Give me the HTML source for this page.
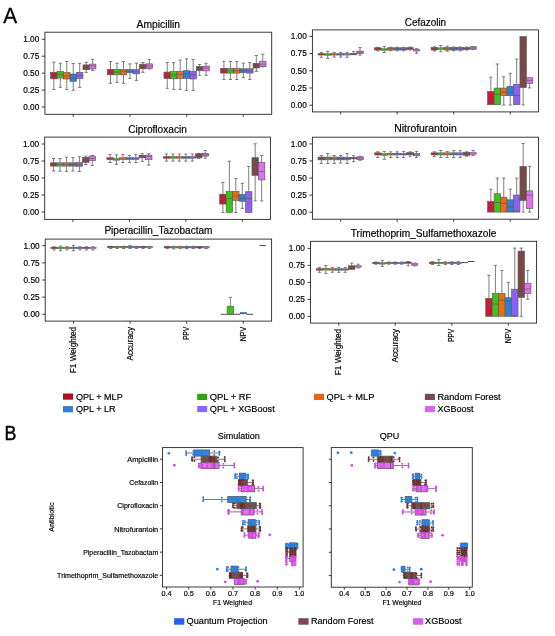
<!DOCTYPE html>
<html><head><meta charset="utf-8"><style>
html,body{margin:0;padding:0;background:#fff;}
svg{display:block;will-change:transform;}
text{font-family:"Liberation Sans", sans-serif;stroke:#000;stroke-width:0.18px;}
</style></head><body>
<svg width="555" height="636" viewBox="0 0 555 636">
<rect x="0" y="0" width="555" height="636" fill="#fff"/>
<line x1="53.81" y1="62.10" x2="53.81" y2="72.30" stroke="#6e6e6e" stroke-width="0.9"/>
<line x1="52.19" y1="62.10" x2="55.43" y2="62.10" stroke="#6e6e6e" stroke-width="0.9"/>
<line x1="53.81" y1="78.80" x2="53.81" y2="89.50" stroke="#6e6e6e" stroke-width="0.9"/>
<line x1="52.19" y1="89.50" x2="55.43" y2="89.50" stroke="#6e6e6e" stroke-width="0.9"/>
<rect x="50.57" y="72.30" width="6.48" height="6.50" fill="#d0153a" stroke="#5a5a5a" stroke-width="0.65"/>
<line x1="50.57" y1="76.00" x2="57.05" y2="76.00" stroke="#5a5a5a" stroke-width="0.7"/>
<line x1="60.29" y1="63.30" x2="60.29" y2="71.40" stroke="#6e6e6e" stroke-width="0.9"/>
<line x1="58.67" y1="63.30" x2="61.91" y2="63.30" stroke="#6e6e6e" stroke-width="0.9"/>
<line x1="60.29" y1="78.10" x2="60.29" y2="87.30" stroke="#6e6e6e" stroke-width="0.9"/>
<line x1="58.67" y1="87.30" x2="61.91" y2="87.30" stroke="#6e6e6e" stroke-width="0.9"/>
<rect x="57.05" y="71.40" width="6.48" height="6.70" fill="#3cc21a" stroke="#5a5a5a" stroke-width="0.65"/>
<line x1="57.05" y1="74.60" x2="63.53" y2="74.60" stroke="#5a5a5a" stroke-width="0.7"/>
<line x1="66.77" y1="61.50" x2="66.77" y2="72.50" stroke="#6e6e6e" stroke-width="0.9"/>
<line x1="65.15" y1="61.50" x2="68.39" y2="61.50" stroke="#6e6e6e" stroke-width="0.9"/>
<line x1="66.77" y1="79.00" x2="66.77" y2="89.50" stroke="#6e6e6e" stroke-width="0.9"/>
<line x1="65.15" y1="89.50" x2="68.39" y2="89.50" stroke="#6e6e6e" stroke-width="0.9"/>
<rect x="63.53" y="72.50" width="6.48" height="6.50" fill="#ee6c0f" stroke="#5a5a5a" stroke-width="0.65"/>
<line x1="63.53" y1="76.00" x2="70.01" y2="76.00" stroke="#5a5a5a" stroke-width="0.7"/>
<line x1="73.25" y1="63.50" x2="73.25" y2="74.00" stroke="#6e6e6e" stroke-width="0.9"/>
<line x1="71.63" y1="63.50" x2="74.87" y2="63.50" stroke="#6e6e6e" stroke-width="0.9"/>
<line x1="73.25" y1="81.30" x2="73.25" y2="90.30" stroke="#6e6e6e" stroke-width="0.9"/>
<line x1="71.63" y1="90.30" x2="74.87" y2="90.30" stroke="#6e6e6e" stroke-width="0.9"/>
<rect x="70.01" y="74.00" width="6.48" height="7.30" fill="#2e80d6" stroke="#5a5a5a" stroke-width="0.65"/>
<line x1="70.01" y1="77.80" x2="76.49" y2="77.80" stroke="#5a5a5a" stroke-width="0.7"/>
<line x1="79.73" y1="63.30" x2="79.73" y2="72.30" stroke="#6e6e6e" stroke-width="0.9"/>
<line x1="78.11" y1="63.30" x2="81.35" y2="63.30" stroke="#6e6e6e" stroke-width="0.9"/>
<line x1="79.73" y1="78.60" x2="79.73" y2="87.40" stroke="#6e6e6e" stroke-width="0.9"/>
<line x1="78.11" y1="87.40" x2="81.35" y2="87.40" stroke="#6e6e6e" stroke-width="0.9"/>
<rect x="76.49" y="72.30" width="6.48" height="6.30" fill="#8f60f5" stroke="#5a5a5a" stroke-width="0.65"/>
<line x1="76.49" y1="75.60" x2="82.97" y2="75.60" stroke="#5a5a5a" stroke-width="0.7"/>
<line x1="86.21" y1="62.30" x2="86.21" y2="64.90" stroke="#6e6e6e" stroke-width="0.9"/>
<line x1="84.59" y1="62.30" x2="87.83" y2="62.30" stroke="#6e6e6e" stroke-width="0.9"/>
<line x1="86.21" y1="69.70" x2="86.21" y2="72.40" stroke="#6e6e6e" stroke-width="0.9"/>
<line x1="84.59" y1="72.40" x2="87.83" y2="72.40" stroke="#6e6e6e" stroke-width="0.9"/>
<rect x="82.97" y="64.90" width="6.48" height="4.80" fill="#7a4848" stroke="#5a5a5a" stroke-width="0.65"/>
<line x1="82.97" y1="67.40" x2="89.45" y2="67.40" stroke="#5a5a5a" stroke-width="0.7"/>
<line x1="92.69" y1="59.40" x2="92.69" y2="64.10" stroke="#6e6e6e" stroke-width="0.9"/>
<line x1="91.07" y1="59.40" x2="94.31" y2="59.40" stroke="#6e6e6e" stroke-width="0.9"/>
<line x1="92.69" y1="68.90" x2="92.69" y2="70.40" stroke="#6e6e6e" stroke-width="0.9"/>
<line x1="91.07" y1="70.40" x2="94.31" y2="70.40" stroke="#6e6e6e" stroke-width="0.9"/>
<rect x="89.45" y="64.10" width="6.48" height="4.80" fill="#e070f0" stroke="#5a5a5a" stroke-width="0.65"/>
<line x1="89.45" y1="65.90" x2="95.93" y2="65.90" stroke="#5a5a5a" stroke-width="0.7"/>
<line x1="110.51" y1="61.50" x2="110.51" y2="69.30" stroke="#6e6e6e" stroke-width="0.9"/>
<line x1="108.89" y1="61.50" x2="112.13" y2="61.50" stroke="#6e6e6e" stroke-width="0.9"/>
<line x1="110.51" y1="74.80" x2="110.51" y2="83.30" stroke="#6e6e6e" stroke-width="0.9"/>
<line x1="108.89" y1="83.30" x2="112.13" y2="83.30" stroke="#6e6e6e" stroke-width="0.9"/>
<rect x="107.27" y="69.30" width="6.48" height="5.50" fill="#d0153a" stroke="#5a5a5a" stroke-width="0.65"/>
<line x1="107.27" y1="72.10" x2="113.75" y2="72.10" stroke="#5a5a5a" stroke-width="0.7"/>
<line x1="116.99" y1="63.20" x2="116.99" y2="69.30" stroke="#6e6e6e" stroke-width="0.9"/>
<line x1="115.37" y1="63.20" x2="118.61" y2="63.20" stroke="#6e6e6e" stroke-width="0.9"/>
<line x1="116.99" y1="74.80" x2="116.99" y2="82.40" stroke="#6e6e6e" stroke-width="0.9"/>
<line x1="115.37" y1="82.40" x2="118.61" y2="82.40" stroke="#6e6e6e" stroke-width="0.9"/>
<rect x="113.75" y="69.30" width="6.48" height="5.50" fill="#3cc21a" stroke="#5a5a5a" stroke-width="0.65"/>
<line x1="113.75" y1="72.10" x2="120.23" y2="72.10" stroke="#5a5a5a" stroke-width="0.7"/>
<line x1="123.47" y1="61.50" x2="123.47" y2="69.60" stroke="#6e6e6e" stroke-width="0.9"/>
<line x1="121.85" y1="61.50" x2="125.09" y2="61.50" stroke="#6e6e6e" stroke-width="0.9"/>
<line x1="123.47" y1="74.80" x2="123.47" y2="83.30" stroke="#6e6e6e" stroke-width="0.9"/>
<line x1="121.85" y1="83.30" x2="125.09" y2="83.30" stroke="#6e6e6e" stroke-width="0.9"/>
<rect x="120.23" y="69.60" width="6.48" height="5.20" fill="#ee6c0f" stroke="#5a5a5a" stroke-width="0.65"/>
<line x1="120.23" y1="71.20" x2="126.71" y2="71.20" stroke="#5a5a5a" stroke-width="0.7"/>
<line x1="129.95" y1="63.90" x2="129.95" y2="69.60" stroke="#6e6e6e" stroke-width="0.9"/>
<line x1="128.33" y1="63.90" x2="131.57" y2="63.90" stroke="#6e6e6e" stroke-width="0.9"/>
<line x1="129.95" y1="72.80" x2="129.95" y2="78.40" stroke="#6e6e6e" stroke-width="0.9"/>
<line x1="128.33" y1="78.40" x2="131.57" y2="78.40" stroke="#6e6e6e" stroke-width="0.9"/>
<rect x="126.71" y="69.60" width="6.48" height="3.20" fill="#2e80d6" stroke="#5a5a5a" stroke-width="0.65"/>
<line x1="126.71" y1="71.20" x2="133.19" y2="71.20" stroke="#5a5a5a" stroke-width="0.7"/>
<line x1="136.43" y1="63.20" x2="136.43" y2="69.60" stroke="#6e6e6e" stroke-width="0.9"/>
<line x1="134.81" y1="63.20" x2="138.05" y2="63.20" stroke="#6e6e6e" stroke-width="0.9"/>
<line x1="136.43" y1="73.90" x2="136.43" y2="80.40" stroke="#6e6e6e" stroke-width="0.9"/>
<line x1="134.81" y1="80.40" x2="138.05" y2="80.40" stroke="#6e6e6e" stroke-width="0.9"/>
<rect x="133.19" y="69.60" width="6.48" height="4.30" fill="#8f60f5" stroke="#5a5a5a" stroke-width="0.65"/>
<line x1="133.19" y1="71.80" x2="139.67" y2="71.80" stroke="#5a5a5a" stroke-width="0.7"/>
<line x1="142.91" y1="62.60" x2="142.91" y2="64.20" stroke="#6e6e6e" stroke-width="0.9"/>
<line x1="141.29" y1="62.60" x2="144.53" y2="62.60" stroke="#6e6e6e" stroke-width="0.9"/>
<line x1="142.91" y1="68.80" x2="142.91" y2="72.30" stroke="#6e6e6e" stroke-width="0.9"/>
<line x1="141.29" y1="72.30" x2="144.53" y2="72.30" stroke="#6e6e6e" stroke-width="0.9"/>
<rect x="139.67" y="64.20" width="6.48" height="4.60" fill="#7a4848" stroke="#5a5a5a" stroke-width="0.65"/>
<line x1="139.67" y1="66.70" x2="146.15" y2="66.70" stroke="#5a5a5a" stroke-width="0.7"/>
<line x1="149.39" y1="59.50" x2="149.39" y2="63.90" stroke="#6e6e6e" stroke-width="0.9"/>
<line x1="147.77" y1="59.50" x2="151.01" y2="59.50" stroke="#6e6e6e" stroke-width="0.9"/>
<line x1="149.39" y1="68.50" x2="149.39" y2="69.00" stroke="#6e6e6e" stroke-width="0.9"/>
<line x1="147.77" y1="69.00" x2="151.01" y2="69.00" stroke="#6e6e6e" stroke-width="0.9"/>
<rect x="146.15" y="63.90" width="6.48" height="4.60" fill="#e070f0" stroke="#5a5a5a" stroke-width="0.65"/>
<line x1="146.15" y1="66.10" x2="152.63" y2="66.10" stroke="#5a5a5a" stroke-width="0.7"/>
<line x1="167.21" y1="62.60" x2="167.21" y2="72.10" stroke="#6e6e6e" stroke-width="0.9"/>
<line x1="165.59" y1="62.60" x2="168.83" y2="62.60" stroke="#6e6e6e" stroke-width="0.9"/>
<line x1="167.21" y1="78.50" x2="167.21" y2="88.30" stroke="#6e6e6e" stroke-width="0.9"/>
<line x1="165.59" y1="88.30" x2="168.83" y2="88.30" stroke="#6e6e6e" stroke-width="0.9"/>
<rect x="163.97" y="72.10" width="6.48" height="6.40" fill="#d0153a" stroke="#5a5a5a" stroke-width="0.65"/>
<line x1="163.97" y1="75.00" x2="170.45" y2="75.00" stroke="#5a5a5a" stroke-width="0.7"/>
<line x1="173.69" y1="62.60" x2="173.69" y2="71.40" stroke="#6e6e6e" stroke-width="0.9"/>
<line x1="172.07" y1="62.60" x2="175.31" y2="62.60" stroke="#6e6e6e" stroke-width="0.9"/>
<line x1="173.69" y1="78.80" x2="173.69" y2="89.40" stroke="#6e6e6e" stroke-width="0.9"/>
<line x1="172.07" y1="89.40" x2="175.31" y2="89.40" stroke="#6e6e6e" stroke-width="0.9"/>
<rect x="170.45" y="71.40" width="6.48" height="7.40" fill="#3cc21a" stroke="#5a5a5a" stroke-width="0.65"/>
<line x1="170.45" y1="75.00" x2="176.93" y2="75.00" stroke="#5a5a5a" stroke-width="0.7"/>
<line x1="180.17" y1="60.20" x2="180.17" y2="71.40" stroke="#6e6e6e" stroke-width="0.9"/>
<line x1="178.55" y1="60.20" x2="181.79" y2="60.20" stroke="#6e6e6e" stroke-width="0.9"/>
<line x1="180.17" y1="78.50" x2="180.17" y2="89.40" stroke="#6e6e6e" stroke-width="0.9"/>
<line x1="178.55" y1="89.40" x2="181.79" y2="89.40" stroke="#6e6e6e" stroke-width="0.9"/>
<rect x="176.93" y="71.40" width="6.48" height="7.10" fill="#ee6c0f" stroke="#5a5a5a" stroke-width="0.65"/>
<line x1="176.93" y1="74.50" x2="183.41" y2="74.50" stroke="#5a5a5a" stroke-width="0.7"/>
<line x1="186.65" y1="58.80" x2="186.65" y2="70.70" stroke="#6e6e6e" stroke-width="0.9"/>
<line x1="185.03" y1="58.80" x2="188.27" y2="58.80" stroke="#6e6e6e" stroke-width="0.9"/>
<line x1="186.65" y1="78.50" x2="186.65" y2="90.40" stroke="#6e6e6e" stroke-width="0.9"/>
<line x1="185.03" y1="90.40" x2="188.27" y2="90.40" stroke="#6e6e6e" stroke-width="0.9"/>
<rect x="183.41" y="70.70" width="6.48" height="7.80" fill="#2e80d6" stroke="#5a5a5a" stroke-width="0.65"/>
<line x1="183.41" y1="73.60" x2="189.89" y2="73.60" stroke="#5a5a5a" stroke-width="0.7"/>
<line x1="193.13" y1="59.50" x2="193.13" y2="71.40" stroke="#6e6e6e" stroke-width="0.9"/>
<line x1="191.51" y1="59.50" x2="194.75" y2="59.50" stroke="#6e6e6e" stroke-width="0.9"/>
<line x1="193.13" y1="79.00" x2="193.13" y2="90.40" stroke="#6e6e6e" stroke-width="0.9"/>
<line x1="191.51" y1="90.40" x2="194.75" y2="90.40" stroke="#6e6e6e" stroke-width="0.9"/>
<rect x="189.89" y="71.40" width="6.48" height="7.60" fill="#8f60f5" stroke="#5a5a5a" stroke-width="0.65"/>
<line x1="189.89" y1="74.80" x2="196.37" y2="74.80" stroke="#5a5a5a" stroke-width="0.7"/>
<line x1="199.61" y1="64.50" x2="199.61" y2="66.40" stroke="#6e6e6e" stroke-width="0.9"/>
<line x1="197.99" y1="64.50" x2="201.23" y2="64.50" stroke="#6e6e6e" stroke-width="0.9"/>
<line x1="199.61" y1="70.70" x2="199.61" y2="75.30" stroke="#6e6e6e" stroke-width="0.9"/>
<line x1="197.99" y1="75.30" x2="201.23" y2="75.30" stroke="#6e6e6e" stroke-width="0.9"/>
<rect x="196.37" y="66.40" width="6.48" height="4.30" fill="#7a4848" stroke="#5a5a5a" stroke-width="0.65"/>
<line x1="196.37" y1="68.50" x2="202.85" y2="68.50" stroke="#5a5a5a" stroke-width="0.7"/>
<line x1="206.09" y1="63.30" x2="206.09" y2="66.10" stroke="#6e6e6e" stroke-width="0.9"/>
<line x1="204.47" y1="63.30" x2="207.71" y2="63.30" stroke="#6e6e6e" stroke-width="0.9"/>
<line x1="206.09" y1="70.90" x2="206.09" y2="75.30" stroke="#6e6e6e" stroke-width="0.9"/>
<line x1="204.47" y1="75.30" x2="207.71" y2="75.30" stroke="#6e6e6e" stroke-width="0.9"/>
<rect x="202.85" y="66.10" width="6.48" height="4.80" fill="#e070f0" stroke="#5a5a5a" stroke-width="0.65"/>
<line x1="202.85" y1="68.00" x2="209.33" y2="68.00" stroke="#5a5a5a" stroke-width="0.7"/>
<line x1="223.91" y1="61.30" x2="223.91" y2="68.30" stroke="#6e6e6e" stroke-width="0.9"/>
<line x1="222.29" y1="61.30" x2="225.53" y2="61.30" stroke="#6e6e6e" stroke-width="0.9"/>
<line x1="223.91" y1="73.10" x2="223.91" y2="79.50" stroke="#6e6e6e" stroke-width="0.9"/>
<line x1="222.29" y1="79.50" x2="225.53" y2="79.50" stroke="#6e6e6e" stroke-width="0.9"/>
<rect x="220.67" y="68.30" width="6.48" height="4.80" fill="#d0153a" stroke="#5a5a5a" stroke-width="0.65"/>
<line x1="220.67" y1="70.70" x2="227.15" y2="70.70" stroke="#5a5a5a" stroke-width="0.7"/>
<line x1="230.39" y1="61.50" x2="230.39" y2="68.30" stroke="#6e6e6e" stroke-width="0.9"/>
<line x1="228.77" y1="61.50" x2="232.01" y2="61.50" stroke="#6e6e6e" stroke-width="0.9"/>
<line x1="230.39" y1="73.10" x2="230.39" y2="79.50" stroke="#6e6e6e" stroke-width="0.9"/>
<line x1="228.77" y1="79.50" x2="232.01" y2="79.50" stroke="#6e6e6e" stroke-width="0.9"/>
<rect x="227.15" y="68.30" width="6.48" height="4.80" fill="#3cc21a" stroke="#5a5a5a" stroke-width="0.65"/>
<line x1="227.15" y1="70.70" x2="233.63" y2="70.70" stroke="#5a5a5a" stroke-width="0.7"/>
<line x1="236.87" y1="61.50" x2="236.87" y2="68.30" stroke="#6e6e6e" stroke-width="0.9"/>
<line x1="235.25" y1="61.50" x2="238.49" y2="61.50" stroke="#6e6e6e" stroke-width="0.9"/>
<line x1="236.87" y1="73.10" x2="236.87" y2="79.50" stroke="#6e6e6e" stroke-width="0.9"/>
<line x1="235.25" y1="79.50" x2="238.49" y2="79.50" stroke="#6e6e6e" stroke-width="0.9"/>
<rect x="233.63" y="68.30" width="6.48" height="4.80" fill="#ee6c0f" stroke="#5a5a5a" stroke-width="0.65"/>
<line x1="233.63" y1="70.70" x2="240.11" y2="70.70" stroke="#5a5a5a" stroke-width="0.7"/>
<line x1="243.35" y1="63.10" x2="243.35" y2="68.80" stroke="#6e6e6e" stroke-width="0.9"/>
<line x1="241.73" y1="63.10" x2="244.97" y2="63.10" stroke="#6e6e6e" stroke-width="0.9"/>
<line x1="243.35" y1="72.60" x2="243.35" y2="77.70" stroke="#6e6e6e" stroke-width="0.9"/>
<line x1="241.73" y1="77.70" x2="244.97" y2="77.70" stroke="#6e6e6e" stroke-width="0.9"/>
<rect x="240.11" y="68.80" width="6.48" height="3.80" fill="#2e80d6" stroke="#5a5a5a" stroke-width="0.65"/>
<line x1="240.11" y1="70.70" x2="246.59" y2="70.70" stroke="#5a5a5a" stroke-width="0.7"/>
<line x1="249.83" y1="62.60" x2="249.83" y2="68.70" stroke="#6e6e6e" stroke-width="0.9"/>
<line x1="248.21" y1="62.60" x2="251.45" y2="62.60" stroke="#6e6e6e" stroke-width="0.9"/>
<line x1="249.83" y1="73.10" x2="249.83" y2="79.50" stroke="#6e6e6e" stroke-width="0.9"/>
<line x1="248.21" y1="79.50" x2="251.45" y2="79.50" stroke="#6e6e6e" stroke-width="0.9"/>
<rect x="246.59" y="68.70" width="6.48" height="4.40" fill="#8f60f5" stroke="#5a5a5a" stroke-width="0.65"/>
<line x1="246.59" y1="71.00" x2="253.07" y2="71.00" stroke="#5a5a5a" stroke-width="0.7"/>
<line x1="256.31" y1="55.50" x2="256.31" y2="63.30" stroke="#6e6e6e" stroke-width="0.9"/>
<line x1="254.69" y1="55.50" x2="257.93" y2="55.50" stroke="#6e6e6e" stroke-width="0.9"/>
<line x1="256.31" y1="68.00" x2="256.31" y2="71.40" stroke="#6e6e6e" stroke-width="0.9"/>
<line x1="254.69" y1="71.40" x2="257.93" y2="71.40" stroke="#6e6e6e" stroke-width="0.9"/>
<rect x="253.07" y="63.30" width="6.48" height="4.70" fill="#7a4848" stroke="#5a5a5a" stroke-width="0.65"/>
<line x1="253.07" y1="65.50" x2="259.55" y2="65.50" stroke="#5a5a5a" stroke-width="0.7"/>
<line x1="262.79" y1="54.20" x2="262.79" y2="61.20" stroke="#6e6e6e" stroke-width="0.9"/>
<line x1="261.17" y1="54.20" x2="264.41" y2="54.20" stroke="#6e6e6e" stroke-width="0.9"/>
<line x1="262.79" y1="66.70" x2="262.79" y2="66.90" stroke="#6e6e6e" stroke-width="0.9"/>
<line x1="261.17" y1="66.90" x2="264.41" y2="66.90" stroke="#6e6e6e" stroke-width="0.9"/>
<rect x="259.55" y="61.20" width="6.48" height="5.50" fill="#e070f0" stroke="#5a5a5a" stroke-width="0.65"/>
<line x1="259.55" y1="64.20" x2="266.03" y2="64.20" stroke="#5a5a5a" stroke-width="0.7"/>
<rect x="44.90" y="32.20" width="226.80" height="82.10" fill="none" stroke="#262626" stroke-width="0.9"/>
<line x1="41.90" y1="39.30" x2="44.90" y2="39.30" stroke="#262626" stroke-width="0.9"/>
<text x="39.30" y="42.25" font-size="8.3" text-anchor="end" fill="#000" textLength="16.10" lengthAdjust="spacingAndGlyphs">1.00</text>
<line x1="41.90" y1="56.22" x2="44.90" y2="56.22" stroke="#262626" stroke-width="0.9"/>
<text x="39.30" y="59.17" font-size="8.3" text-anchor="end" fill="#000" textLength="16.10" lengthAdjust="spacingAndGlyphs">0.75</text>
<line x1="41.90" y1="73.15" x2="44.90" y2="73.15" stroke="#262626" stroke-width="0.9"/>
<text x="39.30" y="76.10" font-size="8.3" text-anchor="end" fill="#000" textLength="16.10" lengthAdjust="spacingAndGlyphs">0.50</text>
<line x1="41.90" y1="90.08" x2="44.90" y2="90.08" stroke="#262626" stroke-width="0.9"/>
<text x="39.30" y="93.03" font-size="8.3" text-anchor="end" fill="#000" textLength="16.10" lengthAdjust="spacingAndGlyphs">0.25</text>
<line x1="41.90" y1="107.00" x2="44.90" y2="107.00" stroke="#262626" stroke-width="0.9"/>
<text x="39.30" y="109.95" font-size="8.3" text-anchor="end" fill="#000" textLength="16.10" lengthAdjust="spacingAndGlyphs">0.00</text>
<line x1="73.25" y1="114.30" x2="73.25" y2="116.80" stroke="#262626" stroke-width="0.9"/>
<line x1="129.95" y1="114.30" x2="129.95" y2="116.80" stroke="#262626" stroke-width="0.9"/>
<line x1="186.65" y1="114.30" x2="186.65" y2="116.80" stroke="#262626" stroke-width="0.9"/>
<line x1="243.35" y1="114.30" x2="243.35" y2="116.80" stroke="#262626" stroke-width="0.9"/>
<text x="158.30" y="28.00" font-size="10" text-anchor="middle" fill="#000" textLength="43.50" lengthAdjust="spacingAndGlyphs">Ampicillin</text>
<line x1="321.28" y1="52.40" x2="321.28" y2="53.70" stroke="#6e6e6e" stroke-width="0.9"/>
<line x1="319.67" y1="52.40" x2="322.90" y2="52.40" stroke="#6e6e6e" stroke-width="0.9"/>
<line x1="321.28" y1="54.90" x2="321.28" y2="57.30" stroke="#6e6e6e" stroke-width="0.9"/>
<line x1="319.67" y1="57.30" x2="322.90" y2="57.30" stroke="#6e6e6e" stroke-width="0.9"/>
<rect x="318.05" y="53.55" width="6.46" height="1.50" fill="#d0153a" stroke="#5a5a5a" stroke-width="0.45"/>
<line x1="318.05" y1="54.40" x2="324.51" y2="54.40" stroke="#5a5a5a" stroke-width="0.35"/>
<line x1="327.74" y1="51.40" x2="327.74" y2="53.50" stroke="#6e6e6e" stroke-width="0.9"/>
<line x1="326.13" y1="51.40" x2="329.36" y2="51.40" stroke="#6e6e6e" stroke-width="0.9"/>
<line x1="327.74" y1="55.40" x2="327.74" y2="58.40" stroke="#6e6e6e" stroke-width="0.9"/>
<line x1="326.13" y1="58.40" x2="329.36" y2="58.40" stroke="#6e6e6e" stroke-width="0.9"/>
<rect x="324.51" y="53.50" width="6.46" height="1.90" fill="#3cc21a" stroke="#5a5a5a" stroke-width="0.45"/>
<line x1="324.51" y1="54.40" x2="330.97" y2="54.40" stroke="#5a5a5a" stroke-width="0.35"/>
<line x1="334.20" y1="52.40" x2="334.20" y2="53.80" stroke="#6e6e6e" stroke-width="0.9"/>
<line x1="332.59" y1="52.40" x2="335.82" y2="52.40" stroke="#6e6e6e" stroke-width="0.9"/>
<line x1="334.20" y1="54.90" x2="334.20" y2="57.10" stroke="#6e6e6e" stroke-width="0.9"/>
<line x1="332.59" y1="57.10" x2="335.82" y2="57.10" stroke="#6e6e6e" stroke-width="0.9"/>
<rect x="330.97" y="53.60" width="6.46" height="1.50" fill="#ee6c0f" stroke="#5a5a5a" stroke-width="0.45"/>
<line x1="330.97" y1="54.40" x2="337.43" y2="54.40" stroke="#5a5a5a" stroke-width="0.35"/>
<line x1="340.66" y1="52.40" x2="340.66" y2="53.80" stroke="#6e6e6e" stroke-width="0.9"/>
<line x1="339.05" y1="52.40" x2="342.28" y2="52.40" stroke="#6e6e6e" stroke-width="0.9"/>
<line x1="340.66" y1="54.90" x2="340.66" y2="57.10" stroke="#6e6e6e" stroke-width="0.9"/>
<line x1="339.05" y1="57.10" x2="342.28" y2="57.10" stroke="#6e6e6e" stroke-width="0.9"/>
<rect x="337.43" y="53.60" width="6.46" height="1.50" fill="#2e80d6" stroke="#5a5a5a" stroke-width="0.45"/>
<line x1="337.43" y1="54.40" x2="343.89" y2="54.40" stroke="#5a5a5a" stroke-width="0.35"/>
<line x1="347.12" y1="52.40" x2="347.12" y2="53.70" stroke="#6e6e6e" stroke-width="0.9"/>
<line x1="345.51" y1="52.40" x2="348.74" y2="52.40" stroke="#6e6e6e" stroke-width="0.9"/>
<line x1="347.12" y1="54.90" x2="347.12" y2="57.30" stroke="#6e6e6e" stroke-width="0.9"/>
<line x1="345.51" y1="57.30" x2="348.74" y2="57.30" stroke="#6e6e6e" stroke-width="0.9"/>
<rect x="343.89" y="53.55" width="6.46" height="1.50" fill="#8f60f5" stroke="#5a5a5a" stroke-width="0.45"/>
<line x1="343.89" y1="54.40" x2="350.35" y2="54.40" stroke="#5a5a5a" stroke-width="0.35"/>
<line x1="353.58" y1="51.40" x2="353.58" y2="53.20" stroke="#6e6e6e" stroke-width="0.9"/>
<line x1="351.97" y1="51.40" x2="355.20" y2="51.40" stroke="#6e6e6e" stroke-width="0.9"/>
<rect x="350.35" y="53.20" width="6.46" height="1.70" fill="#7a4848" stroke="#5a5a5a" stroke-width="0.45"/>
<line x1="350.35" y1="54.20" x2="356.81" y2="54.20" stroke="#5a5a5a" stroke-width="0.35"/>
<line x1="360.04" y1="47.60" x2="360.04" y2="51.10" stroke="#6e6e6e" stroke-width="0.9"/>
<line x1="358.43" y1="47.60" x2="361.66" y2="47.60" stroke="#6e6e6e" stroke-width="0.9"/>
<line x1="360.04" y1="53.50" x2="360.04" y2="55.10" stroke="#6e6e6e" stroke-width="0.9"/>
<line x1="358.43" y1="55.10" x2="361.66" y2="55.10" stroke="#6e6e6e" stroke-width="0.9"/>
<rect x="356.81" y="51.10" width="6.46" height="2.40" fill="#e070f0" stroke="#5a5a5a" stroke-width="0.65"/>
<line x1="356.81" y1="52.20" x2="363.27" y2="52.20" stroke="#5a5a5a" stroke-width="0.7"/>
<line x1="377.81" y1="47.30" x2="377.81" y2="47.80" stroke="#6e6e6e" stroke-width="0.9"/>
<line x1="376.19" y1="47.30" x2="379.42" y2="47.30" stroke="#6e6e6e" stroke-width="0.9"/>
<line x1="377.81" y1="50.00" x2="377.81" y2="50.80" stroke="#6e6e6e" stroke-width="0.9"/>
<line x1="376.19" y1="50.80" x2="379.42" y2="50.80" stroke="#6e6e6e" stroke-width="0.9"/>
<rect x="374.58" y="47.80" width="6.46" height="2.20" fill="#d0153a" stroke="#5a5a5a" stroke-width="0.65"/>
<line x1="374.58" y1="49.00" x2="381.04" y2="49.00" stroke="#5a5a5a" stroke-width="0.7"/>
<line x1="384.27" y1="46.40" x2="384.27" y2="48.60" stroke="#6e6e6e" stroke-width="0.9"/>
<line x1="382.65" y1="46.40" x2="385.88" y2="46.40" stroke="#6e6e6e" stroke-width="0.9"/>
<line x1="384.27" y1="50.50" x2="384.27" y2="52.50" stroke="#6e6e6e" stroke-width="0.9"/>
<line x1="382.65" y1="52.50" x2="385.88" y2="52.50" stroke="#6e6e6e" stroke-width="0.9"/>
<rect x="381.04" y="48.60" width="6.46" height="1.90" fill="#3cc21a" stroke="#5a5a5a" stroke-width="0.45"/>
<line x1="381.04" y1="49.50" x2="387.50" y2="49.50" stroke="#5a5a5a" stroke-width="0.35"/>
<line x1="390.73" y1="47.30" x2="390.73" y2="47.80" stroke="#6e6e6e" stroke-width="0.9"/>
<line x1="389.11" y1="47.30" x2="392.34" y2="47.30" stroke="#6e6e6e" stroke-width="0.9"/>
<line x1="390.73" y1="50.00" x2="390.73" y2="50.80" stroke="#6e6e6e" stroke-width="0.9"/>
<line x1="389.11" y1="50.80" x2="392.34" y2="50.80" stroke="#6e6e6e" stroke-width="0.9"/>
<rect x="387.50" y="47.80" width="6.46" height="2.20" fill="#ee6c0f" stroke="#5a5a5a" stroke-width="0.65"/>
<line x1="387.50" y1="49.00" x2="393.96" y2="49.00" stroke="#5a5a5a" stroke-width="0.7"/>
<line x1="397.19" y1="47.30" x2="397.19" y2="47.80" stroke="#6e6e6e" stroke-width="0.9"/>
<line x1="395.57" y1="47.30" x2="398.80" y2="47.30" stroke="#6e6e6e" stroke-width="0.9"/>
<line x1="397.19" y1="50.00" x2="397.19" y2="50.80" stroke="#6e6e6e" stroke-width="0.9"/>
<line x1="395.57" y1="50.80" x2="398.80" y2="50.80" stroke="#6e6e6e" stroke-width="0.9"/>
<rect x="393.96" y="47.80" width="6.46" height="2.20" fill="#2e80d6" stroke="#5a5a5a" stroke-width="0.65"/>
<line x1="393.96" y1="49.00" x2="400.42" y2="49.00" stroke="#5a5a5a" stroke-width="0.7"/>
<line x1="403.65" y1="47.30" x2="403.65" y2="47.80" stroke="#6e6e6e" stroke-width="0.9"/>
<line x1="402.03" y1="47.30" x2="405.26" y2="47.30" stroke="#6e6e6e" stroke-width="0.9"/>
<line x1="403.65" y1="50.00" x2="403.65" y2="50.80" stroke="#6e6e6e" stroke-width="0.9"/>
<line x1="402.03" y1="50.80" x2="405.26" y2="50.80" stroke="#6e6e6e" stroke-width="0.9"/>
<rect x="400.42" y="47.80" width="6.46" height="2.20" fill="#8f60f5" stroke="#5a5a5a" stroke-width="0.65"/>
<line x1="400.42" y1="49.00" x2="406.88" y2="49.00" stroke="#5a5a5a" stroke-width="0.7"/>
<line x1="410.11" y1="47.00" x2="410.11" y2="47.50" stroke="#6e6e6e" stroke-width="0.9"/>
<line x1="408.49" y1="47.00" x2="411.72" y2="47.00" stroke="#6e6e6e" stroke-width="0.9"/>
<line x1="410.11" y1="49.50" x2="410.11" y2="50.00" stroke="#6e6e6e" stroke-width="0.9"/>
<line x1="408.49" y1="50.00" x2="411.72" y2="50.00" stroke="#6e6e6e" stroke-width="0.9"/>
<rect x="406.88" y="47.50" width="6.46" height="2.00" fill="#7a4848" stroke="#5a5a5a" stroke-width="0.45"/>
<line x1="406.88" y1="48.50" x2="413.34" y2="48.50" stroke="#5a5a5a" stroke-width="0.35"/>
<line x1="416.57" y1="48.40" x2="416.57" y2="49.20" stroke="#6e6e6e" stroke-width="0.9"/>
<line x1="414.95" y1="48.40" x2="418.18" y2="48.40" stroke="#6e6e6e" stroke-width="0.9"/>
<line x1="416.57" y1="51.10" x2="416.57" y2="53.20" stroke="#6e6e6e" stroke-width="0.9"/>
<line x1="414.95" y1="53.20" x2="418.18" y2="53.20" stroke="#6e6e6e" stroke-width="0.9"/>
<rect x="413.34" y="49.20" width="6.46" height="1.90" fill="#e070f0" stroke="#5a5a5a" stroke-width="0.45"/>
<line x1="413.34" y1="50.10" x2="419.80" y2="50.10" stroke="#5a5a5a" stroke-width="0.35"/>
<line x1="434.33" y1="46.80" x2="434.33" y2="47.50" stroke="#6e6e6e" stroke-width="0.9"/>
<line x1="432.72" y1="46.80" x2="435.95" y2="46.80" stroke="#6e6e6e" stroke-width="0.9"/>
<line x1="434.33" y1="50.00" x2="434.33" y2="51.00" stroke="#6e6e6e" stroke-width="0.9"/>
<line x1="432.72" y1="51.00" x2="435.95" y2="51.00" stroke="#6e6e6e" stroke-width="0.9"/>
<rect x="431.10" y="47.50" width="6.46" height="2.50" fill="#d0153a" stroke="#5a5a5a" stroke-width="0.65"/>
<line x1="431.10" y1="48.70" x2="437.56" y2="48.70" stroke="#5a5a5a" stroke-width="0.7"/>
<line x1="440.79" y1="45.50" x2="440.79" y2="47.80" stroke="#6e6e6e" stroke-width="0.9"/>
<line x1="439.18" y1="45.50" x2="442.41" y2="45.50" stroke="#6e6e6e" stroke-width="0.9"/>
<line x1="440.79" y1="49.50" x2="440.79" y2="51.70" stroke="#6e6e6e" stroke-width="0.9"/>
<line x1="439.18" y1="51.70" x2="442.41" y2="51.70" stroke="#6e6e6e" stroke-width="0.9"/>
<rect x="437.56" y="47.80" width="6.46" height="1.70" fill="#3cc21a" stroke="#5a5a5a" stroke-width="0.45"/>
<line x1="437.56" y1="48.70" x2="444.02" y2="48.70" stroke="#5a5a5a" stroke-width="0.35"/>
<line x1="447.25" y1="46.20" x2="447.25" y2="47.50" stroke="#6e6e6e" stroke-width="0.9"/>
<line x1="445.64" y1="46.20" x2="448.87" y2="46.20" stroke="#6e6e6e" stroke-width="0.9"/>
<line x1="447.25" y1="50.00" x2="447.25" y2="51.20" stroke="#6e6e6e" stroke-width="0.9"/>
<line x1="445.64" y1="51.20" x2="448.87" y2="51.20" stroke="#6e6e6e" stroke-width="0.9"/>
<rect x="444.02" y="47.50" width="6.46" height="2.50" fill="#ee6c0f" stroke="#5a5a5a" stroke-width="0.65"/>
<line x1="444.02" y1="48.70" x2="450.48" y2="48.70" stroke="#5a5a5a" stroke-width="0.7"/>
<line x1="453.71" y1="47.00" x2="453.71" y2="47.50" stroke="#6e6e6e" stroke-width="0.9"/>
<line x1="452.10" y1="47.00" x2="455.33" y2="47.00" stroke="#6e6e6e" stroke-width="0.9"/>
<line x1="453.71" y1="50.00" x2="453.71" y2="50.80" stroke="#6e6e6e" stroke-width="0.9"/>
<line x1="452.10" y1="50.80" x2="455.33" y2="50.80" stroke="#6e6e6e" stroke-width="0.9"/>
<rect x="450.48" y="47.50" width="6.46" height="2.50" fill="#2e80d6" stroke="#5a5a5a" stroke-width="0.65"/>
<line x1="450.48" y1="48.70" x2="456.94" y2="48.70" stroke="#5a5a5a" stroke-width="0.7"/>
<line x1="460.17" y1="47.00" x2="460.17" y2="47.50" stroke="#6e6e6e" stroke-width="0.9"/>
<line x1="458.56" y1="47.00" x2="461.79" y2="47.00" stroke="#6e6e6e" stroke-width="0.9"/>
<line x1="460.17" y1="50.00" x2="460.17" y2="50.80" stroke="#6e6e6e" stroke-width="0.9"/>
<line x1="458.56" y1="50.80" x2="461.79" y2="50.80" stroke="#6e6e6e" stroke-width="0.9"/>
<rect x="456.94" y="47.50" width="6.46" height="2.50" fill="#8f60f5" stroke="#5a5a5a" stroke-width="0.65"/>
<line x1="456.94" y1="48.70" x2="463.40" y2="48.70" stroke="#5a5a5a" stroke-width="0.7"/>
<line x1="466.63" y1="47.00" x2="466.63" y2="47.50" stroke="#6e6e6e" stroke-width="0.9"/>
<line x1="465.02" y1="47.00" x2="468.25" y2="47.00" stroke="#6e6e6e" stroke-width="0.9"/>
<line x1="466.63" y1="49.50" x2="466.63" y2="50.00" stroke="#6e6e6e" stroke-width="0.9"/>
<line x1="465.02" y1="50.00" x2="468.25" y2="50.00" stroke="#6e6e6e" stroke-width="0.9"/>
<rect x="463.40" y="47.50" width="6.46" height="2.00" fill="#7a4848" stroke="#5a5a5a" stroke-width="0.45"/>
<line x1="463.40" y1="48.50" x2="469.86" y2="48.50" stroke="#5a5a5a" stroke-width="0.35"/>
<line x1="473.09" y1="46.50" x2="473.09" y2="46.80" stroke="#6e6e6e" stroke-width="0.9"/>
<line x1="471.48" y1="46.50" x2="474.71" y2="46.50" stroke="#6e6e6e" stroke-width="0.9"/>
<line x1="473.09" y1="49.20" x2="473.09" y2="49.50" stroke="#6e6e6e" stroke-width="0.9"/>
<line x1="471.48" y1="49.50" x2="474.71" y2="49.50" stroke="#6e6e6e" stroke-width="0.9"/>
<rect x="469.86" y="46.80" width="6.46" height="2.40" fill="#e070f0" stroke="#5a5a5a" stroke-width="0.65"/>
<line x1="469.86" y1="48.00" x2="476.32" y2="48.00" stroke="#5a5a5a" stroke-width="0.7"/>
<line x1="490.86" y1="77.30" x2="490.86" y2="91.50" stroke="#6e6e6e" stroke-width="0.9"/>
<line x1="489.24" y1="77.30" x2="492.47" y2="77.30" stroke="#6e6e6e" stroke-width="0.9"/>
<rect x="487.63" y="91.50" width="6.46" height="13.20" fill="#d0153a" stroke="#5a5a5a" stroke-width="0.65"/>
<line x1="487.63" y1="93.50" x2="494.09" y2="93.50" stroke="#5a5a5a" stroke-width="0.7"/>
<line x1="497.32" y1="64.00" x2="497.32" y2="88.10" stroke="#6e6e6e" stroke-width="0.9"/>
<line x1="495.70" y1="64.00" x2="498.93" y2="64.00" stroke="#6e6e6e" stroke-width="0.9"/>
<rect x="494.09" y="88.10" width="6.46" height="16.60" fill="#3cc21a" stroke="#5a5a5a" stroke-width="0.65"/>
<line x1="494.09" y1="94.20" x2="500.55" y2="94.20" stroke="#5a5a5a" stroke-width="0.7"/>
<line x1="503.78" y1="76.80" x2="503.78" y2="88.10" stroke="#6e6e6e" stroke-width="0.9"/>
<line x1="502.16" y1="76.80" x2="505.39" y2="76.80" stroke="#6e6e6e" stroke-width="0.9"/>
<line x1="503.78" y1="95.70" x2="503.78" y2="105.00" stroke="#6e6e6e" stroke-width="0.9"/>
<line x1="502.16" y1="105.00" x2="505.39" y2="105.00" stroke="#6e6e6e" stroke-width="0.9"/>
<rect x="500.55" y="88.10" width="6.46" height="7.60" fill="#ee6c0f" stroke="#5a5a5a" stroke-width="0.65"/>
<line x1="500.55" y1="92.10" x2="507.01" y2="92.10" stroke="#5a5a5a" stroke-width="0.7"/>
<line x1="510.24" y1="73.30" x2="510.24" y2="86.30" stroke="#6e6e6e" stroke-width="0.9"/>
<line x1="508.62" y1="73.30" x2="511.85" y2="73.30" stroke="#6e6e6e" stroke-width="0.9"/>
<line x1="510.24" y1="95.70" x2="510.24" y2="105.00" stroke="#6e6e6e" stroke-width="0.9"/>
<line x1="508.62" y1="105.00" x2="511.85" y2="105.00" stroke="#6e6e6e" stroke-width="0.9"/>
<rect x="507.01" y="86.30" width="6.46" height="9.40" fill="#2e80d6" stroke="#5a5a5a" stroke-width="0.65"/>
<line x1="507.01" y1="92.10" x2="513.47" y2="92.10" stroke="#5a5a5a" stroke-width="0.7"/>
<line x1="516.70" y1="59.10" x2="516.70" y2="84.30" stroke="#6e6e6e" stroke-width="0.9"/>
<line x1="515.08" y1="59.10" x2="518.31" y2="59.10" stroke="#6e6e6e" stroke-width="0.9"/>
<rect x="513.47" y="84.30" width="6.46" height="20.40" fill="#8f60f5" stroke="#5a5a5a" stroke-width="0.65"/>
<line x1="513.47" y1="95.30" x2="519.93" y2="95.30" stroke="#5a5a5a" stroke-width="0.7"/>
<line x1="523.16" y1="87.60" x2="523.16" y2="105.00" stroke="#6e6e6e" stroke-width="0.9"/>
<line x1="521.54" y1="105.00" x2="524.77" y2="105.00" stroke="#6e6e6e" stroke-width="0.9"/>
<rect x="519.93" y="36.60" width="6.46" height="51.00" fill="#7a4848" stroke="#5a5a5a" stroke-width="0.65"/>
<line x1="519.93" y1="70.80" x2="526.39" y2="70.80" stroke="#5a5a5a" stroke-width="0.7"/>
<line x1="529.62" y1="83.40" x2="529.62" y2="87.90" stroke="#6e6e6e" stroke-width="0.9"/>
<line x1="528.00" y1="87.90" x2="531.23" y2="87.90" stroke="#6e6e6e" stroke-width="0.9"/>
<rect x="526.39" y="77.70" width="6.46" height="5.70" fill="#e070f0" stroke="#5a5a5a" stroke-width="0.65"/>
<line x1="526.39" y1="80.40" x2="532.85" y2="80.40" stroke="#5a5a5a" stroke-width="0.7"/>
<rect x="312.40" y="29.90" width="226.10" height="82.00" fill="none" stroke="#262626" stroke-width="0.9"/>
<line x1="309.40" y1="36.30" x2="312.40" y2="36.30" stroke="#262626" stroke-width="0.9"/>
<text x="306.80" y="39.25" font-size="8.3" text-anchor="end" fill="#000" textLength="16.10" lengthAdjust="spacingAndGlyphs">1.00</text>
<line x1="309.40" y1="53.52" x2="312.40" y2="53.52" stroke="#262626" stroke-width="0.9"/>
<text x="306.80" y="56.48" font-size="8.3" text-anchor="end" fill="#000" textLength="16.10" lengthAdjust="spacingAndGlyphs">0.75</text>
<line x1="309.40" y1="70.75" x2="312.40" y2="70.75" stroke="#262626" stroke-width="0.9"/>
<text x="306.80" y="73.70" font-size="8.3" text-anchor="end" fill="#000" textLength="16.10" lengthAdjust="spacingAndGlyphs">0.50</text>
<line x1="309.40" y1="87.97" x2="312.40" y2="87.97" stroke="#262626" stroke-width="0.9"/>
<text x="306.80" y="90.92" font-size="8.3" text-anchor="end" fill="#000" textLength="16.10" lengthAdjust="spacingAndGlyphs">0.25</text>
<line x1="309.40" y1="105.20" x2="312.40" y2="105.20" stroke="#262626" stroke-width="0.9"/>
<text x="306.80" y="108.15" font-size="8.3" text-anchor="end" fill="#000" textLength="16.10" lengthAdjust="spacingAndGlyphs">0.00</text>
<line x1="340.66" y1="111.90" x2="340.66" y2="114.40" stroke="#262626" stroke-width="0.9"/>
<line x1="397.19" y1="111.90" x2="397.19" y2="114.40" stroke="#262626" stroke-width="0.9"/>
<line x1="453.71" y1="111.90" x2="453.71" y2="114.40" stroke="#262626" stroke-width="0.9"/>
<line x1="510.24" y1="111.90" x2="510.24" y2="114.40" stroke="#262626" stroke-width="0.9"/>
<text x="425.45" y="25.60" font-size="10" text-anchor="middle" fill="#000" textLength="41.40" lengthAdjust="spacingAndGlyphs">Cefazolin</text>
<line x1="53.57" y1="158.50" x2="53.57" y2="162.80" stroke="#6e6e6e" stroke-width="0.9"/>
<line x1="51.96" y1="158.50" x2="55.18" y2="158.50" stroke="#6e6e6e" stroke-width="0.9"/>
<line x1="53.57" y1="166.10" x2="53.57" y2="171.00" stroke="#6e6e6e" stroke-width="0.9"/>
<line x1="51.96" y1="171.00" x2="55.18" y2="171.00" stroke="#6e6e6e" stroke-width="0.9"/>
<rect x="50.35" y="162.80" width="6.45" height="3.30" fill="#d0153a" stroke="#5a5a5a" stroke-width="0.65"/>
<line x1="50.35" y1="164.50" x2="56.80" y2="164.50" stroke="#5a5a5a" stroke-width="0.7"/>
<line x1="60.02" y1="158.50" x2="60.02" y2="162.80" stroke="#6e6e6e" stroke-width="0.9"/>
<line x1="58.41" y1="158.50" x2="61.64" y2="158.50" stroke="#6e6e6e" stroke-width="0.9"/>
<line x1="60.02" y1="166.10" x2="60.02" y2="171.20" stroke="#6e6e6e" stroke-width="0.9"/>
<line x1="58.41" y1="171.20" x2="61.64" y2="171.20" stroke="#6e6e6e" stroke-width="0.9"/>
<rect x="56.80" y="162.80" width="6.45" height="3.30" fill="#3cc21a" stroke="#5a5a5a" stroke-width="0.65"/>
<line x1="56.80" y1="164.50" x2="63.25" y2="164.50" stroke="#5a5a5a" stroke-width="0.7"/>
<line x1="66.47" y1="157.20" x2="66.47" y2="162.80" stroke="#6e6e6e" stroke-width="0.9"/>
<line x1="64.86" y1="157.20" x2="68.09" y2="157.20" stroke="#6e6e6e" stroke-width="0.9"/>
<line x1="66.47" y1="166.10" x2="66.47" y2="171.30" stroke="#6e6e6e" stroke-width="0.9"/>
<line x1="64.86" y1="171.30" x2="68.09" y2="171.30" stroke="#6e6e6e" stroke-width="0.9"/>
<rect x="63.25" y="162.80" width="6.45" height="3.30" fill="#ee6c0f" stroke="#5a5a5a" stroke-width="0.65"/>
<line x1="63.25" y1="164.50" x2="69.70" y2="164.50" stroke="#5a5a5a" stroke-width="0.7"/>
<line x1="72.93" y1="157.60" x2="72.93" y2="162.80" stroke="#6e6e6e" stroke-width="0.9"/>
<line x1="71.31" y1="157.60" x2="74.54" y2="157.60" stroke="#6e6e6e" stroke-width="0.9"/>
<line x1="72.93" y1="166.10" x2="72.93" y2="171.00" stroke="#6e6e6e" stroke-width="0.9"/>
<line x1="71.31" y1="171.00" x2="74.54" y2="171.00" stroke="#6e6e6e" stroke-width="0.9"/>
<rect x="69.70" y="162.80" width="6.45" height="3.30" fill="#2e80d6" stroke="#5a5a5a" stroke-width="0.65"/>
<line x1="69.70" y1="164.50" x2="76.15" y2="164.50" stroke="#5a5a5a" stroke-width="0.7"/>
<line x1="79.38" y1="156.60" x2="79.38" y2="162.60" stroke="#6e6e6e" stroke-width="0.9"/>
<line x1="77.76" y1="156.60" x2="80.99" y2="156.60" stroke="#6e6e6e" stroke-width="0.9"/>
<line x1="79.38" y1="166.30" x2="79.38" y2="171.50" stroke="#6e6e6e" stroke-width="0.9"/>
<line x1="77.76" y1="171.50" x2="80.99" y2="171.50" stroke="#6e6e6e" stroke-width="0.9"/>
<rect x="76.15" y="162.60" width="6.45" height="3.70" fill="#8f60f5" stroke="#5a5a5a" stroke-width="0.65"/>
<line x1="76.15" y1="164.50" x2="82.60" y2="164.50" stroke="#5a5a5a" stroke-width="0.7"/>
<line x1="85.83" y1="156.10" x2="85.83" y2="157.40" stroke="#6e6e6e" stroke-width="0.9"/>
<line x1="84.22" y1="156.10" x2="87.44" y2="156.10" stroke="#6e6e6e" stroke-width="0.9"/>
<line x1="85.83" y1="162.30" x2="85.83" y2="164.50" stroke="#6e6e6e" stroke-width="0.9"/>
<line x1="84.22" y1="164.50" x2="87.44" y2="164.50" stroke="#6e6e6e" stroke-width="0.9"/>
<rect x="82.60" y="157.40" width="6.45" height="4.90" fill="#7a4848" stroke="#5a5a5a" stroke-width="0.65"/>
<line x1="82.60" y1="159.60" x2="89.05" y2="159.60" stroke="#5a5a5a" stroke-width="0.7"/>
<line x1="92.28" y1="155.50" x2="92.28" y2="156.10" stroke="#6e6e6e" stroke-width="0.9"/>
<line x1="90.67" y1="155.50" x2="93.89" y2="155.50" stroke="#6e6e6e" stroke-width="0.9"/>
<line x1="92.28" y1="160.70" x2="92.28" y2="165.50" stroke="#6e6e6e" stroke-width="0.9"/>
<line x1="90.67" y1="165.50" x2="93.89" y2="165.50" stroke="#6e6e6e" stroke-width="0.9"/>
<rect x="89.05" y="156.10" width="6.45" height="4.60" fill="#e070f0" stroke="#5a5a5a" stroke-width="0.65"/>
<line x1="89.05" y1="158.50" x2="95.51" y2="158.50" stroke="#5a5a5a" stroke-width="0.7"/>
<line x1="110.02" y1="154.60" x2="110.02" y2="157.60" stroke="#6e6e6e" stroke-width="0.9"/>
<line x1="108.41" y1="154.60" x2="111.63" y2="154.60" stroke="#6e6e6e" stroke-width="0.9"/>
<line x1="110.02" y1="159.70" x2="110.02" y2="162.50" stroke="#6e6e6e" stroke-width="0.9"/>
<line x1="108.41" y1="162.50" x2="111.63" y2="162.50" stroke="#6e6e6e" stroke-width="0.9"/>
<rect x="106.80" y="157.60" width="6.45" height="2.10" fill="#d0153a" stroke="#5a5a5a" stroke-width="0.45"/>
<line x1="106.80" y1="158.60" x2="113.25" y2="158.60" stroke="#5a5a5a" stroke-width="0.35"/>
<line x1="116.47" y1="154.80" x2="116.47" y2="158.40" stroke="#6e6e6e" stroke-width="0.9"/>
<line x1="114.86" y1="154.80" x2="118.08" y2="154.80" stroke="#6e6e6e" stroke-width="0.9"/>
<line x1="116.47" y1="160.30" x2="116.47" y2="164.30" stroke="#6e6e6e" stroke-width="0.9"/>
<line x1="114.86" y1="164.30" x2="118.08" y2="164.30" stroke="#6e6e6e" stroke-width="0.9"/>
<rect x="113.25" y="158.40" width="6.45" height="1.90" fill="#3cc21a" stroke="#5a5a5a" stroke-width="0.45"/>
<line x1="113.25" y1="159.30" x2="119.70" y2="159.30" stroke="#5a5a5a" stroke-width="0.35"/>
<line x1="122.92" y1="154.60" x2="122.92" y2="157.60" stroke="#6e6e6e" stroke-width="0.9"/>
<line x1="121.31" y1="154.60" x2="124.54" y2="154.60" stroke="#6e6e6e" stroke-width="0.9"/>
<line x1="122.92" y1="159.70" x2="122.92" y2="162.50" stroke="#6e6e6e" stroke-width="0.9"/>
<line x1="121.31" y1="162.50" x2="124.54" y2="162.50" stroke="#6e6e6e" stroke-width="0.9"/>
<rect x="119.70" y="157.60" width="6.45" height="2.10" fill="#ee6c0f" stroke="#5a5a5a" stroke-width="0.45"/>
<line x1="119.70" y1="158.60" x2="126.15" y2="158.60" stroke="#5a5a5a" stroke-width="0.35"/>
<line x1="129.38" y1="155.50" x2="129.38" y2="157.60" stroke="#6e6e6e" stroke-width="0.9"/>
<line x1="127.76" y1="155.50" x2="130.99" y2="155.50" stroke="#6e6e6e" stroke-width="0.9"/>
<line x1="129.38" y1="159.70" x2="129.38" y2="162.50" stroke="#6e6e6e" stroke-width="0.9"/>
<line x1="127.76" y1="162.50" x2="130.99" y2="162.50" stroke="#6e6e6e" stroke-width="0.9"/>
<rect x="126.15" y="157.60" width="6.45" height="2.10" fill="#2e80d6" stroke="#5a5a5a" stroke-width="0.45"/>
<line x1="126.15" y1="158.60" x2="132.60" y2="158.60" stroke="#5a5a5a" stroke-width="0.35"/>
<line x1="135.83" y1="154.60" x2="135.83" y2="157.60" stroke="#6e6e6e" stroke-width="0.9"/>
<line x1="134.21" y1="154.60" x2="137.44" y2="154.60" stroke="#6e6e6e" stroke-width="0.9"/>
<line x1="135.83" y1="159.70" x2="135.83" y2="162.50" stroke="#6e6e6e" stroke-width="0.9"/>
<line x1="134.21" y1="162.50" x2="137.44" y2="162.50" stroke="#6e6e6e" stroke-width="0.9"/>
<rect x="132.60" y="157.60" width="6.45" height="2.10" fill="#8f60f5" stroke="#5a5a5a" stroke-width="0.45"/>
<line x1="132.60" y1="158.60" x2="139.05" y2="158.60" stroke="#5a5a5a" stroke-width="0.35"/>
<line x1="142.28" y1="153.70" x2="142.28" y2="155.40" stroke="#6e6e6e" stroke-width="0.9"/>
<line x1="140.66" y1="153.70" x2="143.89" y2="153.70" stroke="#6e6e6e" stroke-width="0.9"/>
<line x1="142.28" y1="157.80" x2="142.28" y2="161.40" stroke="#6e6e6e" stroke-width="0.9"/>
<line x1="140.66" y1="161.40" x2="143.89" y2="161.40" stroke="#6e6e6e" stroke-width="0.9"/>
<rect x="139.05" y="155.40" width="6.45" height="2.40" fill="#7a4848" stroke="#5a5a5a" stroke-width="0.65"/>
<line x1="139.05" y1="156.20" x2="145.50" y2="156.20" stroke="#5a5a5a" stroke-width="0.7"/>
<line x1="148.73" y1="153.70" x2="148.73" y2="155.10" stroke="#6e6e6e" stroke-width="0.9"/>
<line x1="147.12" y1="153.70" x2="150.34" y2="153.70" stroke="#6e6e6e" stroke-width="0.9"/>
<line x1="148.73" y1="159.70" x2="148.73" y2="165.10" stroke="#6e6e6e" stroke-width="0.9"/>
<line x1="147.12" y1="165.10" x2="150.34" y2="165.10" stroke="#6e6e6e" stroke-width="0.9"/>
<rect x="145.50" y="155.10" width="6.45" height="4.60" fill="#e070f0" stroke="#5a5a5a" stroke-width="0.65"/>
<line x1="145.50" y1="156.40" x2="151.96" y2="156.40" stroke="#5a5a5a" stroke-width="0.7"/>
<line x1="166.47" y1="154.10" x2="166.47" y2="156.40" stroke="#6e6e6e" stroke-width="0.9"/>
<line x1="164.86" y1="154.10" x2="168.08" y2="154.10" stroke="#6e6e6e" stroke-width="0.9"/>
<line x1="166.47" y1="158.40" x2="166.47" y2="161.10" stroke="#6e6e6e" stroke-width="0.9"/>
<line x1="164.86" y1="161.10" x2="168.08" y2="161.10" stroke="#6e6e6e" stroke-width="0.9"/>
<rect x="163.24" y="156.40" width="6.45" height="2.00" fill="#d0153a" stroke="#5a5a5a" stroke-width="0.45"/>
<line x1="163.24" y1="157.40" x2="169.70" y2="157.40" stroke="#5a5a5a" stroke-width="0.35"/>
<line x1="172.92" y1="154.10" x2="172.92" y2="156.40" stroke="#6e6e6e" stroke-width="0.9"/>
<line x1="171.31" y1="154.10" x2="174.53" y2="154.10" stroke="#6e6e6e" stroke-width="0.9"/>
<line x1="172.92" y1="158.40" x2="172.92" y2="161.10" stroke="#6e6e6e" stroke-width="0.9"/>
<line x1="171.31" y1="161.10" x2="174.53" y2="161.10" stroke="#6e6e6e" stroke-width="0.9"/>
<rect x="169.70" y="156.40" width="6.45" height="2.00" fill="#3cc21a" stroke="#5a5a5a" stroke-width="0.45"/>
<line x1="169.70" y1="157.40" x2="176.15" y2="157.40" stroke="#5a5a5a" stroke-width="0.35"/>
<line x1="179.37" y1="154.10" x2="179.37" y2="156.40" stroke="#6e6e6e" stroke-width="0.9"/>
<line x1="177.76" y1="154.10" x2="180.99" y2="154.10" stroke="#6e6e6e" stroke-width="0.9"/>
<line x1="179.37" y1="158.40" x2="179.37" y2="161.10" stroke="#6e6e6e" stroke-width="0.9"/>
<line x1="177.76" y1="161.10" x2="180.99" y2="161.10" stroke="#6e6e6e" stroke-width="0.9"/>
<rect x="176.15" y="156.40" width="6.45" height="2.00" fill="#ee6c0f" stroke="#5a5a5a" stroke-width="0.45"/>
<line x1="176.15" y1="157.40" x2="182.60" y2="157.40" stroke="#5a5a5a" stroke-width="0.35"/>
<line x1="185.82" y1="154.10" x2="185.82" y2="156.40" stroke="#6e6e6e" stroke-width="0.9"/>
<line x1="184.21" y1="154.10" x2="187.44" y2="154.10" stroke="#6e6e6e" stroke-width="0.9"/>
<line x1="185.82" y1="158.40" x2="185.82" y2="161.10" stroke="#6e6e6e" stroke-width="0.9"/>
<line x1="184.21" y1="161.10" x2="187.44" y2="161.10" stroke="#6e6e6e" stroke-width="0.9"/>
<rect x="182.60" y="156.40" width="6.45" height="2.00" fill="#2e80d6" stroke="#5a5a5a" stroke-width="0.45"/>
<line x1="182.60" y1="157.40" x2="189.05" y2="157.40" stroke="#5a5a5a" stroke-width="0.35"/>
<line x1="192.28" y1="154.10" x2="192.28" y2="156.40" stroke="#6e6e6e" stroke-width="0.9"/>
<line x1="190.66" y1="154.10" x2="193.89" y2="154.10" stroke="#6e6e6e" stroke-width="0.9"/>
<line x1="192.28" y1="158.40" x2="192.28" y2="161.10" stroke="#6e6e6e" stroke-width="0.9"/>
<line x1="190.66" y1="161.10" x2="193.89" y2="161.10" stroke="#6e6e6e" stroke-width="0.9"/>
<rect x="189.05" y="156.40" width="6.45" height="2.00" fill="#8f60f5" stroke="#5a5a5a" stroke-width="0.45"/>
<line x1="189.05" y1="157.40" x2="195.50" y2="157.40" stroke="#5a5a5a" stroke-width="0.35"/>
<line x1="198.73" y1="153.50" x2="198.73" y2="153.80" stroke="#6e6e6e" stroke-width="0.9"/>
<line x1="197.11" y1="153.50" x2="200.34" y2="153.50" stroke="#6e6e6e" stroke-width="0.9"/>
<line x1="198.73" y1="157.80" x2="198.73" y2="158.50" stroke="#6e6e6e" stroke-width="0.9"/>
<line x1="197.11" y1="158.50" x2="200.34" y2="158.50" stroke="#6e6e6e" stroke-width="0.9"/>
<rect x="195.50" y="153.80" width="6.45" height="4.00" fill="#7a4848" stroke="#5a5a5a" stroke-width="0.65"/>
<line x1="195.50" y1="155.50" x2="201.95" y2="155.50" stroke="#5a5a5a" stroke-width="0.7"/>
<line x1="205.18" y1="150.50" x2="205.18" y2="153.50" stroke="#6e6e6e" stroke-width="0.9"/>
<line x1="203.57" y1="150.50" x2="206.79" y2="150.50" stroke="#6e6e6e" stroke-width="0.9"/>
<line x1="205.18" y1="156.20" x2="205.18" y2="158.20" stroke="#6e6e6e" stroke-width="0.9"/>
<line x1="203.57" y1="158.20" x2="206.79" y2="158.20" stroke="#6e6e6e" stroke-width="0.9"/>
<rect x="201.95" y="153.50" width="6.45" height="2.70" fill="#e070f0" stroke="#5a5a5a" stroke-width="0.65"/>
<line x1="201.95" y1="154.80" x2="208.41" y2="154.80" stroke="#5a5a5a" stroke-width="0.7"/>
<line x1="222.92" y1="182.50" x2="222.92" y2="194.20" stroke="#6e6e6e" stroke-width="0.9"/>
<line x1="221.31" y1="182.50" x2="224.53" y2="182.50" stroke="#6e6e6e" stroke-width="0.9"/>
<line x1="222.92" y1="204.10" x2="222.92" y2="212.50" stroke="#6e6e6e" stroke-width="0.9"/>
<line x1="221.31" y1="212.50" x2="224.53" y2="212.50" stroke="#6e6e6e" stroke-width="0.9"/>
<rect x="219.70" y="194.20" width="6.45" height="9.90" fill="#d0153a" stroke="#5a5a5a" stroke-width="0.65"/>
<line x1="219.70" y1="198.50" x2="226.15" y2="198.50" stroke="#5a5a5a" stroke-width="0.7"/>
<line x1="229.37" y1="161.20" x2="229.37" y2="191.40" stroke="#6e6e6e" stroke-width="0.9"/>
<line x1="227.76" y1="161.20" x2="230.99" y2="161.20" stroke="#6e6e6e" stroke-width="0.9"/>
<rect x="226.15" y="191.40" width="6.45" height="21.10" fill="#3cc21a" stroke="#5a5a5a" stroke-width="0.65"/>
<line x1="226.15" y1="198.50" x2="232.60" y2="198.50" stroke="#5a5a5a" stroke-width="0.7"/>
<line x1="235.82" y1="178.50" x2="235.82" y2="191.40" stroke="#6e6e6e" stroke-width="0.9"/>
<line x1="234.21" y1="178.50" x2="237.44" y2="178.50" stroke="#6e6e6e" stroke-width="0.9"/>
<line x1="235.82" y1="200.40" x2="235.82" y2="212.50" stroke="#6e6e6e" stroke-width="0.9"/>
<line x1="234.21" y1="212.50" x2="237.44" y2="212.50" stroke="#6e6e6e" stroke-width="0.9"/>
<rect x="232.60" y="191.40" width="6.45" height="9.00" fill="#ee6c0f" stroke="#5a5a5a" stroke-width="0.65"/>
<line x1="232.60" y1="195.90" x2="239.05" y2="195.90" stroke="#5a5a5a" stroke-width="0.7"/>
<line x1="242.28" y1="183.40" x2="242.28" y2="194.50" stroke="#6e6e6e" stroke-width="0.9"/>
<line x1="240.66" y1="183.40" x2="243.89" y2="183.40" stroke="#6e6e6e" stroke-width="0.9"/>
<line x1="242.28" y1="201.30" x2="242.28" y2="208.40" stroke="#6e6e6e" stroke-width="0.9"/>
<line x1="240.66" y1="208.40" x2="243.89" y2="208.40" stroke="#6e6e6e" stroke-width="0.9"/>
<rect x="239.05" y="194.50" width="6.45" height="6.80" fill="#2e80d6" stroke="#5a5a5a" stroke-width="0.65"/>
<line x1="239.05" y1="198.50" x2="245.50" y2="198.50" stroke="#5a5a5a" stroke-width="0.7"/>
<line x1="248.73" y1="166.40" x2="248.73" y2="191.70" stroke="#6e6e6e" stroke-width="0.9"/>
<line x1="247.11" y1="166.40" x2="250.34" y2="166.40" stroke="#6e6e6e" stroke-width="0.9"/>
<rect x="245.50" y="191.70" width="6.45" height="20.80" fill="#8f60f5" stroke="#5a5a5a" stroke-width="0.65"/>
<line x1="245.50" y1="198.70" x2="251.95" y2="198.70" stroke="#5a5a5a" stroke-width="0.7"/>
<line x1="255.18" y1="143.80" x2="255.18" y2="157.70" stroke="#6e6e6e" stroke-width="0.9"/>
<line x1="253.57" y1="143.80" x2="256.79" y2="143.80" stroke="#6e6e6e" stroke-width="0.9"/>
<line x1="255.18" y1="175.40" x2="255.18" y2="200.90" stroke="#6e6e6e" stroke-width="0.9"/>
<line x1="253.57" y1="200.90" x2="256.79" y2="200.90" stroke="#6e6e6e" stroke-width="0.9"/>
<rect x="251.95" y="157.70" width="6.45" height="17.70" fill="#7a4848" stroke="#5a5a5a" stroke-width="0.65"/>
<line x1="251.95" y1="162.30" x2="258.40" y2="162.30" stroke="#5a5a5a" stroke-width="0.7"/>
<line x1="261.63" y1="155.50" x2="261.63" y2="162.30" stroke="#6e6e6e" stroke-width="0.9"/>
<line x1="260.02" y1="155.50" x2="263.24" y2="155.50" stroke="#6e6e6e" stroke-width="0.9"/>
<line x1="261.63" y1="179.90" x2="261.63" y2="200.90" stroke="#6e6e6e" stroke-width="0.9"/>
<line x1="260.02" y1="200.90" x2="263.24" y2="200.90" stroke="#6e6e6e" stroke-width="0.9"/>
<rect x="258.40" y="162.30" width="6.45" height="17.60" fill="#e070f0" stroke="#5a5a5a" stroke-width="0.65"/>
<line x1="258.40" y1="171.50" x2="264.86" y2="171.50" stroke="#5a5a5a" stroke-width="0.7"/>
<rect x="44.70" y="137.10" width="225.80" height="82.30" fill="none" stroke="#262626" stroke-width="0.9"/>
<line x1="41.70" y1="144.00" x2="44.70" y2="144.00" stroke="#262626" stroke-width="0.9"/>
<text x="39.10" y="146.95" font-size="8.3" text-anchor="end" fill="#000" textLength="16.10" lengthAdjust="spacingAndGlyphs">1.00</text>
<line x1="41.70" y1="161.00" x2="44.70" y2="161.00" stroke="#262626" stroke-width="0.9"/>
<text x="39.10" y="163.95" font-size="8.3" text-anchor="end" fill="#000" textLength="16.10" lengthAdjust="spacingAndGlyphs">0.75</text>
<line x1="41.70" y1="178.00" x2="44.70" y2="178.00" stroke="#262626" stroke-width="0.9"/>
<text x="39.10" y="180.95" font-size="8.3" text-anchor="end" fill="#000" textLength="16.10" lengthAdjust="spacingAndGlyphs">0.50</text>
<line x1="41.70" y1="195.00" x2="44.70" y2="195.00" stroke="#262626" stroke-width="0.9"/>
<text x="39.10" y="197.95" font-size="8.3" text-anchor="end" fill="#000" textLength="16.10" lengthAdjust="spacingAndGlyphs">0.25</text>
<line x1="41.70" y1="212.00" x2="44.70" y2="212.00" stroke="#262626" stroke-width="0.9"/>
<text x="39.10" y="214.95" font-size="8.3" text-anchor="end" fill="#000" textLength="16.10" lengthAdjust="spacingAndGlyphs">0.00</text>
<line x1="72.93" y1="219.40" x2="72.93" y2="221.90" stroke="#262626" stroke-width="0.9"/>
<line x1="129.38" y1="219.40" x2="129.38" y2="221.90" stroke="#262626" stroke-width="0.9"/>
<line x1="185.82" y1="219.40" x2="185.82" y2="221.90" stroke="#262626" stroke-width="0.9"/>
<line x1="242.28" y1="219.40" x2="242.28" y2="221.90" stroke="#262626" stroke-width="0.9"/>
<text x="157.60" y="133.20" font-size="10" text-anchor="middle" fill="#000" textLength="58.60" lengthAdjust="spacingAndGlyphs">Ciprofloxacin</text>
<line x1="321.28" y1="155.50" x2="321.28" y2="157.10" stroke="#6e6e6e" stroke-width="0.9"/>
<line x1="319.67" y1="155.50" x2="322.90" y2="155.50" stroke="#6e6e6e" stroke-width="0.9"/>
<line x1="321.28" y1="159.80" x2="321.28" y2="163.50" stroke="#6e6e6e" stroke-width="0.9"/>
<line x1="319.67" y1="163.50" x2="322.90" y2="163.50" stroke="#6e6e6e" stroke-width="0.9"/>
<rect x="318.05" y="157.10" width="6.46" height="2.70" fill="#d0153a" stroke="#5a5a5a" stroke-width="0.65"/>
<line x1="318.05" y1="158.50" x2="324.51" y2="158.50" stroke="#5a5a5a" stroke-width="0.7"/>
<line x1="327.74" y1="153.50" x2="327.74" y2="157.10" stroke="#6e6e6e" stroke-width="0.9"/>
<line x1="326.13" y1="153.50" x2="329.36" y2="153.50" stroke="#6e6e6e" stroke-width="0.9"/>
<line x1="327.74" y1="159.80" x2="327.74" y2="163.50" stroke="#6e6e6e" stroke-width="0.9"/>
<line x1="326.13" y1="163.50" x2="329.36" y2="163.50" stroke="#6e6e6e" stroke-width="0.9"/>
<rect x="324.51" y="157.10" width="6.46" height="2.70" fill="#3cc21a" stroke="#5a5a5a" stroke-width="0.65"/>
<line x1="324.51" y1="158.50" x2="330.97" y2="158.50" stroke="#5a5a5a" stroke-width="0.7"/>
<line x1="334.20" y1="155.50" x2="334.20" y2="157.10" stroke="#6e6e6e" stroke-width="0.9"/>
<line x1="332.59" y1="155.50" x2="335.82" y2="155.50" stroke="#6e6e6e" stroke-width="0.9"/>
<line x1="334.20" y1="159.80" x2="334.20" y2="163.50" stroke="#6e6e6e" stroke-width="0.9"/>
<line x1="332.59" y1="163.50" x2="335.82" y2="163.50" stroke="#6e6e6e" stroke-width="0.9"/>
<rect x="330.97" y="157.10" width="6.46" height="2.70" fill="#ee6c0f" stroke="#5a5a5a" stroke-width="0.65"/>
<line x1="330.97" y1="158.50" x2="337.43" y2="158.50" stroke="#5a5a5a" stroke-width="0.7"/>
<line x1="340.66" y1="155.50" x2="340.66" y2="157.10" stroke="#6e6e6e" stroke-width="0.9"/>
<line x1="339.05" y1="155.50" x2="342.28" y2="155.50" stroke="#6e6e6e" stroke-width="0.9"/>
<line x1="340.66" y1="159.80" x2="340.66" y2="163.00" stroke="#6e6e6e" stroke-width="0.9"/>
<line x1="339.05" y1="163.00" x2="342.28" y2="163.00" stroke="#6e6e6e" stroke-width="0.9"/>
<rect x="337.43" y="157.10" width="6.46" height="2.70" fill="#2e80d6" stroke="#5a5a5a" stroke-width="0.65"/>
<line x1="337.43" y1="158.50" x2="343.89" y2="158.50" stroke="#5a5a5a" stroke-width="0.7"/>
<line x1="347.12" y1="153.50" x2="347.12" y2="157.30" stroke="#6e6e6e" stroke-width="0.9"/>
<line x1="345.51" y1="153.50" x2="348.74" y2="153.50" stroke="#6e6e6e" stroke-width="0.9"/>
<line x1="347.12" y1="159.80" x2="347.12" y2="163.50" stroke="#6e6e6e" stroke-width="0.9"/>
<line x1="345.51" y1="163.50" x2="348.74" y2="163.50" stroke="#6e6e6e" stroke-width="0.9"/>
<rect x="343.89" y="157.30" width="6.46" height="2.50" fill="#8f60f5" stroke="#5a5a5a" stroke-width="0.65"/>
<line x1="343.89" y1="158.50" x2="350.35" y2="158.50" stroke="#5a5a5a" stroke-width="0.7"/>
<line x1="353.58" y1="155.70" x2="353.58" y2="157.30" stroke="#6e6e6e" stroke-width="0.9"/>
<line x1="351.97" y1="155.70" x2="355.20" y2="155.70" stroke="#6e6e6e" stroke-width="0.9"/>
<line x1="353.58" y1="158.90" x2="353.58" y2="161.60" stroke="#6e6e6e" stroke-width="0.9"/>
<line x1="351.97" y1="161.60" x2="355.20" y2="161.60" stroke="#6e6e6e" stroke-width="0.9"/>
<rect x="350.35" y="157.30" width="6.46" height="1.60" fill="#7a4848" stroke="#5a5a5a" stroke-width="0.45"/>
<line x1="350.35" y1="158.10" x2="356.81" y2="158.10" stroke="#5a5a5a" stroke-width="0.35"/>
<line x1="360.04" y1="156.40" x2="360.04" y2="156.80" stroke="#6e6e6e" stroke-width="0.9"/>
<line x1="358.43" y1="156.40" x2="361.66" y2="156.40" stroke="#6e6e6e" stroke-width="0.9"/>
<line x1="360.04" y1="159.70" x2="360.04" y2="160.30" stroke="#6e6e6e" stroke-width="0.9"/>
<line x1="358.43" y1="160.30" x2="361.66" y2="160.30" stroke="#6e6e6e" stroke-width="0.9"/>
<rect x="356.81" y="156.80" width="6.46" height="2.90" fill="#e070f0" stroke="#5a5a5a" stroke-width="0.65"/>
<line x1="356.81" y1="158.00" x2="363.27" y2="158.00" stroke="#5a5a5a" stroke-width="0.7"/>
<line x1="377.81" y1="151.80" x2="377.81" y2="152.80" stroke="#6e6e6e" stroke-width="0.9"/>
<line x1="376.19" y1="151.80" x2="379.42" y2="151.80" stroke="#6e6e6e" stroke-width="0.9"/>
<line x1="377.81" y1="155.00" x2="377.81" y2="157.50" stroke="#6e6e6e" stroke-width="0.9"/>
<line x1="376.19" y1="157.50" x2="379.42" y2="157.50" stroke="#6e6e6e" stroke-width="0.9"/>
<rect x="374.58" y="152.80" width="6.46" height="2.20" fill="#d0153a" stroke="#5a5a5a" stroke-width="0.45"/>
<line x1="374.58" y1="154.00" x2="381.04" y2="154.00" stroke="#5a5a5a" stroke-width="0.35"/>
<line x1="384.27" y1="151.40" x2="384.27" y2="153.40" stroke="#6e6e6e" stroke-width="0.9"/>
<line x1="382.65" y1="151.40" x2="385.88" y2="151.40" stroke="#6e6e6e" stroke-width="0.9"/>
<line x1="384.27" y1="155.50" x2="384.27" y2="159.30" stroke="#6e6e6e" stroke-width="0.9"/>
<line x1="382.65" y1="159.30" x2="385.88" y2="159.30" stroke="#6e6e6e" stroke-width="0.9"/>
<rect x="381.04" y="153.40" width="6.46" height="2.10" fill="#3cc21a" stroke="#5a5a5a" stroke-width="0.45"/>
<line x1="381.04" y1="154.50" x2="387.50" y2="154.50" stroke="#5a5a5a" stroke-width="0.35"/>
<line x1="390.73" y1="151.80" x2="390.73" y2="153.20" stroke="#6e6e6e" stroke-width="0.9"/>
<line x1="389.11" y1="151.80" x2="392.34" y2="151.80" stroke="#6e6e6e" stroke-width="0.9"/>
<line x1="390.73" y1="155.00" x2="390.73" y2="157.50" stroke="#6e6e6e" stroke-width="0.9"/>
<line x1="389.11" y1="157.50" x2="392.34" y2="157.50" stroke="#6e6e6e" stroke-width="0.9"/>
<rect x="387.50" y="153.20" width="6.46" height="1.80" fill="#ee6c0f" stroke="#5a5a5a" stroke-width="0.45"/>
<line x1="387.50" y1="154.00" x2="393.96" y2="154.00" stroke="#5a5a5a" stroke-width="0.35"/>
<line x1="397.19" y1="151.80" x2="397.19" y2="153.20" stroke="#6e6e6e" stroke-width="0.9"/>
<line x1="395.57" y1="151.80" x2="398.80" y2="151.80" stroke="#6e6e6e" stroke-width="0.9"/>
<line x1="397.19" y1="155.00" x2="397.19" y2="157.50" stroke="#6e6e6e" stroke-width="0.9"/>
<line x1="395.57" y1="157.50" x2="398.80" y2="157.50" stroke="#6e6e6e" stroke-width="0.9"/>
<rect x="393.96" y="153.20" width="6.46" height="1.80" fill="#2e80d6" stroke="#5a5a5a" stroke-width="0.45"/>
<line x1="393.96" y1="154.00" x2="400.42" y2="154.00" stroke="#5a5a5a" stroke-width="0.35"/>
<line x1="403.65" y1="151.40" x2="403.65" y2="153.20" stroke="#6e6e6e" stroke-width="0.9"/>
<line x1="402.03" y1="151.40" x2="405.26" y2="151.40" stroke="#6e6e6e" stroke-width="0.9"/>
<line x1="403.65" y1="155.00" x2="403.65" y2="157.50" stroke="#6e6e6e" stroke-width="0.9"/>
<line x1="402.03" y1="157.50" x2="405.26" y2="157.50" stroke="#6e6e6e" stroke-width="0.9"/>
<rect x="400.42" y="153.20" width="6.46" height="1.80" fill="#8f60f5" stroke="#5a5a5a" stroke-width="0.45"/>
<line x1="400.42" y1="154.00" x2="406.88" y2="154.00" stroke="#5a5a5a" stroke-width="0.35"/>
<line x1="410.11" y1="151.80" x2="410.11" y2="152.60" stroke="#6e6e6e" stroke-width="0.9"/>
<line x1="408.49" y1="151.80" x2="411.72" y2="151.80" stroke="#6e6e6e" stroke-width="0.9"/>
<line x1="410.11" y1="154.80" x2="410.11" y2="156.30" stroke="#6e6e6e" stroke-width="0.9"/>
<line x1="408.49" y1="156.30" x2="411.72" y2="156.30" stroke="#6e6e6e" stroke-width="0.9"/>
<rect x="406.88" y="152.60" width="6.46" height="2.20" fill="#7a4848" stroke="#5a5a5a" stroke-width="0.65"/>
<line x1="406.88" y1="153.70" x2="413.34" y2="153.70" stroke="#5a5a5a" stroke-width="0.7"/>
<line x1="416.57" y1="151.40" x2="416.57" y2="153.60" stroke="#6e6e6e" stroke-width="0.9"/>
<line x1="414.95" y1="151.40" x2="418.18" y2="151.40" stroke="#6e6e6e" stroke-width="0.9"/>
<line x1="416.57" y1="155.80" x2="416.57" y2="157.50" stroke="#6e6e6e" stroke-width="0.9"/>
<line x1="414.95" y1="157.50" x2="418.18" y2="157.50" stroke="#6e6e6e" stroke-width="0.9"/>
<rect x="413.34" y="153.60" width="6.46" height="2.20" fill="#e070f0" stroke="#5a5a5a" stroke-width="0.65"/>
<line x1="413.34" y1="154.70" x2="419.80" y2="154.70" stroke="#5a5a5a" stroke-width="0.7"/>
<line x1="434.33" y1="151.80" x2="434.33" y2="152.80" stroke="#6e6e6e" stroke-width="0.9"/>
<line x1="432.72" y1="151.80" x2="435.95" y2="151.80" stroke="#6e6e6e" stroke-width="0.9"/>
<line x1="434.33" y1="155.00" x2="434.33" y2="156.60" stroke="#6e6e6e" stroke-width="0.9"/>
<line x1="432.72" y1="156.60" x2="435.95" y2="156.60" stroke="#6e6e6e" stroke-width="0.9"/>
<rect x="431.10" y="152.80" width="6.46" height="2.20" fill="#d0153a" stroke="#5a5a5a" stroke-width="0.45"/>
<line x1="431.10" y1="154.00" x2="437.56" y2="154.00" stroke="#5a5a5a" stroke-width="0.35"/>
<line x1="440.79" y1="150.50" x2="440.79" y2="152.80" stroke="#6e6e6e" stroke-width="0.9"/>
<line x1="439.18" y1="150.50" x2="442.41" y2="150.50" stroke="#6e6e6e" stroke-width="0.9"/>
<line x1="440.79" y1="155.00" x2="440.79" y2="157.50" stroke="#6e6e6e" stroke-width="0.9"/>
<line x1="439.18" y1="157.50" x2="442.41" y2="157.50" stroke="#6e6e6e" stroke-width="0.9"/>
<rect x="437.56" y="152.80" width="6.46" height="2.20" fill="#3cc21a" stroke="#5a5a5a" stroke-width="0.45"/>
<line x1="437.56" y1="154.00" x2="444.02" y2="154.00" stroke="#5a5a5a" stroke-width="0.35"/>
<line x1="447.25" y1="151.40" x2="447.25" y2="152.80" stroke="#6e6e6e" stroke-width="0.9"/>
<line x1="445.64" y1="151.40" x2="448.87" y2="151.40" stroke="#6e6e6e" stroke-width="0.9"/>
<line x1="447.25" y1="155.00" x2="447.25" y2="157.50" stroke="#6e6e6e" stroke-width="0.9"/>
<line x1="445.64" y1="157.50" x2="448.87" y2="157.50" stroke="#6e6e6e" stroke-width="0.9"/>
<rect x="444.02" y="152.80" width="6.46" height="2.20" fill="#ee6c0f" stroke="#5a5a5a" stroke-width="0.45"/>
<line x1="444.02" y1="154.00" x2="450.48" y2="154.00" stroke="#5a5a5a" stroke-width="0.35"/>
<line x1="453.71" y1="150.50" x2="453.71" y2="152.80" stroke="#6e6e6e" stroke-width="0.9"/>
<line x1="452.10" y1="150.50" x2="455.33" y2="150.50" stroke="#6e6e6e" stroke-width="0.9"/>
<line x1="453.71" y1="155.00" x2="453.71" y2="157.50" stroke="#6e6e6e" stroke-width="0.9"/>
<line x1="452.10" y1="157.50" x2="455.33" y2="157.50" stroke="#6e6e6e" stroke-width="0.9"/>
<rect x="450.48" y="152.80" width="6.46" height="2.20" fill="#2e80d6" stroke="#5a5a5a" stroke-width="0.45"/>
<line x1="450.48" y1="154.00" x2="456.94" y2="154.00" stroke="#5a5a5a" stroke-width="0.35"/>
<line x1="460.17" y1="150.70" x2="460.17" y2="152.80" stroke="#6e6e6e" stroke-width="0.9"/>
<line x1="458.56" y1="150.70" x2="461.79" y2="150.70" stroke="#6e6e6e" stroke-width="0.9"/>
<line x1="460.17" y1="155.00" x2="460.17" y2="157.50" stroke="#6e6e6e" stroke-width="0.9"/>
<line x1="458.56" y1="157.50" x2="461.79" y2="157.50" stroke="#6e6e6e" stroke-width="0.9"/>
<rect x="456.94" y="152.80" width="6.46" height="2.20" fill="#8f60f5" stroke="#5a5a5a" stroke-width="0.45"/>
<line x1="456.94" y1="154.00" x2="463.40" y2="154.00" stroke="#5a5a5a" stroke-width="0.35"/>
<line x1="466.63" y1="151.80" x2="466.63" y2="152.30" stroke="#6e6e6e" stroke-width="0.9"/>
<line x1="465.02" y1="151.80" x2="468.25" y2="151.80" stroke="#6e6e6e" stroke-width="0.9"/>
<line x1="466.63" y1="155.30" x2="466.63" y2="156.30" stroke="#6e6e6e" stroke-width="0.9"/>
<line x1="465.02" y1="156.30" x2="468.25" y2="156.30" stroke="#6e6e6e" stroke-width="0.9"/>
<rect x="463.40" y="152.30" width="6.46" height="3.00" fill="#7a4848" stroke="#5a5a5a" stroke-width="0.65"/>
<line x1="463.40" y1="153.80" x2="469.86" y2="153.80" stroke="#5a5a5a" stroke-width="0.7"/>
<line x1="473.09" y1="150.50" x2="473.09" y2="152.30" stroke="#6e6e6e" stroke-width="0.9"/>
<line x1="471.48" y1="150.50" x2="474.71" y2="150.50" stroke="#6e6e6e" stroke-width="0.9"/>
<line x1="473.09" y1="154.50" x2="473.09" y2="155.50" stroke="#6e6e6e" stroke-width="0.9"/>
<line x1="471.48" y1="155.50" x2="474.71" y2="155.50" stroke="#6e6e6e" stroke-width="0.9"/>
<rect x="469.86" y="152.30" width="6.46" height="2.20" fill="#e070f0" stroke="#5a5a5a" stroke-width="0.45"/>
<line x1="469.86" y1="153.40" x2="476.32" y2="153.40" stroke="#5a5a5a" stroke-width="0.35"/>
<line x1="490.86" y1="189.20" x2="490.86" y2="201.50" stroke="#6e6e6e" stroke-width="0.9"/>
<line x1="489.24" y1="189.20" x2="492.47" y2="189.20" stroke="#6e6e6e" stroke-width="0.9"/>
<rect x="487.63" y="201.50" width="6.46" height="10.60" fill="#d0153a" stroke="#5a5a5a" stroke-width="0.65"/>
<line x1="487.63" y1="211.00" x2="494.09" y2="211.00" stroke="#5a5a5a" stroke-width="0.7"/>
<line x1="497.32" y1="178.10" x2="497.32" y2="193.70" stroke="#6e6e6e" stroke-width="0.9"/>
<line x1="495.70" y1="178.10" x2="498.93" y2="178.10" stroke="#6e6e6e" stroke-width="0.9"/>
<rect x="494.09" y="193.70" width="6.46" height="18.40" fill="#3cc21a" stroke="#5a5a5a" stroke-width="0.65"/>
<line x1="494.09" y1="202.50" x2="500.55" y2="202.50" stroke="#5a5a5a" stroke-width="0.7"/>
<line x1="503.78" y1="178.10" x2="503.78" y2="197.20" stroke="#6e6e6e" stroke-width="0.9"/>
<line x1="502.16" y1="178.10" x2="505.39" y2="178.10" stroke="#6e6e6e" stroke-width="0.9"/>
<rect x="500.55" y="197.20" width="6.46" height="14.90" fill="#ee6c0f" stroke="#5a5a5a" stroke-width="0.65"/>
<line x1="500.55" y1="203.20" x2="507.01" y2="203.20" stroke="#5a5a5a" stroke-width="0.7"/>
<line x1="510.24" y1="189.20" x2="510.24" y2="199.80" stroke="#6e6e6e" stroke-width="0.9"/>
<line x1="508.62" y1="189.20" x2="511.85" y2="189.20" stroke="#6e6e6e" stroke-width="0.9"/>
<rect x="507.01" y="199.80" width="6.46" height="12.30" fill="#2e80d6" stroke="#5a5a5a" stroke-width="0.65"/>
<line x1="507.01" y1="206.90" x2="513.47" y2="206.90" stroke="#5a5a5a" stroke-width="0.7"/>
<line x1="516.70" y1="178.10" x2="516.70" y2="195.10" stroke="#6e6e6e" stroke-width="0.9"/>
<line x1="515.08" y1="178.10" x2="518.31" y2="178.10" stroke="#6e6e6e" stroke-width="0.9"/>
<rect x="513.47" y="195.10" width="6.46" height="17.00" fill="#8f60f5" stroke="#5a5a5a" stroke-width="0.65"/>
<line x1="513.47" y1="211.00" x2="519.93" y2="211.00" stroke="#5a5a5a" stroke-width="0.7"/>
<line x1="523.16" y1="143.50" x2="523.16" y2="166.40" stroke="#6e6e6e" stroke-width="0.9"/>
<line x1="521.54" y1="143.50" x2="524.77" y2="143.50" stroke="#6e6e6e" stroke-width="0.9"/>
<line x1="523.16" y1="200.50" x2="523.16" y2="212.10" stroke="#6e6e6e" stroke-width="0.9"/>
<line x1="521.54" y1="212.10" x2="524.77" y2="212.10" stroke="#6e6e6e" stroke-width="0.9"/>
<rect x="519.93" y="166.40" width="6.46" height="34.10" fill="#7a4848" stroke="#5a5a5a" stroke-width="0.65"/>
<line x1="519.93" y1="189.20" x2="526.39" y2="189.20" stroke="#5a5a5a" stroke-width="0.7"/>
<line x1="529.62" y1="166.40" x2="529.62" y2="190.90" stroke="#6e6e6e" stroke-width="0.9"/>
<line x1="528.00" y1="166.40" x2="531.23" y2="166.40" stroke="#6e6e6e" stroke-width="0.9"/>
<line x1="529.62" y1="208.50" x2="529.62" y2="212.10" stroke="#6e6e6e" stroke-width="0.9"/>
<line x1="528.00" y1="212.10" x2="531.23" y2="212.10" stroke="#6e6e6e" stroke-width="0.9"/>
<rect x="526.39" y="190.90" width="6.46" height="17.60" fill="#e070f0" stroke="#5a5a5a" stroke-width="0.65"/>
<line x1="526.39" y1="195.10" x2="532.85" y2="195.10" stroke="#5a5a5a" stroke-width="0.7"/>
<rect x="312.40" y="137.20" width="226.10" height="82.00" fill="none" stroke="#262626" stroke-width="0.9"/>
<line x1="309.40" y1="143.90" x2="312.40" y2="143.90" stroke="#262626" stroke-width="0.9"/>
<text x="306.80" y="146.85" font-size="8.3" text-anchor="end" fill="#000" textLength="16.10" lengthAdjust="spacingAndGlyphs">1.00</text>
<line x1="309.40" y1="160.97" x2="312.40" y2="160.97" stroke="#262626" stroke-width="0.9"/>
<text x="306.80" y="163.92" font-size="8.3" text-anchor="end" fill="#000" textLength="16.10" lengthAdjust="spacingAndGlyphs">0.75</text>
<line x1="309.40" y1="178.05" x2="312.40" y2="178.05" stroke="#262626" stroke-width="0.9"/>
<text x="306.80" y="181.00" font-size="8.3" text-anchor="end" fill="#000" textLength="16.10" lengthAdjust="spacingAndGlyphs">0.50</text>
<line x1="309.40" y1="195.12" x2="312.40" y2="195.12" stroke="#262626" stroke-width="0.9"/>
<text x="306.80" y="198.07" font-size="8.3" text-anchor="end" fill="#000" textLength="16.10" lengthAdjust="spacingAndGlyphs">0.25</text>
<line x1="309.40" y1="212.20" x2="312.40" y2="212.20" stroke="#262626" stroke-width="0.9"/>
<text x="306.80" y="215.15" font-size="8.3" text-anchor="end" fill="#000" textLength="16.10" lengthAdjust="spacingAndGlyphs">0.00</text>
<line x1="340.66" y1="219.20" x2="340.66" y2="221.70" stroke="#262626" stroke-width="0.9"/>
<line x1="397.19" y1="219.20" x2="397.19" y2="221.70" stroke="#262626" stroke-width="0.9"/>
<line x1="453.71" y1="219.20" x2="453.71" y2="221.70" stroke="#262626" stroke-width="0.9"/>
<line x1="510.24" y1="219.20" x2="510.24" y2="221.70" stroke="#262626" stroke-width="0.9"/>
<text x="425.45" y="132.40" font-size="10" text-anchor="middle" fill="#000" textLength="62.50" lengthAdjust="spacingAndGlyphs">Nitrofurantoin</text>
<line x1="54.09" y1="246.80" x2="54.09" y2="247.20" stroke="#6e6e6e" stroke-width="0.9"/>
<line x1="52.48" y1="246.80" x2="55.71" y2="246.80" stroke="#6e6e6e" stroke-width="0.9"/>
<line x1="54.09" y1="248.60" x2="54.09" y2="249.90" stroke="#6e6e6e" stroke-width="0.9"/>
<line x1="52.48" y1="249.90" x2="55.71" y2="249.90" stroke="#6e6e6e" stroke-width="0.9"/>
<rect x="50.86" y="247.15" width="6.47" height="1.50" fill="#d0153a" stroke="#5a5a5a" stroke-width="0.45"/>
<line x1="50.86" y1="247.90" x2="57.33" y2="247.90" stroke="#5a5a5a" stroke-width="0.35"/>
<line x1="60.56" y1="246.10" x2="60.56" y2="247.20" stroke="#6e6e6e" stroke-width="0.9"/>
<line x1="58.95" y1="246.10" x2="62.18" y2="246.10" stroke="#6e6e6e" stroke-width="0.9"/>
<line x1="60.56" y1="248.60" x2="60.56" y2="250.80" stroke="#6e6e6e" stroke-width="0.9"/>
<line x1="58.95" y1="250.80" x2="62.18" y2="250.80" stroke="#6e6e6e" stroke-width="0.9"/>
<rect x="57.33" y="247.15" width="6.47" height="1.50" fill="#3cc21a" stroke="#5a5a5a" stroke-width="0.45"/>
<line x1="57.33" y1="247.90" x2="63.80" y2="247.90" stroke="#5a5a5a" stroke-width="0.35"/>
<line x1="67.03" y1="246.80" x2="67.03" y2="247.20" stroke="#6e6e6e" stroke-width="0.9"/>
<line x1="65.41" y1="246.80" x2="68.65" y2="246.80" stroke="#6e6e6e" stroke-width="0.9"/>
<line x1="67.03" y1="248.60" x2="67.03" y2="249.90" stroke="#6e6e6e" stroke-width="0.9"/>
<line x1="65.41" y1="249.90" x2="68.65" y2="249.90" stroke="#6e6e6e" stroke-width="0.9"/>
<rect x="63.80" y="247.15" width="6.47" height="1.50" fill="#ee6c0f" stroke="#5a5a5a" stroke-width="0.45"/>
<line x1="63.80" y1="247.90" x2="70.27" y2="247.90" stroke="#5a5a5a" stroke-width="0.35"/>
<line x1="73.50" y1="245.40" x2="73.50" y2="247.20" stroke="#6e6e6e" stroke-width="0.9"/>
<line x1="71.88" y1="245.40" x2="75.12" y2="245.40" stroke="#6e6e6e" stroke-width="0.9"/>
<line x1="73.50" y1="248.60" x2="73.50" y2="250.80" stroke="#6e6e6e" stroke-width="0.9"/>
<line x1="71.88" y1="250.80" x2="75.12" y2="250.80" stroke="#6e6e6e" stroke-width="0.9"/>
<rect x="70.27" y="247.15" width="6.47" height="1.50" fill="#2e80d6" stroke="#5a5a5a" stroke-width="0.45"/>
<line x1="70.27" y1="247.90" x2="76.73" y2="247.90" stroke="#5a5a5a" stroke-width="0.35"/>
<line x1="79.97" y1="246.80" x2="79.97" y2="247.20" stroke="#6e6e6e" stroke-width="0.9"/>
<line x1="78.35" y1="246.80" x2="81.59" y2="246.80" stroke="#6e6e6e" stroke-width="0.9"/>
<line x1="79.97" y1="248.60" x2="79.97" y2="249.90" stroke="#6e6e6e" stroke-width="0.9"/>
<line x1="78.35" y1="249.90" x2="81.59" y2="249.90" stroke="#6e6e6e" stroke-width="0.9"/>
<rect x="76.73" y="247.15" width="6.47" height="1.50" fill="#8f60f5" stroke="#5a5a5a" stroke-width="0.45"/>
<line x1="76.73" y1="247.90" x2="83.20" y2="247.90" stroke="#5a5a5a" stroke-width="0.35"/>
<line x1="86.44" y1="246.80" x2="86.44" y2="247.20" stroke="#6e6e6e" stroke-width="0.9"/>
<line x1="84.82" y1="246.80" x2="88.05" y2="246.80" stroke="#6e6e6e" stroke-width="0.9"/>
<line x1="86.44" y1="248.60" x2="86.44" y2="249.90" stroke="#6e6e6e" stroke-width="0.9"/>
<line x1="84.82" y1="249.90" x2="88.05" y2="249.90" stroke="#6e6e6e" stroke-width="0.9"/>
<rect x="83.20" y="247.15" width="6.47" height="1.50" fill="#7a4848" stroke="#5a5a5a" stroke-width="0.45"/>
<line x1="83.20" y1="247.90" x2="89.67" y2="247.90" stroke="#5a5a5a" stroke-width="0.35"/>
<line x1="92.91" y1="246.80" x2="92.91" y2="247.20" stroke="#6e6e6e" stroke-width="0.9"/>
<line x1="91.29" y1="246.80" x2="94.52" y2="246.80" stroke="#6e6e6e" stroke-width="0.9"/>
<line x1="92.91" y1="248.60" x2="92.91" y2="249.90" stroke="#6e6e6e" stroke-width="0.9"/>
<line x1="91.29" y1="249.90" x2="94.52" y2="249.90" stroke="#6e6e6e" stroke-width="0.9"/>
<rect x="89.67" y="247.15" width="6.47" height="1.50" fill="#e070f0" stroke="#5a5a5a" stroke-width="0.45"/>
<line x1="89.67" y1="247.90" x2="96.14" y2="247.90" stroke="#5a5a5a" stroke-width="0.35"/>
<line x1="110.69" y1="246.30" x2="110.69" y2="246.50" stroke="#6e6e6e" stroke-width="0.9"/>
<line x1="109.08" y1="246.30" x2="112.31" y2="246.30" stroke="#6e6e6e" stroke-width="0.9"/>
<line x1="110.69" y1="247.50" x2="110.69" y2="248.50" stroke="#6e6e6e" stroke-width="0.9"/>
<line x1="109.08" y1="248.50" x2="112.31" y2="248.50" stroke="#6e6e6e" stroke-width="0.9"/>
<rect x="107.46" y="246.25" width="6.47" height="1.50" fill="#d0153a" stroke="#5a5a5a" stroke-width="0.45"/>
<line x1="107.46" y1="247.00" x2="113.93" y2="247.00" stroke="#5a5a5a" stroke-width="0.35"/>
<line x1="117.16" y1="246.30" x2="117.16" y2="246.50" stroke="#6e6e6e" stroke-width="0.9"/>
<line x1="115.55" y1="246.30" x2="118.78" y2="246.30" stroke="#6e6e6e" stroke-width="0.9"/>
<line x1="117.16" y1="247.50" x2="117.16" y2="248.50" stroke="#6e6e6e" stroke-width="0.9"/>
<line x1="115.55" y1="248.50" x2="118.78" y2="248.50" stroke="#6e6e6e" stroke-width="0.9"/>
<rect x="113.93" y="246.25" width="6.47" height="1.50" fill="#3cc21a" stroke="#5a5a5a" stroke-width="0.45"/>
<line x1="113.93" y1="247.00" x2="120.40" y2="247.00" stroke="#5a5a5a" stroke-width="0.35"/>
<line x1="123.63" y1="246.30" x2="123.63" y2="246.50" stroke="#6e6e6e" stroke-width="0.9"/>
<line x1="122.01" y1="246.30" x2="125.25" y2="246.30" stroke="#6e6e6e" stroke-width="0.9"/>
<line x1="123.63" y1="247.50" x2="123.63" y2="248.50" stroke="#6e6e6e" stroke-width="0.9"/>
<line x1="122.01" y1="248.50" x2="125.25" y2="248.50" stroke="#6e6e6e" stroke-width="0.9"/>
<rect x="120.40" y="246.25" width="6.47" height="1.50" fill="#ee6c0f" stroke="#5a5a5a" stroke-width="0.45"/>
<line x1="120.40" y1="247.00" x2="126.87" y2="247.00" stroke="#5a5a5a" stroke-width="0.35"/>
<line x1="130.10" y1="245.60" x2="130.10" y2="246.50" stroke="#6e6e6e" stroke-width="0.9"/>
<line x1="128.48" y1="245.60" x2="131.72" y2="245.60" stroke="#6e6e6e" stroke-width="0.9"/>
<line x1="130.10" y1="247.50" x2="130.10" y2="248.50" stroke="#6e6e6e" stroke-width="0.9"/>
<line x1="128.48" y1="248.50" x2="131.72" y2="248.50" stroke="#6e6e6e" stroke-width="0.9"/>
<rect x="126.87" y="246.25" width="6.47" height="1.50" fill="#2e80d6" stroke="#5a5a5a" stroke-width="0.45"/>
<line x1="126.87" y1="247.00" x2="133.33" y2="247.00" stroke="#5a5a5a" stroke-width="0.35"/>
<line x1="136.57" y1="246.30" x2="136.57" y2="246.50" stroke="#6e6e6e" stroke-width="0.9"/>
<line x1="134.95" y1="246.30" x2="138.19" y2="246.30" stroke="#6e6e6e" stroke-width="0.9"/>
<line x1="136.57" y1="247.50" x2="136.57" y2="248.50" stroke="#6e6e6e" stroke-width="0.9"/>
<line x1="134.95" y1="248.50" x2="138.19" y2="248.50" stroke="#6e6e6e" stroke-width="0.9"/>
<rect x="133.33" y="246.25" width="6.47" height="1.50" fill="#8f60f5" stroke="#5a5a5a" stroke-width="0.45"/>
<line x1="133.33" y1="247.00" x2="139.80" y2="247.00" stroke="#5a5a5a" stroke-width="0.35"/>
<line x1="143.04" y1="246.30" x2="143.04" y2="246.50" stroke="#6e6e6e" stroke-width="0.9"/>
<line x1="141.42" y1="246.30" x2="144.65" y2="246.30" stroke="#6e6e6e" stroke-width="0.9"/>
<line x1="143.04" y1="247.50" x2="143.04" y2="248.50" stroke="#6e6e6e" stroke-width="0.9"/>
<line x1="141.42" y1="248.50" x2="144.65" y2="248.50" stroke="#6e6e6e" stroke-width="0.9"/>
<rect x="139.80" y="246.25" width="6.47" height="1.50" fill="#7a4848" stroke="#5a5a5a" stroke-width="0.45"/>
<line x1="139.80" y1="247.00" x2="146.27" y2="247.00" stroke="#5a5a5a" stroke-width="0.35"/>
<line x1="149.51" y1="246.30" x2="149.51" y2="246.50" stroke="#6e6e6e" stroke-width="0.9"/>
<line x1="147.89" y1="246.30" x2="151.12" y2="246.30" stroke="#6e6e6e" stroke-width="0.9"/>
<line x1="149.51" y1="247.50" x2="149.51" y2="248.50" stroke="#6e6e6e" stroke-width="0.9"/>
<line x1="147.89" y1="248.50" x2="151.12" y2="248.50" stroke="#6e6e6e" stroke-width="0.9"/>
<rect x="146.27" y="246.25" width="6.47" height="1.50" fill="#e070f0" stroke="#5a5a5a" stroke-width="0.45"/>
<line x1="146.27" y1="247.00" x2="152.74" y2="247.00" stroke="#5a5a5a" stroke-width="0.35"/>
<line x1="167.29" y1="246.30" x2="167.29" y2="246.70" stroke="#6e6e6e" stroke-width="0.9"/>
<line x1="165.68" y1="246.30" x2="168.91" y2="246.30" stroke="#6e6e6e" stroke-width="0.9"/>
<line x1="167.29" y1="247.70" x2="167.29" y2="248.60" stroke="#6e6e6e" stroke-width="0.9"/>
<line x1="165.68" y1="248.60" x2="168.91" y2="248.60" stroke="#6e6e6e" stroke-width="0.9"/>
<rect x="164.06" y="246.45" width="6.47" height="1.50" fill="#d0153a" stroke="#5a5a5a" stroke-width="0.45"/>
<line x1="164.06" y1="247.20" x2="170.53" y2="247.20" stroke="#5a5a5a" stroke-width="0.35"/>
<line x1="173.76" y1="246.30" x2="173.76" y2="246.70" stroke="#6e6e6e" stroke-width="0.9"/>
<line x1="172.15" y1="246.30" x2="175.38" y2="246.30" stroke="#6e6e6e" stroke-width="0.9"/>
<line x1="173.76" y1="247.70" x2="173.76" y2="249.00" stroke="#6e6e6e" stroke-width="0.9"/>
<line x1="172.15" y1="249.00" x2="175.38" y2="249.00" stroke="#6e6e6e" stroke-width="0.9"/>
<rect x="170.53" y="246.45" width="6.47" height="1.50" fill="#3cc21a" stroke="#5a5a5a" stroke-width="0.45"/>
<line x1="170.53" y1="247.20" x2="177.00" y2="247.20" stroke="#5a5a5a" stroke-width="0.35"/>
<line x1="180.23" y1="246.30" x2="180.23" y2="246.70" stroke="#6e6e6e" stroke-width="0.9"/>
<line x1="178.61" y1="246.30" x2="181.85" y2="246.30" stroke="#6e6e6e" stroke-width="0.9"/>
<line x1="180.23" y1="247.70" x2="180.23" y2="248.60" stroke="#6e6e6e" stroke-width="0.9"/>
<line x1="178.61" y1="248.60" x2="181.85" y2="248.60" stroke="#6e6e6e" stroke-width="0.9"/>
<rect x="177.00" y="246.45" width="6.47" height="1.50" fill="#ee6c0f" stroke="#5a5a5a" stroke-width="0.45"/>
<line x1="177.00" y1="247.20" x2="183.47" y2="247.20" stroke="#5a5a5a" stroke-width="0.35"/>
<line x1="186.70" y1="246.30" x2="186.70" y2="246.70" stroke="#6e6e6e" stroke-width="0.9"/>
<line x1="185.08" y1="246.30" x2="188.32" y2="246.30" stroke="#6e6e6e" stroke-width="0.9"/>
<line x1="186.70" y1="247.70" x2="186.70" y2="248.60" stroke="#6e6e6e" stroke-width="0.9"/>
<line x1="185.08" y1="248.60" x2="188.32" y2="248.60" stroke="#6e6e6e" stroke-width="0.9"/>
<rect x="183.47" y="246.45" width="6.47" height="1.50" fill="#2e80d6" stroke="#5a5a5a" stroke-width="0.45"/>
<line x1="183.47" y1="247.20" x2="189.93" y2="247.20" stroke="#5a5a5a" stroke-width="0.35"/>
<line x1="193.17" y1="246.30" x2="193.17" y2="246.70" stroke="#6e6e6e" stroke-width="0.9"/>
<line x1="191.55" y1="246.30" x2="194.79" y2="246.30" stroke="#6e6e6e" stroke-width="0.9"/>
<line x1="193.17" y1="247.70" x2="193.17" y2="248.60" stroke="#6e6e6e" stroke-width="0.9"/>
<line x1="191.55" y1="248.60" x2="194.79" y2="248.60" stroke="#6e6e6e" stroke-width="0.9"/>
<rect x="189.93" y="246.45" width="6.47" height="1.50" fill="#8f60f5" stroke="#5a5a5a" stroke-width="0.45"/>
<line x1="189.93" y1="247.20" x2="196.40" y2="247.20" stroke="#5a5a5a" stroke-width="0.35"/>
<line x1="199.64" y1="246.50" x2="199.64" y2="246.70" stroke="#6e6e6e" stroke-width="0.9"/>
<line x1="198.02" y1="246.50" x2="201.25" y2="246.50" stroke="#6e6e6e" stroke-width="0.9"/>
<line x1="199.64" y1="247.70" x2="199.64" y2="248.60" stroke="#6e6e6e" stroke-width="0.9"/>
<line x1="198.02" y1="248.60" x2="201.25" y2="248.60" stroke="#6e6e6e" stroke-width="0.9"/>
<rect x="196.40" y="246.45" width="6.47" height="1.50" fill="#7a4848" stroke="#5a5a5a" stroke-width="0.45"/>
<line x1="196.40" y1="247.20" x2="202.87" y2="247.20" stroke="#5a5a5a" stroke-width="0.35"/>
<line x1="206.11" y1="246.50" x2="206.11" y2="246.70" stroke="#6e6e6e" stroke-width="0.9"/>
<line x1="204.49" y1="246.50" x2="207.72" y2="246.50" stroke="#6e6e6e" stroke-width="0.9"/>
<line x1="206.11" y1="247.70" x2="206.11" y2="248.60" stroke="#6e6e6e" stroke-width="0.9"/>
<line x1="204.49" y1="248.60" x2="207.72" y2="248.60" stroke="#6e6e6e" stroke-width="0.9"/>
<rect x="202.87" y="246.45" width="6.47" height="1.50" fill="#e070f0" stroke="#5a5a5a" stroke-width="0.45"/>
<line x1="202.87" y1="247.20" x2="209.34" y2="247.20" stroke="#5a5a5a" stroke-width="0.35"/>
<line x1="220.66" y1="314.30" x2="227.13" y2="314.30" stroke="#3a3a3a" stroke-width="0.9"/>
<line x1="230.36" y1="297.30" x2="230.36" y2="306.20" stroke="#6e6e6e" stroke-width="0.9"/>
<line x1="228.75" y1="297.30" x2="231.98" y2="297.30" stroke="#6e6e6e" stroke-width="0.9"/>
<rect x="227.13" y="306.20" width="6.47" height="8.10" fill="#3cc21a" stroke="#5a5a5a" stroke-width="0.65"/>
<line x1="227.13" y1="314.30" x2="233.60" y2="314.30" stroke="#5a5a5a" stroke-width="0.7"/>
<line x1="233.60" y1="314.30" x2="240.07" y2="314.30" stroke="#3a3a3a" stroke-width="0.9"/>
<rect x="240.07" y="312.45" width="6.47" height="1.50" fill="#2e80d6" stroke="#5a5a5a" stroke-width="0.45"/>
<line x1="240.07" y1="313.20" x2="246.53" y2="313.20" stroke="#5a5a5a" stroke-width="0.35"/>
<line x1="246.53" y1="314.30" x2="253.00" y2="314.30" stroke="#3a3a3a" stroke-width="0.9"/>
<line x1="259.47" y1="245.60" x2="265.94" y2="245.60" stroke="#3a3a3a" stroke-width="0.9"/>
<rect x="45.20" y="239.10" width="226.40" height="82.00" fill="none" stroke="#262626" stroke-width="0.9"/>
<line x1="42.20" y1="245.70" x2="45.20" y2="245.70" stroke="#262626" stroke-width="0.9"/>
<text x="39.60" y="248.65" font-size="8.3" text-anchor="end" fill="#000" textLength="16.10" lengthAdjust="spacingAndGlyphs">1.00</text>
<line x1="42.20" y1="262.85" x2="45.20" y2="262.85" stroke="#262626" stroke-width="0.9"/>
<text x="39.60" y="265.80" font-size="8.3" text-anchor="end" fill="#000" textLength="16.10" lengthAdjust="spacingAndGlyphs">0.75</text>
<line x1="42.20" y1="280.00" x2="45.20" y2="280.00" stroke="#262626" stroke-width="0.9"/>
<text x="39.60" y="282.95" font-size="8.3" text-anchor="end" fill="#000" textLength="16.10" lengthAdjust="spacingAndGlyphs">0.50</text>
<line x1="42.20" y1="297.15" x2="45.20" y2="297.15" stroke="#262626" stroke-width="0.9"/>
<text x="39.60" y="300.10" font-size="8.3" text-anchor="end" fill="#000" textLength="16.10" lengthAdjust="spacingAndGlyphs">0.25</text>
<line x1="42.20" y1="314.30" x2="45.20" y2="314.30" stroke="#262626" stroke-width="0.9"/>
<text x="39.60" y="317.25" font-size="8.3" text-anchor="end" fill="#000" textLength="16.10" lengthAdjust="spacingAndGlyphs">0.00</text>
<line x1="73.50" y1="321.10" x2="73.50" y2="323.60" stroke="#262626" stroke-width="0.9"/>
<line x1="130.10" y1="321.10" x2="130.10" y2="323.60" stroke="#262626" stroke-width="0.9"/>
<line x1="186.70" y1="321.10" x2="186.70" y2="323.60" stroke="#262626" stroke-width="0.9"/>
<line x1="243.30" y1="321.10" x2="243.30" y2="323.60" stroke="#262626" stroke-width="0.9"/>
<text x="76.00" y="326.80" font-size="8.2" text-anchor="end" fill="#000" textLength="46.40" lengthAdjust="spacingAndGlyphs" transform="rotate(-90 76.00 326.80)">F1 Weighted</text>
<text x="132.60" y="326.80" font-size="8.2" text-anchor="end" fill="#000" textLength="33.80" lengthAdjust="spacingAndGlyphs" transform="rotate(-90 132.60 326.80)">Accuracy</text>
<text x="189.20" y="326.80" font-size="8.2" text-anchor="end" fill="#000" textLength="13.30" lengthAdjust="spacingAndGlyphs" transform="rotate(-90 189.20 326.80)">PPV</text>
<text x="245.80" y="326.80" font-size="8.2" text-anchor="end" fill="#000" textLength="14.40" lengthAdjust="spacingAndGlyphs" transform="rotate(-90 245.80 326.80)">NPV</text>
<text x="158.40" y="234.00" font-size="10" text-anchor="middle" fill="#000" textLength="107.90" lengthAdjust="spacingAndGlyphs">Piperacillin_Tazobactam</text>
<line x1="319.38" y1="267.40" x2="319.38" y2="268.80" stroke="#6e6e6e" stroke-width="0.9"/>
<line x1="317.77" y1="267.40" x2="321.00" y2="267.40" stroke="#6e6e6e" stroke-width="0.9"/>
<line x1="319.38" y1="270.10" x2="319.38" y2="272.30" stroke="#6e6e6e" stroke-width="0.9"/>
<line x1="317.77" y1="272.30" x2="321.00" y2="272.30" stroke="#6e6e6e" stroke-width="0.9"/>
<rect x="316.15" y="268.70" width="6.46" height="1.50" fill="#d0153a" stroke="#5a5a5a" stroke-width="0.45"/>
<line x1="316.15" y1="269.50" x2="322.61" y2="269.50" stroke="#5a5a5a" stroke-width="0.35"/>
<line x1="325.84" y1="265.50" x2="325.84" y2="268.20" stroke="#6e6e6e" stroke-width="0.9"/>
<line x1="324.23" y1="265.50" x2="327.46" y2="265.50" stroke="#6e6e6e" stroke-width="0.9"/>
<line x1="325.84" y1="270.10" x2="325.84" y2="273.40" stroke="#6e6e6e" stroke-width="0.9"/>
<line x1="324.23" y1="273.40" x2="327.46" y2="273.40" stroke="#6e6e6e" stroke-width="0.9"/>
<rect x="322.61" y="268.20" width="6.46" height="1.90" fill="#3cc21a" stroke="#5a5a5a" stroke-width="0.45"/>
<line x1="322.61" y1="269.20" x2="329.07" y2="269.20" stroke="#5a5a5a" stroke-width="0.35"/>
<line x1="332.30" y1="267.40" x2="332.30" y2="268.80" stroke="#6e6e6e" stroke-width="0.9"/>
<line x1="330.69" y1="267.40" x2="333.92" y2="267.40" stroke="#6e6e6e" stroke-width="0.9"/>
<line x1="332.30" y1="270.10" x2="332.30" y2="272.30" stroke="#6e6e6e" stroke-width="0.9"/>
<line x1="330.69" y1="272.30" x2="333.92" y2="272.30" stroke="#6e6e6e" stroke-width="0.9"/>
<rect x="329.07" y="268.70" width="6.46" height="1.50" fill="#ee6c0f" stroke="#5a5a5a" stroke-width="0.45"/>
<line x1="329.07" y1="269.50" x2="335.53" y2="269.50" stroke="#5a5a5a" stroke-width="0.35"/>
<line x1="338.76" y1="267.40" x2="338.76" y2="268.80" stroke="#6e6e6e" stroke-width="0.9"/>
<line x1="337.15" y1="267.40" x2="340.38" y2="267.40" stroke="#6e6e6e" stroke-width="0.9"/>
<line x1="338.76" y1="270.10" x2="338.76" y2="272.30" stroke="#6e6e6e" stroke-width="0.9"/>
<line x1="337.15" y1="272.30" x2="340.38" y2="272.30" stroke="#6e6e6e" stroke-width="0.9"/>
<rect x="335.53" y="268.70" width="6.46" height="1.50" fill="#2e80d6" stroke="#5a5a5a" stroke-width="0.45"/>
<line x1="335.53" y1="269.50" x2="341.99" y2="269.50" stroke="#5a5a5a" stroke-width="0.35"/>
<line x1="345.22" y1="267.40" x2="345.22" y2="268.80" stroke="#6e6e6e" stroke-width="0.9"/>
<line x1="343.61" y1="267.40" x2="346.84" y2="267.40" stroke="#6e6e6e" stroke-width="0.9"/>
<line x1="345.22" y1="270.10" x2="345.22" y2="272.30" stroke="#6e6e6e" stroke-width="0.9"/>
<line x1="343.61" y1="272.30" x2="346.84" y2="272.30" stroke="#6e6e6e" stroke-width="0.9"/>
<rect x="341.99" y="268.70" width="6.46" height="1.50" fill="#8f60f5" stroke="#5a5a5a" stroke-width="0.45"/>
<line x1="341.99" y1="269.50" x2="348.45" y2="269.50" stroke="#5a5a5a" stroke-width="0.35"/>
<line x1="351.68" y1="263.10" x2="351.68" y2="265.80" stroke="#6e6e6e" stroke-width="0.9"/>
<line x1="350.07" y1="263.10" x2="353.30" y2="263.10" stroke="#6e6e6e" stroke-width="0.9"/>
<rect x="348.45" y="265.80" width="6.46" height="3.60" fill="#7a4848" stroke="#5a5a5a" stroke-width="0.65"/>
<line x1="348.45" y1="267.60" x2="354.91" y2="267.60" stroke="#5a5a5a" stroke-width="0.7"/>
<line x1="358.14" y1="264.20" x2="358.14" y2="265.50" stroke="#6e6e6e" stroke-width="0.9"/>
<line x1="356.53" y1="264.20" x2="359.76" y2="264.20" stroke="#6e6e6e" stroke-width="0.9"/>
<line x1="358.14" y1="267.20" x2="358.14" y2="268.00" stroke="#6e6e6e" stroke-width="0.9"/>
<line x1="356.53" y1="268.00" x2="359.76" y2="268.00" stroke="#6e6e6e" stroke-width="0.9"/>
<rect x="354.91" y="265.50" width="6.46" height="1.70" fill="#e070f0" stroke="#5a5a5a" stroke-width="0.45"/>
<line x1="354.91" y1="266.30" x2="361.37" y2="266.30" stroke="#5a5a5a" stroke-width="0.35"/>
<line x1="375.91" y1="262.00" x2="375.91" y2="262.40" stroke="#6e6e6e" stroke-width="0.9"/>
<line x1="374.29" y1="262.00" x2="377.52" y2="262.00" stroke="#6e6e6e" stroke-width="0.9"/>
<line x1="375.91" y1="263.60" x2="375.91" y2="264.20" stroke="#6e6e6e" stroke-width="0.9"/>
<line x1="374.29" y1="264.20" x2="377.52" y2="264.20" stroke="#6e6e6e" stroke-width="0.9"/>
<rect x="372.68" y="262.25" width="6.46" height="1.50" fill="#d0153a" stroke="#5a5a5a" stroke-width="0.45"/>
<line x1="372.68" y1="263.00" x2="379.14" y2="263.00" stroke="#5a5a5a" stroke-width="0.35"/>
<line x1="382.37" y1="260.40" x2="382.37" y2="262.60" stroke="#6e6e6e" stroke-width="0.9"/>
<line x1="380.75" y1="260.40" x2="383.98" y2="260.40" stroke="#6e6e6e" stroke-width="0.9"/>
<line x1="382.37" y1="264.20" x2="382.37" y2="266.40" stroke="#6e6e6e" stroke-width="0.9"/>
<line x1="380.75" y1="266.40" x2="383.98" y2="266.40" stroke="#6e6e6e" stroke-width="0.9"/>
<rect x="379.14" y="262.60" width="6.46" height="1.60" fill="#3cc21a" stroke="#5a5a5a" stroke-width="0.45"/>
<line x1="379.14" y1="263.40" x2="385.60" y2="263.40" stroke="#5a5a5a" stroke-width="0.35"/>
<line x1="388.83" y1="262.00" x2="388.83" y2="262.40" stroke="#6e6e6e" stroke-width="0.9"/>
<line x1="387.21" y1="262.00" x2="390.44" y2="262.00" stroke="#6e6e6e" stroke-width="0.9"/>
<line x1="388.83" y1="263.60" x2="388.83" y2="264.20" stroke="#6e6e6e" stroke-width="0.9"/>
<line x1="387.21" y1="264.20" x2="390.44" y2="264.20" stroke="#6e6e6e" stroke-width="0.9"/>
<rect x="385.60" y="262.25" width="6.46" height="1.50" fill="#ee6c0f" stroke="#5a5a5a" stroke-width="0.45"/>
<line x1="385.60" y1="263.00" x2="392.06" y2="263.00" stroke="#5a5a5a" stroke-width="0.35"/>
<line x1="395.29" y1="262.00" x2="395.29" y2="262.40" stroke="#6e6e6e" stroke-width="0.9"/>
<line x1="393.67" y1="262.00" x2="396.90" y2="262.00" stroke="#6e6e6e" stroke-width="0.9"/>
<line x1="395.29" y1="263.60" x2="395.29" y2="264.20" stroke="#6e6e6e" stroke-width="0.9"/>
<line x1="393.67" y1="264.20" x2="396.90" y2="264.20" stroke="#6e6e6e" stroke-width="0.9"/>
<rect x="392.06" y="262.25" width="6.46" height="1.50" fill="#2e80d6" stroke="#5a5a5a" stroke-width="0.45"/>
<line x1="392.06" y1="263.00" x2="398.52" y2="263.00" stroke="#5a5a5a" stroke-width="0.35"/>
<line x1="401.75" y1="262.00" x2="401.75" y2="262.40" stroke="#6e6e6e" stroke-width="0.9"/>
<line x1="400.13" y1="262.00" x2="403.36" y2="262.00" stroke="#6e6e6e" stroke-width="0.9"/>
<line x1="401.75" y1="263.60" x2="401.75" y2="264.20" stroke="#6e6e6e" stroke-width="0.9"/>
<line x1="400.13" y1="264.20" x2="403.36" y2="264.20" stroke="#6e6e6e" stroke-width="0.9"/>
<rect x="398.52" y="262.25" width="6.46" height="1.50" fill="#8f60f5" stroke="#5a5a5a" stroke-width="0.45"/>
<line x1="398.52" y1="263.00" x2="404.98" y2="263.00" stroke="#5a5a5a" stroke-width="0.35"/>
<line x1="408.21" y1="261.50" x2="408.21" y2="262.00" stroke="#6e6e6e" stroke-width="0.9"/>
<line x1="406.59" y1="261.50" x2="409.82" y2="261.50" stroke="#6e6e6e" stroke-width="0.9"/>
<line x1="408.21" y1="263.40" x2="408.21" y2="265.80" stroke="#6e6e6e" stroke-width="0.9"/>
<line x1="406.59" y1="265.80" x2="409.82" y2="265.80" stroke="#6e6e6e" stroke-width="0.9"/>
<rect x="404.98" y="261.95" width="6.46" height="1.50" fill="#7a4848" stroke="#5a5a5a" stroke-width="0.45"/>
<line x1="404.98" y1="262.70" x2="411.44" y2="262.70" stroke="#5a5a5a" stroke-width="0.35"/>
<line x1="414.67" y1="263.00" x2="414.67" y2="263.40" stroke="#6e6e6e" stroke-width="0.9"/>
<line x1="413.05" y1="263.00" x2="416.28" y2="263.00" stroke="#6e6e6e" stroke-width="0.9"/>
<line x1="414.67" y1="265.50" x2="414.67" y2="266.00" stroke="#6e6e6e" stroke-width="0.9"/>
<line x1="413.05" y1="266.00" x2="416.28" y2="266.00" stroke="#6e6e6e" stroke-width="0.9"/>
<rect x="411.44" y="263.40" width="6.46" height="2.10" fill="#e070f0" stroke="#5a5a5a" stroke-width="0.45"/>
<line x1="411.44" y1="264.50" x2="417.90" y2="264.50" stroke="#5a5a5a" stroke-width="0.35"/>
<line x1="432.43" y1="261.80" x2="432.43" y2="262.30" stroke="#6e6e6e" stroke-width="0.9"/>
<line x1="430.82" y1="261.80" x2="434.05" y2="261.80" stroke="#6e6e6e" stroke-width="0.9"/>
<line x1="432.43" y1="263.50" x2="432.43" y2="264.50" stroke="#6e6e6e" stroke-width="0.9"/>
<line x1="430.82" y1="264.50" x2="434.05" y2="264.50" stroke="#6e6e6e" stroke-width="0.9"/>
<rect x="429.20" y="262.15" width="6.46" height="1.50" fill="#d0153a" stroke="#5a5a5a" stroke-width="0.45"/>
<line x1="429.20" y1="262.90" x2="435.66" y2="262.90" stroke="#5a5a5a" stroke-width="0.35"/>
<line x1="438.89" y1="259.50" x2="438.89" y2="262.30" stroke="#6e6e6e" stroke-width="0.9"/>
<line x1="437.28" y1="259.50" x2="440.51" y2="259.50" stroke="#6e6e6e" stroke-width="0.9"/>
<line x1="438.89" y1="263.50" x2="438.89" y2="265.60" stroke="#6e6e6e" stroke-width="0.9"/>
<line x1="437.28" y1="265.60" x2="440.51" y2="265.60" stroke="#6e6e6e" stroke-width="0.9"/>
<rect x="435.66" y="262.15" width="6.46" height="1.50" fill="#3cc21a" stroke="#5a5a5a" stroke-width="0.45"/>
<line x1="435.66" y1="262.90" x2="442.12" y2="262.90" stroke="#5a5a5a" stroke-width="0.35"/>
<line x1="445.35" y1="261.80" x2="445.35" y2="262.30" stroke="#6e6e6e" stroke-width="0.9"/>
<line x1="443.74" y1="261.80" x2="446.97" y2="261.80" stroke="#6e6e6e" stroke-width="0.9"/>
<line x1="445.35" y1="263.50" x2="445.35" y2="264.50" stroke="#6e6e6e" stroke-width="0.9"/>
<line x1="443.74" y1="264.50" x2="446.97" y2="264.50" stroke="#6e6e6e" stroke-width="0.9"/>
<rect x="442.12" y="262.15" width="6.46" height="1.50" fill="#ee6c0f" stroke="#5a5a5a" stroke-width="0.45"/>
<line x1="442.12" y1="262.90" x2="448.58" y2="262.90" stroke="#5a5a5a" stroke-width="0.35"/>
<line x1="451.81" y1="261.80" x2="451.81" y2="262.30" stroke="#6e6e6e" stroke-width="0.9"/>
<line x1="450.20" y1="261.80" x2="453.43" y2="261.80" stroke="#6e6e6e" stroke-width="0.9"/>
<line x1="451.81" y1="263.50" x2="451.81" y2="264.50" stroke="#6e6e6e" stroke-width="0.9"/>
<line x1="450.20" y1="264.50" x2="453.43" y2="264.50" stroke="#6e6e6e" stroke-width="0.9"/>
<rect x="448.58" y="262.15" width="6.46" height="1.50" fill="#2e80d6" stroke="#5a5a5a" stroke-width="0.45"/>
<line x1="448.58" y1="262.90" x2="455.04" y2="262.90" stroke="#5a5a5a" stroke-width="0.35"/>
<line x1="458.27" y1="261.80" x2="458.27" y2="262.30" stroke="#6e6e6e" stroke-width="0.9"/>
<line x1="456.66" y1="261.80" x2="459.89" y2="261.80" stroke="#6e6e6e" stroke-width="0.9"/>
<line x1="458.27" y1="263.50" x2="458.27" y2="264.50" stroke="#6e6e6e" stroke-width="0.9"/>
<line x1="456.66" y1="264.50" x2="459.89" y2="264.50" stroke="#6e6e6e" stroke-width="0.9"/>
<rect x="455.04" y="262.15" width="6.46" height="1.50" fill="#8f60f5" stroke="#5a5a5a" stroke-width="0.45"/>
<line x1="455.04" y1="262.90" x2="461.50" y2="262.90" stroke="#5a5a5a" stroke-width="0.35"/>
<line x1="461.50" y1="262.60" x2="467.96" y2="262.60" stroke="#3a3a3a" stroke-width="0.9"/>
<line x1="467.96" y1="261.50" x2="474.42" y2="261.50" stroke="#3a3a3a" stroke-width="0.9"/>
<line x1="488.96" y1="275.30" x2="488.96" y2="298.40" stroke="#6e6e6e" stroke-width="0.9"/>
<line x1="487.34" y1="275.30" x2="490.57" y2="275.30" stroke="#6e6e6e" stroke-width="0.9"/>
<rect x="485.73" y="298.40" width="6.46" height="17.90" fill="#d0153a" stroke="#5a5a5a" stroke-width="0.65"/>
<line x1="485.73" y1="304.70" x2="492.19" y2="304.70" stroke="#5a5a5a" stroke-width="0.7"/>
<line x1="495.42" y1="265.30" x2="495.42" y2="293.50" stroke="#6e6e6e" stroke-width="0.9"/>
<line x1="493.80" y1="265.30" x2="497.03" y2="265.30" stroke="#6e6e6e" stroke-width="0.9"/>
<rect x="492.19" y="293.50" width="6.46" height="22.80" fill="#3cc21a" stroke="#5a5a5a" stroke-width="0.65"/>
<line x1="492.19" y1="304.00" x2="498.65" y2="304.00" stroke="#5a5a5a" stroke-width="0.7"/>
<line x1="501.88" y1="270.40" x2="501.88" y2="293.50" stroke="#6e6e6e" stroke-width="0.9"/>
<line x1="500.26" y1="270.40" x2="503.49" y2="270.40" stroke="#6e6e6e" stroke-width="0.9"/>
<rect x="498.65" y="293.50" width="6.46" height="22.80" fill="#ee6c0f" stroke="#5a5a5a" stroke-width="0.65"/>
<line x1="498.65" y1="300.20" x2="505.11" y2="300.20" stroke="#5a5a5a" stroke-width="0.7"/>
<line x1="508.34" y1="282.30" x2="508.34" y2="297.70" stroke="#6e6e6e" stroke-width="0.9"/>
<line x1="506.72" y1="282.30" x2="509.95" y2="282.30" stroke="#6e6e6e" stroke-width="0.9"/>
<rect x="505.11" y="297.70" width="6.46" height="18.60" fill="#2e80d6" stroke="#5a5a5a" stroke-width="0.65"/>
<line x1="505.11" y1="301.40" x2="511.57" y2="301.40" stroke="#5a5a5a" stroke-width="0.7"/>
<line x1="514.80" y1="248.10" x2="514.80" y2="289.20" stroke="#6e6e6e" stroke-width="0.9"/>
<line x1="513.18" y1="248.10" x2="516.41" y2="248.10" stroke="#6e6e6e" stroke-width="0.9"/>
<rect x="511.57" y="289.20" width="6.46" height="27.10" fill="#8f60f5" stroke="#5a5a5a" stroke-width="0.65"/>
<line x1="511.57" y1="316.00" x2="518.03" y2="316.00" stroke="#5a5a5a" stroke-width="0.7"/>
<line x1="521.26" y1="248.10" x2="521.26" y2="251.10" stroke="#6e6e6e" stroke-width="0.9"/>
<line x1="519.64" y1="248.10" x2="522.87" y2="248.10" stroke="#6e6e6e" stroke-width="0.9"/>
<line x1="521.26" y1="297.40" x2="521.26" y2="316.30" stroke="#6e6e6e" stroke-width="0.9"/>
<line x1="519.64" y1="316.30" x2="522.87" y2="316.30" stroke="#6e6e6e" stroke-width="0.9"/>
<rect x="518.03" y="251.10" width="6.46" height="46.30" fill="#7a4848" stroke="#5a5a5a" stroke-width="0.65"/>
<line x1="518.03" y1="271.60" x2="524.49" y2="271.60" stroke="#5a5a5a" stroke-width="0.7"/>
<line x1="527.72" y1="270.40" x2="527.72" y2="283.20" stroke="#6e6e6e" stroke-width="0.9"/>
<line x1="526.10" y1="270.40" x2="529.33" y2="270.40" stroke="#6e6e6e" stroke-width="0.9"/>
<line x1="527.72" y1="293.50" x2="527.72" y2="299.20" stroke="#6e6e6e" stroke-width="0.9"/>
<line x1="526.10" y1="299.20" x2="529.33" y2="299.20" stroke="#6e6e6e" stroke-width="0.9"/>
<rect x="524.49" y="283.20" width="6.46" height="10.30" fill="#e070f0" stroke="#5a5a5a" stroke-width="0.65"/>
<line x1="524.49" y1="289.00" x2="530.95" y2="289.00" stroke="#5a5a5a" stroke-width="0.7"/>
<rect x="310.50" y="241.30" width="226.10" height="81.80" fill="none" stroke="#262626" stroke-width="0.9"/>
<line x1="307.50" y1="248.40" x2="310.50" y2="248.40" stroke="#262626" stroke-width="0.9"/>
<text x="304.90" y="251.35" font-size="8.3" text-anchor="end" fill="#000" textLength="16.10" lengthAdjust="spacingAndGlyphs">1.00</text>
<line x1="307.50" y1="265.40" x2="310.50" y2="265.40" stroke="#262626" stroke-width="0.9"/>
<text x="304.90" y="268.35" font-size="8.3" text-anchor="end" fill="#000" textLength="16.10" lengthAdjust="spacingAndGlyphs">0.75</text>
<line x1="307.50" y1="282.40" x2="310.50" y2="282.40" stroke="#262626" stroke-width="0.9"/>
<text x="304.90" y="285.35" font-size="8.3" text-anchor="end" fill="#000" textLength="16.10" lengthAdjust="spacingAndGlyphs">0.50</text>
<line x1="307.50" y1="299.40" x2="310.50" y2="299.40" stroke="#262626" stroke-width="0.9"/>
<text x="304.90" y="302.35" font-size="8.3" text-anchor="end" fill="#000" textLength="16.10" lengthAdjust="spacingAndGlyphs">0.25</text>
<line x1="307.50" y1="316.40" x2="310.50" y2="316.40" stroke="#262626" stroke-width="0.9"/>
<text x="304.90" y="319.35" font-size="8.3" text-anchor="end" fill="#000" textLength="16.10" lengthAdjust="spacingAndGlyphs">0.00</text>
<line x1="338.76" y1="323.10" x2="338.76" y2="325.60" stroke="#262626" stroke-width="0.9"/>
<line x1="395.29" y1="323.10" x2="395.29" y2="325.60" stroke="#262626" stroke-width="0.9"/>
<line x1="451.81" y1="323.10" x2="451.81" y2="325.60" stroke="#262626" stroke-width="0.9"/>
<line x1="508.34" y1="323.10" x2="508.34" y2="325.60" stroke="#262626" stroke-width="0.9"/>
<text x="341.26" y="328.80" font-size="8.2" text-anchor="end" fill="#000" textLength="46.40" lengthAdjust="spacingAndGlyphs" transform="rotate(-90 341.26 328.80)">F1 Weighted</text>
<text x="397.79" y="328.80" font-size="8.2" text-anchor="end" fill="#000" textLength="33.80" lengthAdjust="spacingAndGlyphs" transform="rotate(-90 397.79 328.80)">Accuracy</text>
<text x="454.31" y="328.80" font-size="8.2" text-anchor="end" fill="#000" textLength="13.30" lengthAdjust="spacingAndGlyphs" transform="rotate(-90 454.31 328.80)">PPV</text>
<text x="510.84" y="328.80" font-size="8.2" text-anchor="end" fill="#000" textLength="14.40" lengthAdjust="spacingAndGlyphs" transform="rotate(-90 510.84 328.80)">NPV</text>
<text x="423.55" y="236.50" font-size="10" text-anchor="middle" fill="#000" textLength="145.50" lengthAdjust="spacingAndGlyphs">Trimethoprim_Sulfamethoxazole</text>
<text x="3.30" y="22.90" font-size="21.5" text-anchor="start" fill="#000" textLength="13.90" lengthAdjust="spacingAndGlyphs" style="stroke-width:0.3px">A</text>
<text x="4.60" y="440.40" font-size="20.5" text-anchor="start" fill="#000" textLength="11.90" lengthAdjust="spacingAndGlyphs" style="stroke-width:0.45px">B</text>
<rect x="63.00" y="393.50" width="10.00" height="6.20" fill="#b00f22"/>
<text x="75.90" y="399.70" font-size="9" text-anchor="start" fill="#000" textLength="46.80" lengthAdjust="spacingAndGlyphs">QPL + MLP</text>
<rect x="63.00" y="406.10" width="10.00" height="6.20" fill="#2f7fd0"/>
<text x="75.90" y="412.30" font-size="9" text-anchor="start" fill="#000" textLength="39.60" lengthAdjust="spacingAndGlyphs">QPL + LR</text>
<rect x="197.20" y="393.80" width="10.00" height="6.20" fill="#26a80c"/>
<text x="209.80" y="400.00" font-size="9" text-anchor="start" fill="#000" textLength="41.50" lengthAdjust="spacingAndGlyphs">QPL + RF</text>
<rect x="197.20" y="405.90" width="10.00" height="6.20" fill="#8866ff"/>
<text x="209.80" y="412.10" font-size="9" text-anchor="start" fill="#000" textLength="64.90" lengthAdjust="spacingAndGlyphs">QPL + XGBoost</text>
<rect x="314.00" y="393.80" width="10.00" height="6.20" fill="#e8640c"/>
<text x="326.60" y="400.00" font-size="9" text-anchor="start" fill="#000" textLength="47.80" lengthAdjust="spacingAndGlyphs">QPL + MLP</text>
<rect x="424.90" y="393.80" width="10.00" height="6.20" fill="#7b4a4f"/>
<text x="437.50" y="400.00" font-size="9" text-anchor="start" fill="#000" textLength="63.10" lengthAdjust="spacingAndGlyphs">Random Forest</text>
<rect x="424.90" y="405.90" width="10.00" height="6.20" fill="#d864f0"/>
<text x="437.50" y="412.10" font-size="9" text-anchor="start" fill="#000" textLength="36.10" lengthAdjust="spacingAndGlyphs">XGBoost</text>
<line x1="186.20" y1="453.02" x2="193.90" y2="453.02" stroke="#6e6e6e" stroke-width="0.9"/>
<line x1="186.20" y1="451.47" x2="186.20" y2="454.57" stroke="#6e6e6e" stroke-width="0.9"/>
<line x1="209.70" y1="453.02" x2="219.40" y2="453.02" stroke="#6e6e6e" stroke-width="0.9"/>
<line x1="219.40" y1="451.47" x2="219.40" y2="454.57" stroke="#6e6e6e" stroke-width="0.9"/>
<rect x="193.90" y="449.92" width="15.80" height="6.20" fill="#2f86e0" stroke="#5a5a5a" stroke-width="0.8"/>
<line x1="201.80" y1="449.92" x2="201.80" y2="456.12" stroke="#5a5a5a" stroke-width="0.8"/>
<line x1="192.00" y1="459.22" x2="201.10" y2="459.22" stroke="#6e6e6e" stroke-width="0.9"/>
<line x1="192.00" y1="457.67" x2="192.00" y2="460.77" stroke="#6e6e6e" stroke-width="0.9"/>
<line x1="216.90" y1="459.22" x2="224.80" y2="459.22" stroke="#6e6e6e" stroke-width="0.9"/>
<line x1="224.80" y1="457.67" x2="224.80" y2="460.77" stroke="#6e6e6e" stroke-width="0.9"/>
<rect x="201.10" y="456.12" width="15.80" height="6.20" fill="#7b4a4a" stroke="#5a5a5a" stroke-width="0.8"/>
<line x1="207.80" y1="456.12" x2="207.80" y2="462.31" stroke="#5a5a5a" stroke-width="0.8"/>
<line x1="198.90" y1="465.41" x2="201.10" y2="465.41" stroke="#6e6e6e" stroke-width="0.9"/>
<line x1="198.90" y1="463.86" x2="198.90" y2="466.96" stroke="#6e6e6e" stroke-width="0.9"/>
<line x1="219.10" y1="465.41" x2="234.20" y2="465.41" stroke="#6e6e6e" stroke-width="0.9"/>
<line x1="234.20" y1="463.86" x2="234.20" y2="466.96" stroke="#6e6e6e" stroke-width="0.9"/>
<rect x="201.10" y="462.31" width="18.00" height="6.20" fill="#e070f0" stroke="#5a5a5a" stroke-width="0.8"/>
<line x1="214.80" y1="462.31" x2="214.80" y2="468.51" stroke="#5a5a5a" stroke-width="0.8"/>
<line x1="235.10" y1="476.25" x2="239.50" y2="476.25" stroke="#6e6e6e" stroke-width="0.9"/>
<line x1="235.10" y1="474.71" x2="235.10" y2="477.80" stroke="#6e6e6e" stroke-width="0.9"/>
<line x1="245.90" y1="476.25" x2="248.10" y2="476.25" stroke="#6e6e6e" stroke-width="0.9"/>
<line x1="248.10" y1="474.71" x2="248.10" y2="477.80" stroke="#6e6e6e" stroke-width="0.9"/>
<rect x="239.50" y="473.16" width="6.40" height="6.20" fill="#2f86e0" stroke="#5a5a5a" stroke-width="0.8"/>
<line x1="242.50" y1="473.16" x2="242.50" y2="479.35" stroke="#5a5a5a" stroke-width="0.8"/>
<line x1="247.40" y1="482.45" x2="253.10" y2="482.45" stroke="#6e6e6e" stroke-width="0.9"/>
<line x1="253.10" y1="480.90" x2="253.10" y2="484.00" stroke="#6e6e6e" stroke-width="0.9"/>
<rect x="238.70" y="479.35" width="8.70" height="6.20" fill="#7b4a4a" stroke="#5a5a5a" stroke-width="0.8"/>
<line x1="243.00" y1="479.35" x2="243.00" y2="485.55" stroke="#5a5a5a" stroke-width="0.8"/>
<line x1="238.70" y1="488.65" x2="241.60" y2="488.65" stroke="#6e6e6e" stroke-width="0.9"/>
<line x1="238.70" y1="487.10" x2="238.70" y2="490.19" stroke="#6e6e6e" stroke-width="0.9"/>
<line x1="254.60" y1="488.65" x2="263.20" y2="488.65" stroke="#6e6e6e" stroke-width="0.9"/>
<line x1="263.20" y1="487.10" x2="263.20" y2="490.19" stroke="#6e6e6e" stroke-width="0.9"/>
<rect x="241.60" y="485.55" width="13.00" height="6.20" fill="#e070f0" stroke="#5a5a5a" stroke-width="0.8"/>
<line x1="248.00" y1="485.55" x2="248.00" y2="491.74" stroke="#5a5a5a" stroke-width="0.8"/>
<line x1="203.30" y1="499.49" x2="227.80" y2="499.49" stroke="#6e6e6e" stroke-width="0.9"/>
<line x1="203.30" y1="497.94" x2="203.30" y2="501.04" stroke="#6e6e6e" stroke-width="0.9"/>
<line x1="246.20" y1="499.49" x2="250.20" y2="499.49" stroke="#6e6e6e" stroke-width="0.9"/>
<line x1="250.20" y1="497.94" x2="250.20" y2="501.04" stroke="#6e6e6e" stroke-width="0.9"/>
<rect x="227.80" y="496.39" width="18.40" height="6.20" fill="#2f86e0" stroke="#5a5a5a" stroke-width="0.8"/>
<line x1="236.80" y1="496.39" x2="236.80" y2="502.59" stroke="#5a5a5a" stroke-width="0.8"/>
<line x1="233.00" y1="505.68" x2="236.80" y2="505.68" stroke="#6e6e6e" stroke-width="0.9"/>
<line x1="233.00" y1="504.13" x2="233.00" y2="507.23" stroke="#6e6e6e" stroke-width="0.9"/>
<line x1="256.30" y1="505.68" x2="260.30" y2="505.68" stroke="#6e6e6e" stroke-width="0.9"/>
<line x1="260.30" y1="504.13" x2="260.30" y2="507.23" stroke="#6e6e6e" stroke-width="0.9"/>
<rect x="236.80" y="502.59" width="19.50" height="6.20" fill="#7b4a4a" stroke="#5a5a5a" stroke-width="0.8"/>
<line x1="246.00" y1="502.59" x2="246.00" y2="508.78" stroke="#5a5a5a" stroke-width="0.8"/>
<line x1="228.20" y1="511.88" x2="241.20" y2="511.88" stroke="#6e6e6e" stroke-width="0.9"/>
<line x1="228.20" y1="510.33" x2="228.20" y2="513.43" stroke="#6e6e6e" stroke-width="0.9"/>
<line x1="254.10" y1="511.88" x2="262.00" y2="511.88" stroke="#6e6e6e" stroke-width="0.9"/>
<line x1="262.00" y1="510.33" x2="262.00" y2="513.43" stroke="#6e6e6e" stroke-width="0.9"/>
<rect x="241.20" y="508.78" width="12.90" height="6.20" fill="#e070f0" stroke="#5a5a5a" stroke-width="0.8"/>
<line x1="250.00" y1="508.78" x2="250.00" y2="514.98" stroke="#5a5a5a" stroke-width="0.8"/>
<line x1="243.00" y1="522.72" x2="248.10" y2="522.72" stroke="#6e6e6e" stroke-width="0.9"/>
<line x1="243.00" y1="521.17" x2="243.00" y2="524.27" stroke="#6e6e6e" stroke-width="0.9"/>
<line x1="255.30" y1="522.72" x2="259.20" y2="522.72" stroke="#6e6e6e" stroke-width="0.9"/>
<line x1="259.20" y1="521.17" x2="259.20" y2="524.27" stroke="#6e6e6e" stroke-width="0.9"/>
<rect x="248.10" y="519.62" width="7.20" height="6.20" fill="#2f86e0" stroke="#5a5a5a" stroke-width="0.8"/>
<line x1="251.50" y1="519.62" x2="251.50" y2="525.82" stroke="#5a5a5a" stroke-width="0.8"/>
<line x1="241.60" y1="528.92" x2="247.40" y2="528.92" stroke="#6e6e6e" stroke-width="0.9"/>
<line x1="241.60" y1="527.37" x2="241.60" y2="530.47" stroke="#6e6e6e" stroke-width="0.9"/>
<line x1="256.00" y1="528.92" x2="260.30" y2="528.92" stroke="#6e6e6e" stroke-width="0.9"/>
<line x1="260.30" y1="527.37" x2="260.30" y2="530.47" stroke="#6e6e6e" stroke-width="0.9"/>
<rect x="247.40" y="525.82" width="8.60" height="6.20" fill="#7b4a4a" stroke="#5a5a5a" stroke-width="0.8"/>
<line x1="251.50" y1="525.82" x2="251.50" y2="532.01" stroke="#5a5a5a" stroke-width="0.8"/>
<line x1="244.50" y1="535.11" x2="248.80" y2="535.11" stroke="#6e6e6e" stroke-width="0.9"/>
<line x1="244.50" y1="533.56" x2="244.50" y2="536.66" stroke="#6e6e6e" stroke-width="0.9"/>
<line x1="256.00" y1="535.11" x2="258.90" y2="535.11" stroke="#6e6e6e" stroke-width="0.9"/>
<line x1="258.90" y1="533.56" x2="258.90" y2="536.66" stroke="#6e6e6e" stroke-width="0.9"/>
<rect x="248.80" y="532.01" width="7.20" height="6.20" fill="#e070f0" stroke="#5a5a5a" stroke-width="0.8"/>
<line x1="252.00" y1="532.01" x2="252.00" y2="538.21" stroke="#5a5a5a" stroke-width="0.8"/>
<line x1="286.10" y1="545.95" x2="289.70" y2="545.95" stroke="#6e6e6e" stroke-width="0.9"/>
<line x1="286.10" y1="544.41" x2="286.10" y2="547.50" stroke="#6e6e6e" stroke-width="0.9"/>
<line x1="296.90" y1="545.95" x2="297.40" y2="545.95" stroke="#6e6e6e" stroke-width="0.9"/>
<line x1="297.40" y1="544.41" x2="297.40" y2="547.50" stroke="#6e6e6e" stroke-width="0.9"/>
<rect x="289.70" y="542.86" width="7.20" height="6.20" fill="#2f86e0" stroke="#5a5a5a" stroke-width="0.8"/>
<line x1="293.00" y1="542.86" x2="293.00" y2="549.05" stroke="#5a5a5a" stroke-width="0.8"/>
<line x1="286.10" y1="552.15" x2="289.70" y2="552.15" stroke="#6e6e6e" stroke-width="0.9"/>
<line x1="286.10" y1="550.60" x2="286.10" y2="553.70" stroke="#6e6e6e" stroke-width="0.9"/>
<rect x="289.70" y="549.05" width="5.90" height="6.20" fill="#7b4a4a" stroke="#5a5a5a" stroke-width="0.8"/>
<line x1="293.00" y1="549.05" x2="293.00" y2="555.25" stroke="#5a5a5a" stroke-width="0.8"/>
<line x1="286.10" y1="558.35" x2="289.70" y2="558.35" stroke="#6e6e6e" stroke-width="0.9"/>
<line x1="286.10" y1="556.80" x2="286.10" y2="559.89" stroke="#6e6e6e" stroke-width="0.9"/>
<rect x="289.70" y="555.25" width="5.90" height="6.20" fill="#e070f0" stroke="#5a5a5a" stroke-width="0.8"/>
<line x1="292.50" y1="555.25" x2="292.50" y2="561.44" stroke="#5a5a5a" stroke-width="0.8"/>
<line x1="226.70" y1="569.19" x2="231.00" y2="569.19" stroke="#6e6e6e" stroke-width="0.9"/>
<line x1="226.70" y1="567.64" x2="226.70" y2="570.74" stroke="#6e6e6e" stroke-width="0.9"/>
<line x1="237.80" y1="569.19" x2="246.10" y2="569.19" stroke="#6e6e6e" stroke-width="0.9"/>
<line x1="246.10" y1="567.64" x2="246.10" y2="570.74" stroke="#6e6e6e" stroke-width="0.9"/>
<rect x="231.00" y="566.09" width="6.80" height="6.20" fill="#2f86e0" stroke="#5a5a5a" stroke-width="0.8"/>
<line x1="234.00" y1="566.09" x2="234.00" y2="572.29" stroke="#5a5a5a" stroke-width="0.8"/>
<line x1="242.50" y1="575.38" x2="247.60" y2="575.38" stroke="#6e6e6e" stroke-width="0.9"/>
<line x1="247.60" y1="573.83" x2="247.60" y2="576.93" stroke="#6e6e6e" stroke-width="0.9"/>
<rect x="229.50" y="572.29" width="13.00" height="6.20" fill="#7b4a4a" stroke="#5a5a5a" stroke-width="0.8"/>
<line x1="236.00" y1="572.29" x2="236.00" y2="578.48" stroke="#5a5a5a" stroke-width="0.8"/>
<line x1="244.00" y1="581.58" x2="246.10" y2="581.58" stroke="#6e6e6e" stroke-width="0.9"/>
<line x1="246.10" y1="580.03" x2="246.10" y2="583.13" stroke="#6e6e6e" stroke-width="0.9"/>
<rect x="234.60" y="578.48" width="9.40" height="6.20" fill="#e070f0" stroke="#5a5a5a" stroke-width="0.8"/>
<line x1="238.00" y1="578.48" x2="238.00" y2="584.68" stroke="#5a5a5a" stroke-width="0.8"/>
<circle cx="186.08" cy="451.19" r="1.0" fill="#2a7ee8"/>
<circle cx="186.22" cy="453.15" r="1.0" fill="#2a7ee8"/>
<circle cx="186.16" cy="454.91" r="1.0" fill="#2a7ee8"/>
<circle cx="219.29" cy="451.38" r="1.0" fill="#2a7ee8"/>
<circle cx="219.57" cy="452.81" r="1.0" fill="#2a7ee8"/>
<circle cx="219.21" cy="454.81" r="1.0" fill="#2a7ee8"/>
<circle cx="168.90" cy="453.24" r="1.35" fill="#2a7ee8"/>
<circle cx="197.84" cy="450.96" r="1.0" fill="#2a7ee8"/>
<circle cx="197.77" cy="452.13" r="1.0" fill="#2a7ee8"/>
<circle cx="197.57" cy="453.83" r="1.0" fill="#2a7ee8"/>
<circle cx="197.83" cy="454.94" r="1.0" fill="#2a7ee8"/>
<circle cx="196.08" cy="451.10" r="1.0" fill="#2a7ee8"/>
<circle cx="196.05" cy="452.36" r="1.0" fill="#2a7ee8"/>
<circle cx="196.15" cy="453.69" r="1.0" fill="#2a7ee8"/>
<circle cx="195.91" cy="454.66" r="1.0" fill="#2a7ee8"/>
<circle cx="201.39" cy="450.88" r="1.0" fill="#2a7ee8"/>
<circle cx="201.46" cy="452.26" r="1.0" fill="#2a7ee8"/>
<circle cx="201.53" cy="453.81" r="1.0" fill="#2a7ee8"/>
<circle cx="201.52" cy="454.83" r="1.0" fill="#2a7ee8"/>
<circle cx="194.95" cy="451.21" r="1.0" fill="#2a7ee8"/>
<circle cx="194.83" cy="454.82" r="1.0" fill="#2a7ee8"/>
<circle cx="193.36" cy="451.06" r="1.0" fill="#2a7ee8"/>
<circle cx="193.11" cy="454.60" r="1.0" fill="#2a7ee8"/>
<circle cx="214.33" cy="451.23" r="1.0" fill="#2a7ee8"/>
<circle cx="214.18" cy="455.00" r="1.0" fill="#2a7ee8"/>
<circle cx="192.06" cy="457.35" r="1.0" fill="#6e2f2f"/>
<circle cx="191.94" cy="459.21" r="1.0" fill="#6e2f2f"/>
<circle cx="192.16" cy="460.82" r="1.0" fill="#6e2f2f"/>
<circle cx="224.77" cy="457.07" r="1.0" fill="#6e2f2f"/>
<circle cx="224.65" cy="459.17" r="1.0" fill="#6e2f2f"/>
<circle cx="224.90" cy="461.14" r="1.0" fill="#6e2f2f"/>
<circle cx="209.69" cy="457.28" r="1.0" fill="#6e2f2f"/>
<circle cx="209.83" cy="458.63" r="1.0" fill="#6e2f2f"/>
<circle cx="209.55" cy="459.70" r="1.0" fill="#6e2f2f"/>
<circle cx="209.46" cy="460.80" r="1.0" fill="#6e2f2f"/>
<circle cx="210.11" cy="457.12" r="1.0" fill="#6e2f2f"/>
<circle cx="210.28" cy="458.87" r="1.0" fill="#6e2f2f"/>
<circle cx="210.00" cy="459.71" r="1.0" fill="#6e2f2f"/>
<circle cx="210.28" cy="461.19" r="1.0" fill="#6e2f2f"/>
<circle cx="211.40" cy="457.26" r="1.0" fill="#6e2f2f"/>
<circle cx="211.60" cy="458.38" r="1.0" fill="#6e2f2f"/>
<circle cx="211.61" cy="459.76" r="1.0" fill="#6e2f2f"/>
<circle cx="211.60" cy="461.01" r="1.0" fill="#6e2f2f"/>
<circle cx="214.08" cy="457.47" r="1.0" fill="#6e2f2f"/>
<circle cx="214.36" cy="458.88" r="1.0" fill="#6e2f2f"/>
<circle cx="214.29" cy="459.70" r="1.0" fill="#6e2f2f"/>
<circle cx="214.41" cy="461.20" r="1.0" fill="#6e2f2f"/>
<circle cx="194.33" cy="457.32" r="1.0" fill="#6e2f2f"/>
<circle cx="194.37" cy="460.96" r="1.0" fill="#6e2f2f"/>
<circle cx="218.08" cy="457.53" r="1.0" fill="#6e2f2f"/>
<circle cx="217.83" cy="460.96" r="1.0" fill="#6e2f2f"/>
<circle cx="198.94" cy="463.55" r="1.0" fill="#e040f0"/>
<circle cx="198.71" cy="465.69" r="1.0" fill="#e040f0"/>
<circle cx="198.95" cy="467.19" r="1.0" fill="#e040f0"/>
<circle cx="234.24" cy="463.43" r="1.0" fill="#e040f0"/>
<circle cx="234.07" cy="465.22" r="1.0" fill="#e040f0"/>
<circle cx="234.34" cy="467.43" r="1.0" fill="#e040f0"/>
<circle cx="174.40" cy="465.22" r="1.35" fill="#e040f0"/>
<circle cx="211.55" cy="463.73" r="1.0" fill="#e040f0"/>
<circle cx="211.89" cy="467.46" r="1.0" fill="#e040f0"/>
<circle cx="202.03" cy="463.66" r="1.0" fill="#e040f0"/>
<circle cx="202.24" cy="464.79" r="1.0" fill="#e040f0"/>
<circle cx="202.11" cy="465.89" r="1.0" fill="#e040f0"/>
<circle cx="202.24" cy="467.38" r="1.0" fill="#e040f0"/>
<circle cx="207.12" cy="463.31" r="1.0" fill="#e040f0"/>
<circle cx="207.15" cy="465.68" r="1.0" fill="#e040f0"/>
<circle cx="207.21" cy="467.11" r="1.0" fill="#e040f0"/>
<circle cx="213.16" cy="463.83" r="1.0" fill="#e040f0"/>
<circle cx="213.21" cy="465.56" r="1.0" fill="#e040f0"/>
<circle cx="213.24" cy="467.31" r="1.0" fill="#e040f0"/>
<circle cx="200.05" cy="463.73" r="1.0" fill="#e040f0"/>
<circle cx="200.17" cy="467.55" r="1.0" fill="#e040f0"/>
<circle cx="223.34" cy="463.76" r="1.0" fill="#e040f0"/>
<circle cx="223.25" cy="467.49" r="1.0" fill="#e040f0"/>
<circle cx="235.13" cy="474.27" r="1.0" fill="#2a7ee8"/>
<circle cx="235.07" cy="475.98" r="1.0" fill="#2a7ee8"/>
<circle cx="235.09" cy="477.93" r="1.0" fill="#2a7ee8"/>
<circle cx="248.15" cy="474.60" r="1.0" fill="#2a7ee8"/>
<circle cx="248.12" cy="476.26" r="1.0" fill="#2a7ee8"/>
<circle cx="248.19" cy="478.40" r="1.0" fill="#2a7ee8"/>
<circle cx="244.78" cy="474.12" r="1.0" fill="#2a7ee8"/>
<circle cx="244.90" cy="478.27" r="1.0" fill="#2a7ee8"/>
<circle cx="244.68" cy="474.67" r="1.0" fill="#2a7ee8"/>
<circle cx="244.80" cy="476.49" r="1.0" fill="#2a7ee8"/>
<circle cx="244.85" cy="478.33" r="1.0" fill="#2a7ee8"/>
<circle cx="243.17" cy="474.17" r="1.0" fill="#2a7ee8"/>
<circle cx="243.39" cy="475.98" r="1.0" fill="#2a7ee8"/>
<circle cx="243.15" cy="478.12" r="1.0" fill="#2a7ee8"/>
<circle cx="241.34" cy="474.63" r="1.0" fill="#2a7ee8"/>
<circle cx="241.36" cy="475.98" r="1.0" fill="#2a7ee8"/>
<circle cx="241.37" cy="477.89" r="1.0" fill="#2a7ee8"/>
<circle cx="236.95" cy="474.24" r="1.0" fill="#2a7ee8"/>
<circle cx="236.97" cy="478.14" r="1.0" fill="#2a7ee8"/>
<circle cx="247.14" cy="474.64" r="1.0" fill="#2a7ee8"/>
<circle cx="247.48" cy="477.89" r="1.0" fill="#2a7ee8"/>
<circle cx="238.83" cy="480.77" r="1.0" fill="#6e2f2f"/>
<circle cx="238.75" cy="482.15" r="1.0" fill="#6e2f2f"/>
<circle cx="238.52" cy="484.53" r="1.0" fill="#6e2f2f"/>
<circle cx="253.01" cy="480.45" r="1.0" fill="#6e2f2f"/>
<circle cx="253.07" cy="482.47" r="1.0" fill="#6e2f2f"/>
<circle cx="253.21" cy="484.29" r="1.0" fill="#6e2f2f"/>
<circle cx="243.23" cy="480.29" r="1.0" fill="#6e2f2f"/>
<circle cx="243.26" cy="484.08" r="1.0" fill="#6e2f2f"/>
<circle cx="241.95" cy="480.33" r="1.0" fill="#6e2f2f"/>
<circle cx="241.60" cy="484.52" r="1.0" fill="#6e2f2f"/>
<circle cx="239.69" cy="480.59" r="1.0" fill="#6e2f2f"/>
<circle cx="239.70" cy="484.20" r="1.0" fill="#6e2f2f"/>
<circle cx="240.22" cy="480.68" r="1.0" fill="#6e2f2f"/>
<circle cx="240.07" cy="482.37" r="1.0" fill="#6e2f2f"/>
<circle cx="240.04" cy="484.21" r="1.0" fill="#6e2f2f"/>
<circle cx="252.74" cy="480.62" r="1.0" fill="#6e2f2f"/>
<circle cx="252.49" cy="484.24" r="1.0" fill="#6e2f2f"/>
<circle cx="238.70" cy="486.71" r="1.0" fill="#e040f0"/>
<circle cx="238.67" cy="488.77" r="1.0" fill="#e040f0"/>
<circle cx="238.68" cy="490.62" r="1.0" fill="#e040f0"/>
<circle cx="263.21" cy="486.63" r="1.0" fill="#e040f0"/>
<circle cx="263.03" cy="488.76" r="1.0" fill="#e040f0"/>
<circle cx="263.17" cy="490.46" r="1.0" fill="#e040f0"/>
<circle cx="244.10" cy="487.01" r="1.0" fill="#e040f0"/>
<circle cx="244.08" cy="488.57" r="1.0" fill="#e040f0"/>
<circle cx="243.83" cy="490.68" r="1.0" fill="#e040f0"/>
<circle cx="247.44" cy="486.77" r="1.0" fill="#e040f0"/>
<circle cx="247.66" cy="488.21" r="1.0" fill="#e040f0"/>
<circle cx="247.71" cy="489.50" r="1.0" fill="#e040f0"/>
<circle cx="247.68" cy="490.60" r="1.0" fill="#e040f0"/>
<circle cx="251.62" cy="486.83" r="1.0" fill="#e040f0"/>
<circle cx="251.58" cy="488.70" r="1.0" fill="#e040f0"/>
<circle cx="251.88" cy="490.29" r="1.0" fill="#e040f0"/>
<circle cx="249.71" cy="486.51" r="1.0" fill="#e040f0"/>
<circle cx="250.03" cy="490.26" r="1.0" fill="#e040f0"/>
<circle cx="240.32" cy="486.59" r="1.0" fill="#e040f0"/>
<circle cx="240.36" cy="490.71" r="1.0" fill="#e040f0"/>
<circle cx="258.38" cy="486.99" r="1.0" fill="#e040f0"/>
<circle cx="258.49" cy="490.71" r="1.0" fill="#e040f0"/>
<circle cx="203.23" cy="497.37" r="1.0" fill="#2a7ee8"/>
<circle cx="203.43" cy="499.53" r="1.0" fill="#2a7ee8"/>
<circle cx="203.17" cy="501.19" r="1.0" fill="#2a7ee8"/>
<circle cx="250.25" cy="497.48" r="1.0" fill="#2a7ee8"/>
<circle cx="250.16" cy="499.64" r="1.0" fill="#2a7ee8"/>
<circle cx="250.16" cy="501.27" r="1.0" fill="#2a7ee8"/>
<circle cx="238.42" cy="497.54" r="1.0" fill="#2a7ee8"/>
<circle cx="238.46" cy="501.10" r="1.0" fill="#2a7ee8"/>
<circle cx="228.43" cy="497.91" r="1.0" fill="#2a7ee8"/>
<circle cx="228.33" cy="499.02" r="1.0" fill="#2a7ee8"/>
<circle cx="228.57" cy="500.22" r="1.0" fill="#2a7ee8"/>
<circle cx="228.47" cy="501.45" r="1.0" fill="#2a7ee8"/>
<circle cx="237.27" cy="497.62" r="1.0" fill="#2a7ee8"/>
<circle cx="237.07" cy="499.11" r="1.0" fill="#2a7ee8"/>
<circle cx="237.31" cy="499.86" r="1.0" fill="#2a7ee8"/>
<circle cx="237.22" cy="501.60" r="1.0" fill="#2a7ee8"/>
<circle cx="232.27" cy="497.59" r="1.0" fill="#2a7ee8"/>
<circle cx="232.09" cy="498.68" r="1.0" fill="#2a7ee8"/>
<circle cx="232.22" cy="499.93" r="1.0" fill="#2a7ee8"/>
<circle cx="232.08" cy="501.24" r="1.0" fill="#2a7ee8"/>
<circle cx="221.83" cy="497.74" r="1.0" fill="#2a7ee8"/>
<circle cx="221.73" cy="501.22" r="1.0" fill="#2a7ee8"/>
<circle cx="250.08" cy="497.58" r="1.0" fill="#2a7ee8"/>
<circle cx="249.85" cy="501.40" r="1.0" fill="#2a7ee8"/>
<circle cx="233.08" cy="503.78" r="1.0" fill="#6e2f2f"/>
<circle cx="232.88" cy="505.80" r="1.0" fill="#6e2f2f"/>
<circle cx="233.16" cy="507.59" r="1.0" fill="#6e2f2f"/>
<circle cx="260.11" cy="503.92" r="1.0" fill="#6e2f2f"/>
<circle cx="260.13" cy="505.98" r="1.0" fill="#6e2f2f"/>
<circle cx="260.41" cy="507.81" r="1.0" fill="#6e2f2f"/>
<circle cx="240.86" cy="504.05" r="1.0" fill="#6e2f2f"/>
<circle cx="241.20" cy="507.79" r="1.0" fill="#6e2f2f"/>
<circle cx="242.14" cy="503.91" r="1.0" fill="#6e2f2f"/>
<circle cx="241.91" cy="505.42" r="1.0" fill="#6e2f2f"/>
<circle cx="242.18" cy="507.39" r="1.0" fill="#6e2f2f"/>
<circle cx="240.57" cy="503.99" r="1.0" fill="#6e2f2f"/>
<circle cx="240.78" cy="505.14" r="1.0" fill="#6e2f2f"/>
<circle cx="240.89" cy="506.02" r="1.0" fill="#6e2f2f"/>
<circle cx="240.53" cy="507.34" r="1.0" fill="#6e2f2f"/>
<circle cx="243.67" cy="503.63" r="1.0" fill="#6e2f2f"/>
<circle cx="243.68" cy="505.86" r="1.0" fill="#6e2f2f"/>
<circle cx="243.99" cy="507.40" r="1.0" fill="#6e2f2f"/>
<circle cx="234.81" cy="503.55" r="1.0" fill="#6e2f2f"/>
<circle cx="234.77" cy="507.68" r="1.0" fill="#6e2f2f"/>
<circle cx="259.69" cy="503.54" r="1.0" fill="#6e2f2f"/>
<circle cx="259.59" cy="507.47" r="1.0" fill="#6e2f2f"/>
<circle cx="228.21" cy="509.98" r="1.0" fill="#e040f0"/>
<circle cx="228.21" cy="511.73" r="1.0" fill="#e040f0"/>
<circle cx="228.27" cy="513.86" r="1.0" fill="#e040f0"/>
<circle cx="261.98" cy="509.94" r="1.0" fill="#e040f0"/>
<circle cx="262.07" cy="511.98" r="1.0" fill="#e040f0"/>
<circle cx="262.13" cy="514.00" r="1.0" fill="#e040f0"/>
<circle cx="249.69" cy="509.78" r="1.0" fill="#e040f0"/>
<circle cx="249.54" cy="511.16" r="1.0" fill="#e040f0"/>
<circle cx="249.58" cy="512.51" r="1.0" fill="#e040f0"/>
<circle cx="249.34" cy="513.74" r="1.0" fill="#e040f0"/>
<circle cx="253.62" cy="509.90" r="1.0" fill="#e040f0"/>
<circle cx="253.58" cy="512.02" r="1.0" fill="#e040f0"/>
<circle cx="253.38" cy="513.88" r="1.0" fill="#e040f0"/>
<circle cx="242.99" cy="509.94" r="1.0" fill="#e040f0"/>
<circle cx="242.66" cy="511.85" r="1.0" fill="#e040f0"/>
<circle cx="242.99" cy="513.77" r="1.0" fill="#e040f0"/>
<circle cx="242.80" cy="510.11" r="1.0" fill="#e040f0"/>
<circle cx="242.66" cy="511.83" r="1.0" fill="#e040f0"/>
<circle cx="242.73" cy="513.55" r="1.0" fill="#e040f0"/>
<circle cx="229.27" cy="510.19" r="1.0" fill="#e040f0"/>
<circle cx="229.06" cy="513.50" r="1.0" fill="#e040f0"/>
<circle cx="257.55" cy="510.05" r="1.0" fill="#e040f0"/>
<circle cx="257.36" cy="513.67" r="1.0" fill="#e040f0"/>
<circle cx="243.02" cy="520.80" r="1.0" fill="#2a7ee8"/>
<circle cx="242.94" cy="522.88" r="1.0" fill="#2a7ee8"/>
<circle cx="242.84" cy="524.79" r="1.0" fill="#2a7ee8"/>
<circle cx="259.04" cy="520.72" r="1.0" fill="#2a7ee8"/>
<circle cx="259.31" cy="522.49" r="1.0" fill="#2a7ee8"/>
<circle cx="259.07" cy="524.72" r="1.0" fill="#2a7ee8"/>
<circle cx="250.02" cy="520.68" r="1.0" fill="#2a7ee8"/>
<circle cx="250.18" cy="524.73" r="1.0" fill="#2a7ee8"/>
<circle cx="254.42" cy="521.01" r="1.0" fill="#2a7ee8"/>
<circle cx="254.34" cy="524.37" r="1.0" fill="#2a7ee8"/>
<circle cx="251.56" cy="520.68" r="1.0" fill="#2a7ee8"/>
<circle cx="251.43" cy="522.76" r="1.0" fill="#2a7ee8"/>
<circle cx="251.66" cy="524.43" r="1.0" fill="#2a7ee8"/>
<circle cx="250.00" cy="520.58" r="1.0" fill="#2a7ee8"/>
<circle cx="250.06" cy="522.34" r="1.0" fill="#2a7ee8"/>
<circle cx="249.90" cy="523.27" r="1.0" fill="#2a7ee8"/>
<circle cx="249.93" cy="524.63" r="1.0" fill="#2a7ee8"/>
<circle cx="244.88" cy="521.15" r="1.0" fill="#2a7ee8"/>
<circle cx="244.95" cy="524.46" r="1.0" fill="#2a7ee8"/>
<circle cx="256.64" cy="520.85" r="1.0" fill="#2a7ee8"/>
<circle cx="256.40" cy="524.72" r="1.0" fill="#2a7ee8"/>
<circle cx="241.78" cy="527.31" r="1.0" fill="#6e2f2f"/>
<circle cx="241.51" cy="528.68" r="1.0" fill="#6e2f2f"/>
<circle cx="241.46" cy="530.87" r="1.0" fill="#6e2f2f"/>
<circle cx="260.14" cy="527.04" r="1.0" fill="#6e2f2f"/>
<circle cx="260.11" cy="529.17" r="1.0" fill="#6e2f2f"/>
<circle cx="260.30" cy="530.85" r="1.0" fill="#6e2f2f"/>
<circle cx="253.83" cy="527.06" r="1.0" fill="#6e2f2f"/>
<circle cx="253.96" cy="528.20" r="1.0" fill="#6e2f2f"/>
<circle cx="254.10" cy="529.44" r="1.0" fill="#6e2f2f"/>
<circle cx="254.16" cy="530.52" r="1.0" fill="#6e2f2f"/>
<circle cx="249.22" cy="527.22" r="1.0" fill="#6e2f2f"/>
<circle cx="249.61" cy="530.52" r="1.0" fill="#6e2f2f"/>
<circle cx="251.79" cy="527.36" r="1.0" fill="#6e2f2f"/>
<circle cx="251.78" cy="528.65" r="1.0" fill="#6e2f2f"/>
<circle cx="251.79" cy="530.89" r="1.0" fill="#6e2f2f"/>
<circle cx="249.23" cy="526.95" r="1.0" fill="#6e2f2f"/>
<circle cx="249.25" cy="528.24" r="1.0" fill="#6e2f2f"/>
<circle cx="249.07" cy="529.66" r="1.0" fill="#6e2f2f"/>
<circle cx="248.94" cy="530.76" r="1.0" fill="#6e2f2f"/>
<circle cx="242.71" cy="527.27" r="1.0" fill="#6e2f2f"/>
<circle cx="242.64" cy="530.77" r="1.0" fill="#6e2f2f"/>
<circle cx="259.57" cy="527.03" r="1.0" fill="#6e2f2f"/>
<circle cx="259.48" cy="530.74" r="1.0" fill="#6e2f2f"/>
<circle cx="244.45" cy="533.11" r="1.0" fill="#e040f0"/>
<circle cx="244.51" cy="535.33" r="1.0" fill="#e040f0"/>
<circle cx="244.31" cy="536.77" r="1.0" fill="#e040f0"/>
<circle cx="258.90" cy="533.30" r="1.0" fill="#e040f0"/>
<circle cx="258.76" cy="535.19" r="1.0" fill="#e040f0"/>
<circle cx="258.88" cy="537.04" r="1.0" fill="#e040f0"/>
<circle cx="269.70" cy="534.86" r="1.35" fill="#e040f0"/>
<circle cx="249.03" cy="533.46" r="1.0" fill="#e040f0"/>
<circle cx="248.88" cy="535.00" r="1.0" fill="#e040f0"/>
<circle cx="248.96" cy="537.10" r="1.0" fill="#e040f0"/>
<circle cx="251.44" cy="532.98" r="1.0" fill="#e040f0"/>
<circle cx="251.60" cy="535.36" r="1.0" fill="#e040f0"/>
<circle cx="251.40" cy="536.82" r="1.0" fill="#e040f0"/>
<circle cx="251.96" cy="533.07" r="1.0" fill="#e040f0"/>
<circle cx="252.19" cy="534.88" r="1.0" fill="#e040f0"/>
<circle cx="252.15" cy="537.03" r="1.0" fill="#e040f0"/>
<circle cx="253.29" cy="533.13" r="1.0" fill="#e040f0"/>
<circle cx="253.21" cy="537.24" r="1.0" fill="#e040f0"/>
<circle cx="248.67" cy="533.53" r="1.0" fill="#e040f0"/>
<circle cx="248.48" cy="537.01" r="1.0" fill="#e040f0"/>
<circle cx="258.53" cy="533.16" r="1.0" fill="#e040f0"/>
<circle cx="258.15" cy="536.86" r="1.0" fill="#e040f0"/>
<circle cx="285.98" cy="543.78" r="1.0" fill="#2a7ee8"/>
<circle cx="286.03" cy="544.88" r="1.0" fill="#2a7ee8"/>
<circle cx="286.20" cy="546.19" r="1.0" fill="#2a7ee8"/>
<circle cx="286.09" cy="546.94" r="1.0" fill="#2a7ee8"/>
<circle cx="286.16" cy="548.03" r="1.0" fill="#2a7ee8"/>
<circle cx="297.50" cy="543.72" r="1.0" fill="#2a7ee8"/>
<circle cx="297.36" cy="544.95" r="1.0" fill="#2a7ee8"/>
<circle cx="297.27" cy="546.22" r="1.0" fill="#2a7ee8"/>
<circle cx="297.40" cy="546.99" r="1.0" fill="#2a7ee8"/>
<circle cx="297.41" cy="548.15" r="1.0" fill="#2a7ee8"/>
<circle cx="292.80" cy="543.95" r="1.0" fill="#2a7ee8"/>
<circle cx="292.98" cy="545.07" r="1.0" fill="#2a7ee8"/>
<circle cx="293.01" cy="545.89" r="1.0" fill="#2a7ee8"/>
<circle cx="292.71" cy="546.95" r="1.0" fill="#2a7ee8"/>
<circle cx="292.81" cy="548.30" r="1.0" fill="#2a7ee8"/>
<circle cx="294.05" cy="543.75" r="1.0" fill="#2a7ee8"/>
<circle cx="294.09" cy="544.78" r="1.0" fill="#2a7ee8"/>
<circle cx="294.07" cy="545.96" r="1.0" fill="#2a7ee8"/>
<circle cx="294.04" cy="547.29" r="1.0" fill="#2a7ee8"/>
<circle cx="293.78" cy="548.39" r="1.0" fill="#2a7ee8"/>
<circle cx="290.56" cy="543.59" r="1.0" fill="#2a7ee8"/>
<circle cx="290.29" cy="545.06" r="1.0" fill="#2a7ee8"/>
<circle cx="290.52" cy="546.07" r="1.0" fill="#2a7ee8"/>
<circle cx="290.49" cy="546.93" r="1.0" fill="#2a7ee8"/>
<circle cx="290.28" cy="548.30" r="1.0" fill="#2a7ee8"/>
<circle cx="290.17" cy="543.85" r="1.0" fill="#2a7ee8"/>
<circle cx="290.50" cy="544.85" r="1.0" fill="#2a7ee8"/>
<circle cx="290.55" cy="546.04" r="1.0" fill="#2a7ee8"/>
<circle cx="290.23" cy="546.74" r="1.0" fill="#2a7ee8"/>
<circle cx="290.52" cy="548.30" r="1.0" fill="#2a7ee8"/>
<circle cx="287.84" cy="543.69" r="1.0" fill="#2a7ee8"/>
<circle cx="288.04" cy="544.84" r="1.0" fill="#2a7ee8"/>
<circle cx="287.99" cy="545.78" r="1.0" fill="#2a7ee8"/>
<circle cx="288.09" cy="547.33" r="1.0" fill="#2a7ee8"/>
<circle cx="288.11" cy="547.91" r="1.0" fill="#2a7ee8"/>
<circle cx="286.21" cy="548.35" r="1.0" fill="#6e2f2f"/>
<circle cx="286.15" cy="550.12" r="1.0" fill="#6e2f2f"/>
<circle cx="286.22" cy="551.87" r="1.0" fill="#6e2f2f"/>
<circle cx="286.24" cy="554.22" r="1.0" fill="#6e2f2f"/>
<circle cx="286.28" cy="555.94" r="1.0" fill="#6e2f2f"/>
<circle cx="295.44" cy="547.98" r="1.0" fill="#6e2f2f"/>
<circle cx="295.73" cy="550.08" r="1.0" fill="#6e2f2f"/>
<circle cx="295.44" cy="552.26" r="1.0" fill="#6e2f2f"/>
<circle cx="295.67" cy="554.15" r="1.0" fill="#6e2f2f"/>
<circle cx="295.56" cy="556.30" r="1.0" fill="#6e2f2f"/>
<circle cx="290.47" cy="548.22" r="1.0" fill="#6e2f2f"/>
<circle cx="290.54" cy="550.01" r="1.0" fill="#6e2f2f"/>
<circle cx="290.31" cy="552.12" r="1.0" fill="#6e2f2f"/>
<circle cx="290.16" cy="553.93" r="1.0" fill="#6e2f2f"/>
<circle cx="290.42" cy="556.06" r="1.0" fill="#6e2f2f"/>
<circle cx="295.28" cy="548.03" r="1.0" fill="#6e2f2f"/>
<circle cx="295.58" cy="550.29" r="1.0" fill="#6e2f2f"/>
<circle cx="295.35" cy="552.26" r="1.0" fill="#6e2f2f"/>
<circle cx="295.23" cy="554.33" r="1.0" fill="#6e2f2f"/>
<circle cx="295.31" cy="556.19" r="1.0" fill="#6e2f2f"/>
<circle cx="294.54" cy="548.33" r="1.0" fill="#6e2f2f"/>
<circle cx="294.70" cy="549.98" r="1.0" fill="#6e2f2f"/>
<circle cx="294.65" cy="552.00" r="1.0" fill="#6e2f2f"/>
<circle cx="294.60" cy="554.31" r="1.0" fill="#6e2f2f"/>
<circle cx="294.87" cy="556.01" r="1.0" fill="#6e2f2f"/>
<circle cx="292.16" cy="548.26" r="1.0" fill="#6e2f2f"/>
<circle cx="292.32" cy="550.26" r="1.0" fill="#6e2f2f"/>
<circle cx="292.05" cy="552.07" r="1.0" fill="#6e2f2f"/>
<circle cx="292.14" cy="554.24" r="1.0" fill="#6e2f2f"/>
<circle cx="292.37" cy="556.41" r="1.0" fill="#6e2f2f"/>
<circle cx="287.28" cy="548.10" r="1.0" fill="#6e2f2f"/>
<circle cx="287.43" cy="549.86" r="1.0" fill="#6e2f2f"/>
<circle cx="287.41" cy="551.86" r="1.0" fill="#6e2f2f"/>
<circle cx="287.11" cy="553.88" r="1.0" fill="#6e2f2f"/>
<circle cx="287.07" cy="556.18" r="1.0" fill="#6e2f2f"/>
<circle cx="285.96" cy="556.99" r="1.0" fill="#e040f0"/>
<circle cx="286.26" cy="558.80" r="1.0" fill="#e040f0"/>
<circle cx="285.98" cy="560.81" r="1.0" fill="#e040f0"/>
<circle cx="286.22" cy="562.85" r="1.0" fill="#e040f0"/>
<circle cx="286.05" cy="564.74" r="1.0" fill="#e040f0"/>
<circle cx="295.65" cy="557.00" r="1.0" fill="#e040f0"/>
<circle cx="295.57" cy="559.10" r="1.0" fill="#e040f0"/>
<circle cx="295.59" cy="561.11" r="1.0" fill="#e040f0"/>
<circle cx="295.49" cy="563.16" r="1.0" fill="#e040f0"/>
<circle cx="295.52" cy="565.15" r="1.0" fill="#e040f0"/>
<circle cx="292.43" cy="556.54" r="1.0" fill="#e040f0"/>
<circle cx="292.62" cy="558.75" r="1.0" fill="#e040f0"/>
<circle cx="292.66" cy="560.99" r="1.0" fill="#e040f0"/>
<circle cx="292.29" cy="562.87" r="1.0" fill="#e040f0"/>
<circle cx="292.35" cy="564.95" r="1.0" fill="#e040f0"/>
<circle cx="294.28" cy="556.53" r="1.0" fill="#e040f0"/>
<circle cx="294.29" cy="558.53" r="1.0" fill="#e040f0"/>
<circle cx="294.04" cy="561.02" r="1.0" fill="#e040f0"/>
<circle cx="294.04" cy="563.14" r="1.0" fill="#e040f0"/>
<circle cx="294.09" cy="564.90" r="1.0" fill="#e040f0"/>
<circle cx="292.51" cy="556.66" r="1.0" fill="#e040f0"/>
<circle cx="292.74" cy="559.07" r="1.0" fill="#e040f0"/>
<circle cx="292.73" cy="560.91" r="1.0" fill="#e040f0"/>
<circle cx="292.51" cy="562.83" r="1.0" fill="#e040f0"/>
<circle cx="292.60" cy="564.98" r="1.0" fill="#e040f0"/>
<circle cx="291.67" cy="556.95" r="1.0" fill="#e040f0"/>
<circle cx="291.55" cy="558.55" r="1.0" fill="#e040f0"/>
<circle cx="291.60" cy="561.14" r="1.0" fill="#e040f0"/>
<circle cx="291.76" cy="563.02" r="1.0" fill="#e040f0"/>
<circle cx="291.83" cy="565.14" r="1.0" fill="#e040f0"/>
<circle cx="286.77" cy="557.02" r="1.0" fill="#e040f0"/>
<circle cx="286.74" cy="558.98" r="1.0" fill="#e040f0"/>
<circle cx="286.61" cy="560.63" r="1.0" fill="#e040f0"/>
<circle cx="286.80" cy="562.59" r="1.0" fill="#e040f0"/>
<circle cx="286.93" cy="564.61" r="1.0" fill="#e040f0"/>
<circle cx="226.83" cy="567.11" r="1.0" fill="#2a7ee8"/>
<circle cx="226.81" cy="568.95" r="1.0" fill="#2a7ee8"/>
<circle cx="226.61" cy="571.01" r="1.0" fill="#2a7ee8"/>
<circle cx="246.01" cy="567.18" r="1.0" fill="#2a7ee8"/>
<circle cx="246.13" cy="569.21" r="1.0" fill="#2a7ee8"/>
<circle cx="245.92" cy="570.83" r="1.0" fill="#2a7ee8"/>
<circle cx="217.30" cy="569.18" r="1.35" fill="#2a7ee8"/>
<circle cx="234.11" cy="567.17" r="1.0" fill="#2a7ee8"/>
<circle cx="234.04" cy="568.62" r="1.0" fill="#2a7ee8"/>
<circle cx="234.17" cy="569.70" r="1.0" fill="#2a7ee8"/>
<circle cx="233.98" cy="570.82" r="1.0" fill="#2a7ee8"/>
<circle cx="235.63" cy="567.50" r="1.0" fill="#2a7ee8"/>
<circle cx="235.50" cy="568.43" r="1.0" fill="#2a7ee8"/>
<circle cx="235.34" cy="569.55" r="1.0" fill="#2a7ee8"/>
<circle cx="235.63" cy="571.04" r="1.0" fill="#2a7ee8"/>
<circle cx="234.48" cy="567.53" r="1.0" fill="#2a7ee8"/>
<circle cx="234.44" cy="569.07" r="1.0" fill="#2a7ee8"/>
<circle cx="234.68" cy="571.14" r="1.0" fill="#2a7ee8"/>
<circle cx="234.34" cy="567.27" r="1.0" fill="#2a7ee8"/>
<circle cx="234.34" cy="570.87" r="1.0" fill="#2a7ee8"/>
<circle cx="228.01" cy="567.22" r="1.0" fill="#2a7ee8"/>
<circle cx="227.78" cy="571.08" r="1.0" fill="#2a7ee8"/>
<circle cx="238.38" cy="567.28" r="1.0" fill="#2a7ee8"/>
<circle cx="238.41" cy="571.29" r="1.0" fill="#2a7ee8"/>
<circle cx="229.68" cy="573.75" r="1.0" fill="#6e2f2f"/>
<circle cx="229.58" cy="575.67" r="1.0" fill="#6e2f2f"/>
<circle cx="229.69" cy="577.20" r="1.0" fill="#6e2f2f"/>
<circle cx="247.52" cy="573.50" r="1.0" fill="#6e2f2f"/>
<circle cx="247.47" cy="575.42" r="1.0" fill="#6e2f2f"/>
<circle cx="247.47" cy="577.23" r="1.0" fill="#6e2f2f"/>
<circle cx="242.02" cy="573.31" r="1.0" fill="#6e2f2f"/>
<circle cx="241.93" cy="574.88" r="1.0" fill="#6e2f2f"/>
<circle cx="241.74" cy="575.94" r="1.0" fill="#6e2f2f"/>
<circle cx="241.81" cy="577.18" r="1.0" fill="#6e2f2f"/>
<circle cx="230.46" cy="573.60" r="1.0" fill="#6e2f2f"/>
<circle cx="230.39" cy="574.85" r="1.0" fill="#6e2f2f"/>
<circle cx="230.54" cy="575.79" r="1.0" fill="#6e2f2f"/>
<circle cx="230.42" cy="577.03" r="1.0" fill="#6e2f2f"/>
<circle cx="230.97" cy="573.69" r="1.0" fill="#6e2f2f"/>
<circle cx="230.81" cy="574.57" r="1.0" fill="#6e2f2f"/>
<circle cx="230.84" cy="575.77" r="1.0" fill="#6e2f2f"/>
<circle cx="230.95" cy="577.12" r="1.0" fill="#6e2f2f"/>
<circle cx="240.44" cy="573.79" r="1.0" fill="#6e2f2f"/>
<circle cx="240.20" cy="575.02" r="1.0" fill="#6e2f2f"/>
<circle cx="240.25" cy="575.93" r="1.0" fill="#6e2f2f"/>
<circle cx="240.22" cy="577.23" r="1.0" fill="#6e2f2f"/>
<circle cx="246.94" cy="573.55" r="1.0" fill="#6e2f2f"/>
<circle cx="246.92" cy="577.00" r="1.0" fill="#6e2f2f"/>
<circle cx="234.46" cy="579.60" r="1.0" fill="#e040f0"/>
<circle cx="234.55" cy="581.55" r="1.0" fill="#e040f0"/>
<circle cx="234.52" cy="583.59" r="1.0" fill="#e040f0"/>
<circle cx="246.20" cy="579.87" r="1.0" fill="#e040f0"/>
<circle cx="246.24" cy="581.46" r="1.0" fill="#e040f0"/>
<circle cx="246.03" cy="583.71" r="1.0" fill="#e040f0"/>
<circle cx="225.20" cy="581.85" r="1.35" fill="#e040f0"/>
<circle cx="257.60" cy="581.28" r="1.35" fill="#e040f0"/>
<circle cx="238.87" cy="579.78" r="1.0" fill="#e040f0"/>
<circle cx="238.91" cy="581.03" r="1.0" fill="#e040f0"/>
<circle cx="238.91" cy="582.24" r="1.0" fill="#e040f0"/>
<circle cx="239.00" cy="583.21" r="1.0" fill="#e040f0"/>
<circle cx="237.80" cy="579.76" r="1.0" fill="#e040f0"/>
<circle cx="237.76" cy="581.08" r="1.0" fill="#e040f0"/>
<circle cx="237.88" cy="582.18" r="1.0" fill="#e040f0"/>
<circle cx="237.88" cy="583.33" r="1.0" fill="#e040f0"/>
<circle cx="242.61" cy="579.55" r="1.0" fill="#e040f0"/>
<circle cx="242.68" cy="581.62" r="1.0" fill="#e040f0"/>
<circle cx="242.71" cy="583.49" r="1.0" fill="#e040f0"/>
<circle cx="240.04" cy="579.88" r="1.0" fill="#e040f0"/>
<circle cx="240.02" cy="581.49" r="1.0" fill="#e040f0"/>
<circle cx="240.14" cy="583.34" r="1.0" fill="#e040f0"/>
<circle cx="245.00" cy="579.60" r="1.0" fill="#e040f0"/>
<circle cx="245.02" cy="583.50" r="1.0" fill="#e040f0"/>
<rect x="162.50" y="447.60" width="140.60" height="139.40" fill="none" stroke="#262626" stroke-width="0.9"/>
<line x1="160.00" y1="459.22" x2="162.50" y2="459.22" stroke="#262626" stroke-width="0.9"/>
<text x="158.20" y="461.82" font-size="7.4" text-anchor="end" fill="#000" textLength="30.90" lengthAdjust="spacingAndGlyphs">Ampicillin</text>
<line x1="160.00" y1="482.45" x2="162.50" y2="482.45" stroke="#262626" stroke-width="0.9"/>
<text x="158.20" y="485.05" font-size="7.4" text-anchor="end" fill="#000" textLength="28.90" lengthAdjust="spacingAndGlyphs">Cefazolin</text>
<line x1="160.00" y1="505.68" x2="162.50" y2="505.68" stroke="#262626" stroke-width="0.9"/>
<text x="158.20" y="508.28" font-size="7.4" text-anchor="end" fill="#000" textLength="41.00" lengthAdjust="spacingAndGlyphs">Ciprofloxacin</text>
<line x1="160.00" y1="528.92" x2="162.50" y2="528.92" stroke="#262626" stroke-width="0.9"/>
<text x="158.20" y="531.52" font-size="7.4" text-anchor="end" fill="#000" textLength="44.00" lengthAdjust="spacingAndGlyphs">Nitrofurantoin</text>
<line x1="160.00" y1="552.15" x2="162.50" y2="552.15" stroke="#262626" stroke-width="0.9"/>
<text x="158.20" y="554.75" font-size="7.4" text-anchor="end" fill="#000" textLength="75.00" lengthAdjust="spacingAndGlyphs">Piperacillin_Tazobactam</text>
<line x1="160.00" y1="575.38" x2="162.50" y2="575.38" stroke="#262626" stroke-width="0.9"/>
<text x="158.20" y="577.98" font-size="7.4" text-anchor="end" fill="#000" textLength="101.10" lengthAdjust="spacingAndGlyphs">Trimethoprim_Sulfamethoxazole</text>
<line x1="166.60" y1="587.00" x2="166.60" y2="589.50" stroke="#262626" stroke-width="0.9"/>
<text x="166.60" y="596.40" font-size="7.3" text-anchor="middle" fill="#000" textLength="10.10" lengthAdjust="spacingAndGlyphs">0.4</text>
<line x1="188.72" y1="587.00" x2="188.72" y2="589.50" stroke="#262626" stroke-width="0.9"/>
<text x="188.72" y="596.40" font-size="7.3" text-anchor="middle" fill="#000" textLength="10.10" lengthAdjust="spacingAndGlyphs">0.5</text>
<line x1="210.84" y1="587.00" x2="210.84" y2="589.50" stroke="#262626" stroke-width="0.9"/>
<text x="210.84" y="596.40" font-size="7.3" text-anchor="middle" fill="#000" textLength="10.10" lengthAdjust="spacingAndGlyphs">0.6</text>
<line x1="232.96" y1="587.00" x2="232.96" y2="589.50" stroke="#262626" stroke-width="0.9"/>
<text x="232.96" y="596.40" font-size="7.3" text-anchor="middle" fill="#000" textLength="10.10" lengthAdjust="spacingAndGlyphs">0.7</text>
<line x1="255.08" y1="587.00" x2="255.08" y2="589.50" stroke="#262626" stroke-width="0.9"/>
<text x="255.08" y="596.40" font-size="7.3" text-anchor="middle" fill="#000" textLength="10.10" lengthAdjust="spacingAndGlyphs">0.8</text>
<line x1="277.20" y1="587.00" x2="277.20" y2="589.50" stroke="#262626" stroke-width="0.9"/>
<text x="277.20" y="596.40" font-size="7.3" text-anchor="middle" fill="#000" textLength="10.10" lengthAdjust="spacingAndGlyphs">0.9</text>
<line x1="299.32" y1="587.00" x2="299.32" y2="589.50" stroke="#262626" stroke-width="0.9"/>
<text x="299.32" y="596.40" font-size="7.3" text-anchor="middle" fill="#000" textLength="10.10" lengthAdjust="spacingAndGlyphs">1.0</text>
<text x="232.50" y="605.00" font-size="7.3" text-anchor="middle" fill="#000" textLength="39.00" lengthAdjust="spacingAndGlyphs">F1 Weighted</text>
<text x="217.70" y="439.00" font-size="9.5" text-anchor="start" fill="#000" textLength="42.10" lengthAdjust="spacingAndGlyphs">Simulation</text>
<line x1="378.30" y1="453.03" x2="380.70" y2="453.03" stroke="#6e6e6e" stroke-width="0.9"/>
<line x1="380.70" y1="451.48" x2="380.70" y2="454.58" stroke="#6e6e6e" stroke-width="0.9"/>
<rect x="371.80" y="449.93" width="6.50" height="6.20" fill="#2f86e0" stroke="#5a5a5a" stroke-width="0.8"/>
<line x1="375.00" y1="449.93" x2="375.00" y2="456.13" stroke="#5a5a5a" stroke-width="0.8"/>
<line x1="368.60" y1="459.23" x2="377.30" y2="459.23" stroke="#6e6e6e" stroke-width="0.9"/>
<line x1="368.60" y1="457.68" x2="368.60" y2="460.78" stroke="#6e6e6e" stroke-width="0.9"/>
<line x1="392.70" y1="459.23" x2="399.50" y2="459.23" stroke="#6e6e6e" stroke-width="0.9"/>
<line x1="399.50" y1="457.68" x2="399.50" y2="460.78" stroke="#6e6e6e" stroke-width="0.9"/>
<rect x="377.30" y="456.13" width="15.40" height="6.20" fill="#7b4a4a" stroke="#5a5a5a" stroke-width="0.8"/>
<line x1="382.60" y1="456.13" x2="382.60" y2="462.34" stroke="#5a5a5a" stroke-width="0.8"/>
<line x1="375.00" y1="465.44" x2="377.60" y2="465.44" stroke="#6e6e6e" stroke-width="0.9"/>
<line x1="375.00" y1="463.89" x2="375.00" y2="466.99" stroke="#6e6e6e" stroke-width="0.9"/>
<line x1="393.40" y1="465.44" x2="408.50" y2="465.44" stroke="#6e6e6e" stroke-width="0.9"/>
<line x1="408.50" y1="463.89" x2="408.50" y2="466.99" stroke="#6e6e6e" stroke-width="0.9"/>
<rect x="377.60" y="462.34" width="15.80" height="6.20" fill="#e070f0" stroke="#5a5a5a" stroke-width="0.8"/>
<line x1="390.50" y1="462.34" x2="390.50" y2="468.54" stroke="#5a5a5a" stroke-width="0.8"/>
<line x1="412.80" y1="476.30" x2="415.20" y2="476.30" stroke="#6e6e6e" stroke-width="0.9"/>
<line x1="412.80" y1="474.74" x2="412.80" y2="477.85" stroke="#6e6e6e" stroke-width="0.9"/>
<line x1="419.50" y1="476.30" x2="421.40" y2="476.30" stroke="#6e6e6e" stroke-width="0.9"/>
<line x1="421.40" y1="474.74" x2="421.40" y2="477.85" stroke="#6e6e6e" stroke-width="0.9"/>
<rect x="415.20" y="473.19" width="4.30" height="6.20" fill="#2f86e0" stroke="#5a5a5a" stroke-width="0.8"/>
<line x1="417.50" y1="473.19" x2="417.50" y2="479.40" stroke="#5a5a5a" stroke-width="0.8"/>
<line x1="421.00" y1="482.50" x2="426.00" y2="482.50" stroke="#6e6e6e" stroke-width="0.9"/>
<line x1="426.00" y1="480.95" x2="426.00" y2="484.05" stroke="#6e6e6e" stroke-width="0.9"/>
<rect x="413.00" y="479.40" width="8.00" height="6.20" fill="#7b4a4a" stroke="#5a5a5a" stroke-width="0.8"/>
<line x1="417.00" y1="479.40" x2="417.00" y2="485.60" stroke="#5a5a5a" stroke-width="0.8"/>
<line x1="413.00" y1="488.70" x2="416.00" y2="488.70" stroke="#6e6e6e" stroke-width="0.9"/>
<line x1="413.00" y1="487.15" x2="413.00" y2="490.26" stroke="#6e6e6e" stroke-width="0.9"/>
<line x1="427.50" y1="488.70" x2="436.10" y2="488.70" stroke="#6e6e6e" stroke-width="0.9"/>
<line x1="436.10" y1="487.15" x2="436.10" y2="490.26" stroke="#6e6e6e" stroke-width="0.9"/>
<rect x="416.00" y="485.60" width="11.50" height="6.20" fill="#e070f0" stroke="#5a5a5a" stroke-width="0.8"/>
<line x1="421.00" y1="485.60" x2="421.00" y2="491.81" stroke="#5a5a5a" stroke-width="0.8"/>
<line x1="401.50" y1="499.56" x2="405.10" y2="499.56" stroke="#6e6e6e" stroke-width="0.9"/>
<line x1="401.50" y1="498.01" x2="401.50" y2="501.11" stroke="#6e6e6e" stroke-width="0.9"/>
<line x1="411.60" y1="499.56" x2="417.40" y2="499.56" stroke="#6e6e6e" stroke-width="0.9"/>
<line x1="417.40" y1="498.01" x2="417.40" y2="501.11" stroke="#6e6e6e" stroke-width="0.9"/>
<rect x="405.10" y="496.46" width="6.50" height="6.20" fill="#2f86e0" stroke="#5a5a5a" stroke-width="0.8"/>
<line x1="408.00" y1="496.46" x2="408.00" y2="502.66" stroke="#5a5a5a" stroke-width="0.8"/>
<line x1="407.30" y1="505.77" x2="411.60" y2="505.77" stroke="#6e6e6e" stroke-width="0.9"/>
<line x1="407.30" y1="504.22" x2="407.30" y2="507.32" stroke="#6e6e6e" stroke-width="0.9"/>
<line x1="429.60" y1="505.77" x2="433.20" y2="505.77" stroke="#6e6e6e" stroke-width="0.9"/>
<line x1="433.20" y1="504.22" x2="433.20" y2="507.32" stroke="#6e6e6e" stroke-width="0.9"/>
<rect x="411.60" y="502.66" width="18.00" height="6.20" fill="#7b4a4a" stroke="#5a5a5a" stroke-width="0.8"/>
<line x1="420.00" y1="502.66" x2="420.00" y2="508.87" stroke="#5a5a5a" stroke-width="0.8"/>
<line x1="402.70" y1="511.97" x2="415.20" y2="511.97" stroke="#6e6e6e" stroke-width="0.9"/>
<line x1="402.70" y1="510.42" x2="402.70" y2="513.52" stroke="#6e6e6e" stroke-width="0.9"/>
<line x1="426.00" y1="511.97" x2="434.00" y2="511.97" stroke="#6e6e6e" stroke-width="0.9"/>
<line x1="434.00" y1="510.42" x2="434.00" y2="513.52" stroke="#6e6e6e" stroke-width="0.9"/>
<rect x="415.20" y="508.87" width="10.80" height="6.20" fill="#e070f0" stroke="#5a5a5a" stroke-width="0.8"/>
<line x1="422.00" y1="508.87" x2="422.00" y2="515.07" stroke="#5a5a5a" stroke-width="0.8"/>
<line x1="417.10" y1="522.83" x2="422.00" y2="522.83" stroke="#6e6e6e" stroke-width="0.9"/>
<line x1="417.10" y1="521.28" x2="417.10" y2="524.38" stroke="#6e6e6e" stroke-width="0.9"/>
<line x1="428.90" y1="522.83" x2="433.00" y2="522.83" stroke="#6e6e6e" stroke-width="0.9"/>
<line x1="433.00" y1="521.28" x2="433.00" y2="524.38" stroke="#6e6e6e" stroke-width="0.9"/>
<rect x="422.00" y="519.73" width="6.90" height="6.20" fill="#2f86e0" stroke="#5a5a5a" stroke-width="0.8"/>
<line x1="425.00" y1="519.73" x2="425.00" y2="525.93" stroke="#5a5a5a" stroke-width="0.8"/>
<line x1="416.00" y1="529.03" x2="421.00" y2="529.03" stroke="#6e6e6e" stroke-width="0.9"/>
<line x1="416.00" y1="527.48" x2="416.00" y2="530.58" stroke="#6e6e6e" stroke-width="0.9"/>
<line x1="429.60" y1="529.03" x2="433.20" y2="529.03" stroke="#6e6e6e" stroke-width="0.9"/>
<line x1="433.20" y1="527.48" x2="433.20" y2="530.58" stroke="#6e6e6e" stroke-width="0.9"/>
<rect x="421.00" y="525.93" width="8.60" height="6.20" fill="#7b4a4a" stroke="#5a5a5a" stroke-width="0.8"/>
<line x1="425.00" y1="525.93" x2="425.00" y2="532.14" stroke="#5a5a5a" stroke-width="0.8"/>
<line x1="418.00" y1="535.24" x2="421.00" y2="535.24" stroke="#6e6e6e" stroke-width="0.9"/>
<line x1="418.00" y1="533.69" x2="418.00" y2="536.79" stroke="#6e6e6e" stroke-width="0.9"/>
<line x1="428.90" y1="535.24" x2="431.80" y2="535.24" stroke="#6e6e6e" stroke-width="0.9"/>
<line x1="431.80" y1="533.69" x2="431.80" y2="536.79" stroke="#6e6e6e" stroke-width="0.9"/>
<rect x="421.00" y="532.14" width="7.90" height="6.20" fill="#e070f0" stroke="#5a5a5a" stroke-width="0.8"/>
<line x1="425.00" y1="532.14" x2="425.00" y2="538.34" stroke="#5a5a5a" stroke-width="0.8"/>
<rect x="460.90" y="542.99" width="6.10" height="6.20" fill="#2f86e0" stroke="#5a5a5a" stroke-width="0.8"/>
<line x1="464.00" y1="542.99" x2="464.00" y2="549.20" stroke="#5a5a5a" stroke-width="0.8"/>
<line x1="457.30" y1="552.30" x2="460.90" y2="552.30" stroke="#6e6e6e" stroke-width="0.9"/>
<line x1="457.30" y1="550.75" x2="457.30" y2="553.85" stroke="#6e6e6e" stroke-width="0.9"/>
<rect x="460.90" y="549.20" width="5.80" height="6.20" fill="#7b4a4a" stroke="#5a5a5a" stroke-width="0.8"/>
<line x1="464.00" y1="549.20" x2="464.00" y2="555.40" stroke="#5a5a5a" stroke-width="0.8"/>
<line x1="457.30" y1="558.50" x2="460.90" y2="558.50" stroke="#6e6e6e" stroke-width="0.9"/>
<line x1="457.30" y1="556.95" x2="457.30" y2="560.06" stroke="#6e6e6e" stroke-width="0.9"/>
<rect x="460.90" y="555.40" width="5.80" height="6.20" fill="#e070f0" stroke="#5a5a5a" stroke-width="0.8"/>
<line x1="464.00" y1="555.40" x2="464.00" y2="561.61" stroke="#5a5a5a" stroke-width="0.8"/>
<line x1="405.00" y1="569.36" x2="409.70" y2="569.36" stroke="#6e6e6e" stroke-width="0.9"/>
<line x1="409.70" y1="567.81" x2="409.70" y2="570.91" stroke="#6e6e6e" stroke-width="0.9"/>
<rect x="401.80" y="566.26" width="3.20" height="6.20" fill="#2f86e0" stroke="#5a5a5a" stroke-width="0.8"/>
<line x1="403.50" y1="566.26" x2="403.50" y2="572.46" stroke="#5a5a5a" stroke-width="0.8"/>
<line x1="416.20" y1="575.57" x2="421.20" y2="575.57" stroke="#6e6e6e" stroke-width="0.9"/>
<line x1="421.20" y1="574.02" x2="421.20" y2="577.12" stroke="#6e6e6e" stroke-width="0.9"/>
<rect x="404.00" y="572.46" width="12.20" height="6.20" fill="#7b4a4a" stroke="#5a5a5a" stroke-width="0.8"/>
<line x1="410.00" y1="572.46" x2="410.00" y2="578.67" stroke="#5a5a5a" stroke-width="0.8"/>
<rect x="409.00" y="578.67" width="10.00" height="6.20" fill="#e070f0" stroke="#5a5a5a" stroke-width="0.8"/>
<line x1="413.00" y1="578.67" x2="413.00" y2="584.87" stroke="#5a5a5a" stroke-width="0.8"/>
<circle cx="371.67" cy="451.34" r="1.0" fill="#2a7ee8"/>
<circle cx="371.81" cy="453.10" r="1.0" fill="#2a7ee8"/>
<circle cx="371.62" cy="455.19" r="1.0" fill="#2a7ee8"/>
<circle cx="380.72" cy="451.12" r="1.0" fill="#2a7ee8"/>
<circle cx="380.62" cy="453.10" r="1.0" fill="#2a7ee8"/>
<circle cx="380.65" cy="454.73" r="1.0" fill="#2a7ee8"/>
<circle cx="337.90" cy="452.80" r="1.35" fill="#2a7ee8"/>
<circle cx="351.30" cy="452.69" r="1.35" fill="#2a7ee8"/>
<circle cx="394.80" cy="453.04" r="1.35" fill="#2a7ee8"/>
<circle cx="378.27" cy="450.90" r="1.0" fill="#2a7ee8"/>
<circle cx="378.36" cy="452.18" r="1.0" fill="#2a7ee8"/>
<circle cx="378.29" cy="453.58" r="1.0" fill="#2a7ee8"/>
<circle cx="378.22" cy="454.60" r="1.0" fill="#2a7ee8"/>
<circle cx="375.97" cy="451.09" r="1.0" fill="#2a7ee8"/>
<circle cx="376.07" cy="453.27" r="1.0" fill="#2a7ee8"/>
<circle cx="375.99" cy="454.65" r="1.0" fill="#2a7ee8"/>
<circle cx="374.43" cy="451.06" r="1.0" fill="#2a7ee8"/>
<circle cx="374.43" cy="452.77" r="1.0" fill="#2a7ee8"/>
<circle cx="374.51" cy="455.12" r="1.0" fill="#2a7ee8"/>
<circle cx="374.62" cy="451.13" r="1.0" fill="#2a7ee8"/>
<circle cx="374.84" cy="452.75" r="1.0" fill="#2a7ee8"/>
<circle cx="374.72" cy="454.78" r="1.0" fill="#2a7ee8"/>
<circle cx="379.19" cy="451.09" r="1.0" fill="#2a7ee8"/>
<circle cx="378.99" cy="455.07" r="1.0" fill="#2a7ee8"/>
<circle cx="368.75" cy="457.18" r="1.0" fill="#6e2f2f"/>
<circle cx="368.72" cy="459.19" r="1.0" fill="#6e2f2f"/>
<circle cx="368.60" cy="461.02" r="1.0" fill="#6e2f2f"/>
<circle cx="399.49" cy="457.66" r="1.0" fill="#6e2f2f"/>
<circle cx="399.38" cy="459.02" r="1.0" fill="#6e2f2f"/>
<circle cx="399.53" cy="461.18" r="1.0" fill="#6e2f2f"/>
<circle cx="382.44" cy="457.64" r="1.0" fill="#6e2f2f"/>
<circle cx="382.58" cy="458.49" r="1.0" fill="#6e2f2f"/>
<circle cx="382.68" cy="460.00" r="1.0" fill="#6e2f2f"/>
<circle cx="382.67" cy="460.83" r="1.0" fill="#6e2f2f"/>
<circle cx="379.09" cy="457.52" r="1.0" fill="#6e2f2f"/>
<circle cx="379.09" cy="459.44" r="1.0" fill="#6e2f2f"/>
<circle cx="379.21" cy="461.34" r="1.0" fill="#6e2f2f"/>
<circle cx="380.83" cy="457.13" r="1.0" fill="#6e2f2f"/>
<circle cx="380.92" cy="461.18" r="1.0" fill="#6e2f2f"/>
<circle cx="390.94" cy="457.21" r="1.0" fill="#6e2f2f"/>
<circle cx="391.19" cy="459.32" r="1.0" fill="#6e2f2f"/>
<circle cx="391.02" cy="460.83" r="1.0" fill="#6e2f2f"/>
<circle cx="373.41" cy="457.61" r="1.0" fill="#6e2f2f"/>
<circle cx="373.54" cy="460.94" r="1.0" fill="#6e2f2f"/>
<circle cx="393.63" cy="457.18" r="1.0" fill="#6e2f2f"/>
<circle cx="393.67" cy="461.29" r="1.0" fill="#6e2f2f"/>
<circle cx="374.95" cy="463.63" r="1.0" fill="#e040f0"/>
<circle cx="374.93" cy="465.45" r="1.0" fill="#e040f0"/>
<circle cx="375.03" cy="467.52" r="1.0" fill="#e040f0"/>
<circle cx="408.51" cy="463.71" r="1.0" fill="#e040f0"/>
<circle cx="408.59" cy="465.41" r="1.0" fill="#e040f0"/>
<circle cx="408.55" cy="467.51" r="1.0" fill="#e040f0"/>
<circle cx="351.90" cy="465.43" r="1.35" fill="#e040f0"/>
<circle cx="383.73" cy="463.79" r="1.0" fill="#e040f0"/>
<circle cx="383.84" cy="465.20" r="1.0" fill="#e040f0"/>
<circle cx="383.86" cy="467.56" r="1.0" fill="#e040f0"/>
<circle cx="393.04" cy="463.78" r="1.0" fill="#e040f0"/>
<circle cx="393.05" cy="464.97" r="1.0" fill="#e040f0"/>
<circle cx="393.27" cy="465.91" r="1.0" fill="#e040f0"/>
<circle cx="393.21" cy="467.41" r="1.0" fill="#e040f0"/>
<circle cx="392.72" cy="463.42" r="1.0" fill="#e040f0"/>
<circle cx="392.69" cy="467.13" r="1.0" fill="#e040f0"/>
<circle cx="380.62" cy="463.48" r="1.0" fill="#e040f0"/>
<circle cx="380.89" cy="465.72" r="1.0" fill="#e040f0"/>
<circle cx="380.72" cy="467.12" r="1.0" fill="#e040f0"/>
<circle cx="375.76" cy="463.38" r="1.0" fill="#e040f0"/>
<circle cx="375.77" cy="467.29" r="1.0" fill="#e040f0"/>
<circle cx="402.23" cy="463.76" r="1.0" fill="#e040f0"/>
<circle cx="402.35" cy="467.14" r="1.0" fill="#e040f0"/>
<circle cx="412.78" cy="474.46" r="1.0" fill="#2a7ee8"/>
<circle cx="412.67" cy="476.01" r="1.0" fill="#2a7ee8"/>
<circle cx="412.77" cy="478.17" r="1.0" fill="#2a7ee8"/>
<circle cx="421.36" cy="474.43" r="1.0" fill="#2a7ee8"/>
<circle cx="421.39" cy="476.30" r="1.0" fill="#2a7ee8"/>
<circle cx="421.45" cy="478.10" r="1.0" fill="#2a7ee8"/>
<circle cx="417.33" cy="474.59" r="1.0" fill="#2a7ee8"/>
<circle cx="417.63" cy="475.63" r="1.0" fill="#2a7ee8"/>
<circle cx="417.41" cy="476.70" r="1.0" fill="#2a7ee8"/>
<circle cx="417.34" cy="478.07" r="1.0" fill="#2a7ee8"/>
<circle cx="417.57" cy="474.31" r="1.0" fill="#2a7ee8"/>
<circle cx="417.69" cy="475.47" r="1.0" fill="#2a7ee8"/>
<circle cx="417.34" cy="476.84" r="1.0" fill="#2a7ee8"/>
<circle cx="417.57" cy="478.07" r="1.0" fill="#2a7ee8"/>
<circle cx="416.04" cy="474.51" r="1.0" fill="#2a7ee8"/>
<circle cx="416.00" cy="476.58" r="1.0" fill="#2a7ee8"/>
<circle cx="416.03" cy="478.21" r="1.0" fill="#2a7ee8"/>
<circle cx="417.03" cy="474.31" r="1.0" fill="#2a7ee8"/>
<circle cx="417.27" cy="478.10" r="1.0" fill="#2a7ee8"/>
<circle cx="413.16" cy="474.52" r="1.0" fill="#2a7ee8"/>
<circle cx="413.01" cy="478.11" r="1.0" fill="#2a7ee8"/>
<circle cx="412.93" cy="480.77" r="1.0" fill="#6e2f2f"/>
<circle cx="413.17" cy="482.30" r="1.0" fill="#6e2f2f"/>
<circle cx="413.02" cy="484.35" r="1.0" fill="#6e2f2f"/>
<circle cx="426.16" cy="480.62" r="1.0" fill="#6e2f2f"/>
<circle cx="425.95" cy="482.53" r="1.0" fill="#6e2f2f"/>
<circle cx="426.04" cy="484.50" r="1.0" fill="#6e2f2f"/>
<circle cx="418.98" cy="480.76" r="1.0" fill="#6e2f2f"/>
<circle cx="418.96" cy="482.60" r="1.0" fill="#6e2f2f"/>
<circle cx="418.96" cy="484.39" r="1.0" fill="#6e2f2f"/>
<circle cx="416.85" cy="480.57" r="1.0" fill="#6e2f2f"/>
<circle cx="416.74" cy="481.77" r="1.0" fill="#6e2f2f"/>
<circle cx="416.90" cy="483.11" r="1.0" fill="#6e2f2f"/>
<circle cx="416.73" cy="484.20" r="1.0" fill="#6e2f2f"/>
<circle cx="414.30" cy="480.47" r="1.0" fill="#6e2f2f"/>
<circle cx="414.31" cy="482.42" r="1.0" fill="#6e2f2f"/>
<circle cx="414.52" cy="484.28" r="1.0" fill="#6e2f2f"/>
<circle cx="418.69" cy="480.50" r="1.0" fill="#6e2f2f"/>
<circle cx="418.65" cy="482.15" r="1.0" fill="#6e2f2f"/>
<circle cx="418.48" cy="482.97" r="1.0" fill="#6e2f2f"/>
<circle cx="418.52" cy="484.27" r="1.0" fill="#6e2f2f"/>
<circle cx="425.32" cy="480.40" r="1.0" fill="#6e2f2f"/>
<circle cx="425.00" cy="484.14" r="1.0" fill="#6e2f2f"/>
<circle cx="413.16" cy="486.62" r="1.0" fill="#e040f0"/>
<circle cx="412.97" cy="488.67" r="1.0" fill="#e040f0"/>
<circle cx="413.03" cy="490.61" r="1.0" fill="#e040f0"/>
<circle cx="436.07" cy="487.13" r="1.0" fill="#e040f0"/>
<circle cx="436.01" cy="488.58" r="1.0" fill="#e040f0"/>
<circle cx="435.96" cy="490.81" r="1.0" fill="#e040f0"/>
<circle cx="427.29" cy="486.56" r="1.0" fill="#e040f0"/>
<circle cx="427.44" cy="488.41" r="1.0" fill="#e040f0"/>
<circle cx="427.41" cy="490.34" r="1.0" fill="#e040f0"/>
<circle cx="427.29" cy="486.67" r="1.0" fill="#e040f0"/>
<circle cx="427.11" cy="488.79" r="1.0" fill="#e040f0"/>
<circle cx="427.23" cy="490.64" r="1.0" fill="#e040f0"/>
<circle cx="425.47" cy="487.12" r="1.0" fill="#e040f0"/>
<circle cx="425.41" cy="490.34" r="1.0" fill="#e040f0"/>
<circle cx="417.73" cy="487.12" r="1.0" fill="#e040f0"/>
<circle cx="417.82" cy="488.04" r="1.0" fill="#e040f0"/>
<circle cx="417.84" cy="489.09" r="1.0" fill="#e040f0"/>
<circle cx="417.99" cy="490.75" r="1.0" fill="#e040f0"/>
<circle cx="414.31" cy="486.70" r="1.0" fill="#e040f0"/>
<circle cx="414.54" cy="490.31" r="1.0" fill="#e040f0"/>
<circle cx="436.14" cy="486.60" r="1.0" fill="#e040f0"/>
<circle cx="436.07" cy="490.64" r="1.0" fill="#e040f0"/>
<circle cx="401.30" cy="497.65" r="1.0" fill="#2a7ee8"/>
<circle cx="401.59" cy="499.46" r="1.0" fill="#2a7ee8"/>
<circle cx="401.44" cy="501.62" r="1.0" fill="#2a7ee8"/>
<circle cx="417.28" cy="497.43" r="1.0" fill="#2a7ee8"/>
<circle cx="417.41" cy="499.27" r="1.0" fill="#2a7ee8"/>
<circle cx="417.49" cy="501.68" r="1.0" fill="#2a7ee8"/>
<circle cx="409.68" cy="497.78" r="1.0" fill="#2a7ee8"/>
<circle cx="409.50" cy="498.78" r="1.0" fill="#2a7ee8"/>
<circle cx="409.57" cy="500.01" r="1.0" fill="#2a7ee8"/>
<circle cx="409.66" cy="501.36" r="1.0" fill="#2a7ee8"/>
<circle cx="411.41" cy="497.99" r="1.0" fill="#2a7ee8"/>
<circle cx="411.46" cy="499.04" r="1.0" fill="#2a7ee8"/>
<circle cx="411.52" cy="499.94" r="1.0" fill="#2a7ee8"/>
<circle cx="411.45" cy="501.48" r="1.0" fill="#2a7ee8"/>
<circle cx="407.98" cy="497.67" r="1.0" fill="#2a7ee8"/>
<circle cx="408.17" cy="501.51" r="1.0" fill="#2a7ee8"/>
<circle cx="409.82" cy="497.63" r="1.0" fill="#2a7ee8"/>
<circle cx="409.69" cy="501.25" r="1.0" fill="#2a7ee8"/>
<circle cx="401.87" cy="497.78" r="1.0" fill="#2a7ee8"/>
<circle cx="401.73" cy="501.23" r="1.0" fill="#2a7ee8"/>
<circle cx="415.47" cy="497.72" r="1.0" fill="#2a7ee8"/>
<circle cx="415.73" cy="501.69" r="1.0" fill="#2a7ee8"/>
<circle cx="407.20" cy="503.89" r="1.0" fill="#6e2f2f"/>
<circle cx="407.27" cy="506.02" r="1.0" fill="#6e2f2f"/>
<circle cx="407.29" cy="507.33" r="1.0" fill="#6e2f2f"/>
<circle cx="433.28" cy="503.61" r="1.0" fill="#6e2f2f"/>
<circle cx="433.36" cy="505.99" r="1.0" fill="#6e2f2f"/>
<circle cx="433.27" cy="507.36" r="1.0" fill="#6e2f2f"/>
<circle cx="414.25" cy="503.79" r="1.0" fill="#6e2f2f"/>
<circle cx="414.19" cy="505.03" r="1.0" fill="#6e2f2f"/>
<circle cx="414.31" cy="506.17" r="1.0" fill="#6e2f2f"/>
<circle cx="414.45" cy="507.38" r="1.0" fill="#6e2f2f"/>
<circle cx="414.06" cy="503.63" r="1.0" fill="#6e2f2f"/>
<circle cx="413.70" cy="504.96" r="1.0" fill="#6e2f2f"/>
<circle cx="413.88" cy="506.53" r="1.0" fill="#6e2f2f"/>
<circle cx="413.87" cy="507.79" r="1.0" fill="#6e2f2f"/>
<circle cx="414.46" cy="503.98" r="1.0" fill="#6e2f2f"/>
<circle cx="414.63" cy="505.87" r="1.0" fill="#6e2f2f"/>
<circle cx="414.43" cy="507.91" r="1.0" fill="#6e2f2f"/>
<circle cx="421.14" cy="503.65" r="1.0" fill="#6e2f2f"/>
<circle cx="421.04" cy="506.02" r="1.0" fill="#6e2f2f"/>
<circle cx="421.09" cy="507.75" r="1.0" fill="#6e2f2f"/>
<circle cx="407.81" cy="503.84" r="1.0" fill="#6e2f2f"/>
<circle cx="407.64" cy="507.69" r="1.0" fill="#6e2f2f"/>
<circle cx="431.49" cy="503.79" r="1.0" fill="#6e2f2f"/>
<circle cx="431.39" cy="507.48" r="1.0" fill="#6e2f2f"/>
<circle cx="402.90" cy="510.21" r="1.0" fill="#e040f0"/>
<circle cx="402.66" cy="511.70" r="1.0" fill="#e040f0"/>
<circle cx="402.63" cy="513.76" r="1.0" fill="#e040f0"/>
<circle cx="434.17" cy="510.20" r="1.0" fill="#e040f0"/>
<circle cx="433.97" cy="511.94" r="1.0" fill="#e040f0"/>
<circle cx="434.03" cy="513.79" r="1.0" fill="#e040f0"/>
<circle cx="418.10" cy="510.04" r="1.0" fill="#e040f0"/>
<circle cx="418.10" cy="511.89" r="1.0" fill="#e040f0"/>
<circle cx="418.13" cy="513.77" r="1.0" fill="#e040f0"/>
<circle cx="416.26" cy="510.04" r="1.0" fill="#e040f0"/>
<circle cx="416.40" cy="511.75" r="1.0" fill="#e040f0"/>
<circle cx="416.06" cy="513.99" r="1.0" fill="#e040f0"/>
<circle cx="423.37" cy="510.06" r="1.0" fill="#e040f0"/>
<circle cx="423.19" cy="512.03" r="1.0" fill="#e040f0"/>
<circle cx="423.23" cy="513.82" r="1.0" fill="#e040f0"/>
<circle cx="420.39" cy="510.14" r="1.0" fill="#e040f0"/>
<circle cx="420.17" cy="513.82" r="1.0" fill="#e040f0"/>
<circle cx="411.56" cy="510.15" r="1.0" fill="#e040f0"/>
<circle cx="411.72" cy="513.55" r="1.0" fill="#e040f0"/>
<circle cx="430.98" cy="510.22" r="1.0" fill="#e040f0"/>
<circle cx="430.93" cy="513.59" r="1.0" fill="#e040f0"/>
<circle cx="417.30" cy="520.92" r="1.0" fill="#2a7ee8"/>
<circle cx="417.18" cy="522.62" r="1.0" fill="#2a7ee8"/>
<circle cx="417.10" cy="524.77" r="1.0" fill="#2a7ee8"/>
<circle cx="433.01" cy="521.04" r="1.0" fill="#2a7ee8"/>
<circle cx="433.02" cy="522.55" r="1.0" fill="#2a7ee8"/>
<circle cx="432.94" cy="524.74" r="1.0" fill="#2a7ee8"/>
<circle cx="424.62" cy="521.00" r="1.0" fill="#2a7ee8"/>
<circle cx="424.61" cy="521.98" r="1.0" fill="#2a7ee8"/>
<circle cx="424.69" cy="523.27" r="1.0" fill="#2a7ee8"/>
<circle cx="424.88" cy="524.90" r="1.0" fill="#2a7ee8"/>
<circle cx="428.30" cy="520.87" r="1.0" fill="#2a7ee8"/>
<circle cx="428.23" cy="524.45" r="1.0" fill="#2a7ee8"/>
<circle cx="422.85" cy="521.13" r="1.0" fill="#2a7ee8"/>
<circle cx="422.81" cy="524.51" r="1.0" fill="#2a7ee8"/>
<circle cx="428.59" cy="520.67" r="1.0" fill="#2a7ee8"/>
<circle cx="428.43" cy="523.02" r="1.0" fill="#2a7ee8"/>
<circle cx="428.45" cy="524.48" r="1.0" fill="#2a7ee8"/>
<circle cx="419.91" cy="521.02" r="1.0" fill="#2a7ee8"/>
<circle cx="419.71" cy="524.60" r="1.0" fill="#2a7ee8"/>
<circle cx="429.31" cy="520.87" r="1.0" fill="#2a7ee8"/>
<circle cx="429.48" cy="524.51" r="1.0" fill="#2a7ee8"/>
<circle cx="415.88" cy="527.14" r="1.0" fill="#6e2f2f"/>
<circle cx="415.84" cy="528.94" r="1.0" fill="#6e2f2f"/>
<circle cx="416.11" cy="530.85" r="1.0" fill="#6e2f2f"/>
<circle cx="433.32" cy="527.30" r="1.0" fill="#6e2f2f"/>
<circle cx="433.10" cy="529.20" r="1.0" fill="#6e2f2f"/>
<circle cx="433.24" cy="531.04" r="1.0" fill="#6e2f2f"/>
<circle cx="427.59" cy="526.95" r="1.0" fill="#6e2f2f"/>
<circle cx="427.76" cy="528.93" r="1.0" fill="#6e2f2f"/>
<circle cx="427.54" cy="530.73" r="1.0" fill="#6e2f2f"/>
<circle cx="424.72" cy="527.34" r="1.0" fill="#6e2f2f"/>
<circle cx="424.83" cy="530.64" r="1.0" fill="#6e2f2f"/>
<circle cx="425.39" cy="527.21" r="1.0" fill="#6e2f2f"/>
<circle cx="425.67" cy="529.00" r="1.0" fill="#6e2f2f"/>
<circle cx="425.45" cy="531.19" r="1.0" fill="#6e2f2f"/>
<circle cx="423.40" cy="526.87" r="1.0" fill="#6e2f2f"/>
<circle cx="423.43" cy="528.95" r="1.0" fill="#6e2f2f"/>
<circle cx="423.42" cy="530.76" r="1.0" fill="#6e2f2f"/>
<circle cx="420.13" cy="526.99" r="1.0" fill="#6e2f2f"/>
<circle cx="420.22" cy="530.88" r="1.0" fill="#6e2f2f"/>
<circle cx="431.67" cy="527.31" r="1.0" fill="#6e2f2f"/>
<circle cx="431.52" cy="530.79" r="1.0" fill="#6e2f2f"/>
<circle cx="418.18" cy="533.52" r="1.0" fill="#e040f0"/>
<circle cx="417.95" cy="535.13" r="1.0" fill="#e040f0"/>
<circle cx="417.89" cy="536.80" r="1.0" fill="#e040f0"/>
<circle cx="431.61" cy="533.28" r="1.0" fill="#e040f0"/>
<circle cx="431.99" cy="535.30" r="1.0" fill="#e040f0"/>
<circle cx="431.86" cy="536.90" r="1.0" fill="#e040f0"/>
<circle cx="442.60" cy="535.24" r="1.35" fill="#e040f0"/>
<circle cx="425.22" cy="533.29" r="1.0" fill="#e040f0"/>
<circle cx="425.21" cy="536.80" r="1.0" fill="#e040f0"/>
<circle cx="424.79" cy="533.34" r="1.0" fill="#e040f0"/>
<circle cx="424.58" cy="534.76" r="1.0" fill="#e040f0"/>
<circle cx="424.80" cy="536.02" r="1.0" fill="#e040f0"/>
<circle cx="424.57" cy="536.92" r="1.0" fill="#e040f0"/>
<circle cx="423.34" cy="533.13" r="1.0" fill="#e040f0"/>
<circle cx="423.23" cy="537.28" r="1.0" fill="#e040f0"/>
<circle cx="428.60" cy="533.34" r="1.0" fill="#e040f0"/>
<circle cx="428.84" cy="537.33" r="1.0" fill="#e040f0"/>
<circle cx="419.96" cy="533.27" r="1.0" fill="#e040f0"/>
<circle cx="419.90" cy="537.39" r="1.0" fill="#e040f0"/>
<circle cx="429.58" cy="533.27" r="1.0" fill="#e040f0"/>
<circle cx="429.48" cy="537.32" r="1.0" fill="#e040f0"/>
<circle cx="460.86" cy="543.94" r="1.0" fill="#2a7ee8"/>
<circle cx="460.95" cy="544.99" r="1.0" fill="#2a7ee8"/>
<circle cx="460.82" cy="546.34" r="1.0" fill="#2a7ee8"/>
<circle cx="460.73" cy="547.26" r="1.0" fill="#2a7ee8"/>
<circle cx="460.92" cy="548.42" r="1.0" fill="#2a7ee8"/>
<circle cx="467.12" cy="543.82" r="1.0" fill="#2a7ee8"/>
<circle cx="467.16" cy="544.85" r="1.0" fill="#2a7ee8"/>
<circle cx="466.92" cy="546.12" r="1.0" fill="#2a7ee8"/>
<circle cx="467.10" cy="547.09" r="1.0" fill="#2a7ee8"/>
<circle cx="466.95" cy="548.07" r="1.0" fill="#2a7ee8"/>
<circle cx="464.79" cy="543.73" r="1.0" fill="#2a7ee8"/>
<circle cx="464.82" cy="544.89" r="1.0" fill="#2a7ee8"/>
<circle cx="464.84" cy="546.37" r="1.0" fill="#2a7ee8"/>
<circle cx="465.01" cy="547.37" r="1.0" fill="#2a7ee8"/>
<circle cx="464.64" cy="548.34" r="1.0" fill="#2a7ee8"/>
<circle cx="462.20" cy="544.06" r="1.0" fill="#2a7ee8"/>
<circle cx="462.28" cy="544.74" r="1.0" fill="#2a7ee8"/>
<circle cx="462.35" cy="546.11" r="1.0" fill="#2a7ee8"/>
<circle cx="462.38" cy="547.03" r="1.0" fill="#2a7ee8"/>
<circle cx="462.32" cy="548.29" r="1.0" fill="#2a7ee8"/>
<circle cx="463.65" cy="544.09" r="1.0" fill="#2a7ee8"/>
<circle cx="463.75" cy="545.22" r="1.0" fill="#2a7ee8"/>
<circle cx="463.63" cy="545.85" r="1.0" fill="#2a7ee8"/>
<circle cx="463.67" cy="547.37" r="1.0" fill="#2a7ee8"/>
<circle cx="463.42" cy="548.20" r="1.0" fill="#2a7ee8"/>
<circle cx="466.15" cy="544.14" r="1.0" fill="#2a7ee8"/>
<circle cx="466.23" cy="545.29" r="1.0" fill="#2a7ee8"/>
<circle cx="466.26" cy="545.95" r="1.0" fill="#2a7ee8"/>
<circle cx="466.12" cy="547.44" r="1.0" fill="#2a7ee8"/>
<circle cx="466.14" cy="548.11" r="1.0" fill="#2a7ee8"/>
<circle cx="457.42" cy="547.99" r="1.0" fill="#6e2f2f"/>
<circle cx="457.22" cy="550.17" r="1.0" fill="#6e2f2f"/>
<circle cx="457.33" cy="552.38" r="1.0" fill="#6e2f2f"/>
<circle cx="457.44" cy="554.31" r="1.0" fill="#6e2f2f"/>
<circle cx="457.24" cy="556.34" r="1.0" fill="#6e2f2f"/>
<circle cx="466.72" cy="548.01" r="1.0" fill="#6e2f2f"/>
<circle cx="466.71" cy="550.20" r="1.0" fill="#6e2f2f"/>
<circle cx="466.50" cy="552.21" r="1.0" fill="#6e2f2f"/>
<circle cx="466.56" cy="554.04" r="1.0" fill="#6e2f2f"/>
<circle cx="466.84" cy="556.09" r="1.0" fill="#6e2f2f"/>
<circle cx="461.48" cy="548.32" r="1.0" fill="#6e2f2f"/>
<circle cx="461.64" cy="550.41" r="1.0" fill="#6e2f2f"/>
<circle cx="461.69" cy="552.04" r="1.0" fill="#6e2f2f"/>
<circle cx="461.79" cy="554.15" r="1.0" fill="#6e2f2f"/>
<circle cx="461.50" cy="556.12" r="1.0" fill="#6e2f2f"/>
<circle cx="464.87" cy="548.12" r="1.0" fill="#6e2f2f"/>
<circle cx="464.76" cy="550.47" r="1.0" fill="#6e2f2f"/>
<circle cx="464.70" cy="552.09" r="1.0" fill="#6e2f2f"/>
<circle cx="464.55" cy="554.44" r="1.0" fill="#6e2f2f"/>
<circle cx="464.86" cy="556.59" r="1.0" fill="#6e2f2f"/>
<circle cx="464.87" cy="548.53" r="1.0" fill="#6e2f2f"/>
<circle cx="464.98" cy="550.35" r="1.0" fill="#6e2f2f"/>
<circle cx="464.72" cy="552.16" r="1.0" fill="#6e2f2f"/>
<circle cx="464.67" cy="554.09" r="1.0" fill="#6e2f2f"/>
<circle cx="464.63" cy="556.51" r="1.0" fill="#6e2f2f"/>
<circle cx="462.74" cy="548.41" r="1.0" fill="#6e2f2f"/>
<circle cx="462.89" cy="550.51" r="1.0" fill="#6e2f2f"/>
<circle cx="462.92" cy="552.41" r="1.0" fill="#6e2f2f"/>
<circle cx="462.69" cy="554.04" r="1.0" fill="#6e2f2f"/>
<circle cx="462.76" cy="556.25" r="1.0" fill="#6e2f2f"/>
<circle cx="459.21" cy="548.37" r="1.0" fill="#6e2f2f"/>
<circle cx="459.23" cy="550.43" r="1.0" fill="#6e2f2f"/>
<circle cx="459.00" cy="552.42" r="1.0" fill="#6e2f2f"/>
<circle cx="459.16" cy="554.32" r="1.0" fill="#6e2f2f"/>
<circle cx="459.01" cy="556.52" r="1.0" fill="#6e2f2f"/>
<circle cx="457.33" cy="556.79" r="1.0" fill="#e040f0"/>
<circle cx="457.48" cy="558.97" r="1.0" fill="#e040f0"/>
<circle cx="457.33" cy="561.24" r="1.0" fill="#e040f0"/>
<circle cx="457.45" cy="563.24" r="1.0" fill="#e040f0"/>
<circle cx="457.43" cy="564.84" r="1.0" fill="#e040f0"/>
<circle cx="466.90" cy="557.17" r="1.0" fill="#e040f0"/>
<circle cx="466.66" cy="559.14" r="1.0" fill="#e040f0"/>
<circle cx="466.76" cy="560.83" r="1.0" fill="#e040f0"/>
<circle cx="466.80" cy="562.85" r="1.0" fill="#e040f0"/>
<circle cx="466.83" cy="565.08" r="1.0" fill="#e040f0"/>
<circle cx="462.88" cy="556.89" r="1.0" fill="#e040f0"/>
<circle cx="463.03" cy="559.23" r="1.0" fill="#e040f0"/>
<circle cx="462.99" cy="560.93" r="1.0" fill="#e040f0"/>
<circle cx="463.02" cy="562.98" r="1.0" fill="#e040f0"/>
<circle cx="462.88" cy="565.05" r="1.0" fill="#e040f0"/>
<circle cx="461.98" cy="557.26" r="1.0" fill="#e040f0"/>
<circle cx="461.73" cy="559.14" r="1.0" fill="#e040f0"/>
<circle cx="461.91" cy="560.82" r="1.0" fill="#e040f0"/>
<circle cx="461.88" cy="563.21" r="1.0" fill="#e040f0"/>
<circle cx="461.91" cy="564.87" r="1.0" fill="#e040f0"/>
<circle cx="465.97" cy="556.99" r="1.0" fill="#e040f0"/>
<circle cx="466.00" cy="559.04" r="1.0" fill="#e040f0"/>
<circle cx="466.12" cy="561.09" r="1.0" fill="#e040f0"/>
<circle cx="465.87" cy="563.31" r="1.0" fill="#e040f0"/>
<circle cx="466.20" cy="565.08" r="1.0" fill="#e040f0"/>
<circle cx="462.35" cy="557.07" r="1.0" fill="#e040f0"/>
<circle cx="462.13" cy="559.20" r="1.0" fill="#e040f0"/>
<circle cx="462.37" cy="561.18" r="1.0" fill="#e040f0"/>
<circle cx="462.24" cy="563.07" r="1.0" fill="#e040f0"/>
<circle cx="462.17" cy="565.11" r="1.0" fill="#e040f0"/>
<circle cx="458.95" cy="556.99" r="1.0" fill="#e040f0"/>
<circle cx="459.17" cy="559.25" r="1.0" fill="#e040f0"/>
<circle cx="459.15" cy="560.99" r="1.0" fill="#e040f0"/>
<circle cx="459.06" cy="562.95" r="1.0" fill="#e040f0"/>
<circle cx="459.19" cy="564.83" r="1.0" fill="#e040f0"/>
<circle cx="401.65" cy="567.46" r="1.0" fill="#2a7ee8"/>
<circle cx="401.76" cy="569.30" r="1.0" fill="#2a7ee8"/>
<circle cx="401.85" cy="571.10" r="1.0" fill="#2a7ee8"/>
<circle cx="409.84" cy="567.55" r="1.0" fill="#2a7ee8"/>
<circle cx="409.58" cy="569.34" r="1.0" fill="#2a7ee8"/>
<circle cx="409.68" cy="571.33" r="1.0" fill="#2a7ee8"/>
<circle cx="393.90" cy="569.55" r="1.35" fill="#2a7ee8"/>
<circle cx="421.20" cy="569.17" r="1.35" fill="#2a7ee8"/>
<circle cx="404.14" cy="567.24" r="1.0" fill="#2a7ee8"/>
<circle cx="404.16" cy="569.39" r="1.0" fill="#2a7ee8"/>
<circle cx="404.14" cy="571.31" r="1.0" fill="#2a7ee8"/>
<circle cx="402.23" cy="567.61" r="1.0" fill="#2a7ee8"/>
<circle cx="401.89" cy="569.58" r="1.0" fill="#2a7ee8"/>
<circle cx="402.10" cy="570.97" r="1.0" fill="#2a7ee8"/>
<circle cx="401.89" cy="567.29" r="1.0" fill="#2a7ee8"/>
<circle cx="401.68" cy="568.83" r="1.0" fill="#2a7ee8"/>
<circle cx="401.85" cy="569.90" r="1.0" fill="#2a7ee8"/>
<circle cx="401.80" cy="570.98" r="1.0" fill="#2a7ee8"/>
<circle cx="403.76" cy="567.50" r="1.0" fill="#2a7ee8"/>
<circle cx="403.88" cy="570.99" r="1.0" fill="#2a7ee8"/>
<circle cx="407.79" cy="567.43" r="1.0" fill="#2a7ee8"/>
<circle cx="407.47" cy="571.39" r="1.0" fill="#2a7ee8"/>
<circle cx="404.15" cy="573.62" r="1.0" fill="#6e2f2f"/>
<circle cx="403.86" cy="575.57" r="1.0" fill="#6e2f2f"/>
<circle cx="404.06" cy="577.27" r="1.0" fill="#6e2f2f"/>
<circle cx="421.35" cy="573.57" r="1.0" fill="#6e2f2f"/>
<circle cx="421.35" cy="575.30" r="1.0" fill="#6e2f2f"/>
<circle cx="421.33" cy="577.50" r="1.0" fill="#6e2f2f"/>
<circle cx="404.90" cy="573.62" r="1.0" fill="#6e2f2f"/>
<circle cx="405.13" cy="577.23" r="1.0" fill="#6e2f2f"/>
<circle cx="410.69" cy="573.42" r="1.0" fill="#6e2f2f"/>
<circle cx="411.00" cy="575.74" r="1.0" fill="#6e2f2f"/>
<circle cx="410.98" cy="577.64" r="1.0" fill="#6e2f2f"/>
<circle cx="412.37" cy="573.74" r="1.0" fill="#6e2f2f"/>
<circle cx="412.24" cy="577.55" r="1.0" fill="#6e2f2f"/>
<circle cx="406.04" cy="573.66" r="1.0" fill="#6e2f2f"/>
<circle cx="406.13" cy="577.18" r="1.0" fill="#6e2f2f"/>
<circle cx="416.48" cy="573.68" r="1.0" fill="#6e2f2f"/>
<circle cx="416.67" cy="577.71" r="1.0" fill="#6e2f2f"/>
<circle cx="408.95" cy="579.63" r="1.0" fill="#e040f0"/>
<circle cx="409.02" cy="581.97" r="1.0" fill="#e040f0"/>
<circle cx="408.87" cy="583.85" r="1.0" fill="#e040f0"/>
<circle cx="418.99" cy="579.66" r="1.0" fill="#e040f0"/>
<circle cx="418.87" cy="581.96" r="1.0" fill="#e040f0"/>
<circle cx="419.04" cy="583.53" r="1.0" fill="#e040f0"/>
<circle cx="399.60" cy="582.10" r="1.35" fill="#e040f0"/>
<circle cx="430.60" cy="581.64" r="1.35" fill="#e040f0"/>
<circle cx="416.39" cy="580.16" r="1.0" fill="#e040f0"/>
<circle cx="416.57" cy="583.38" r="1.0" fill="#e040f0"/>
<circle cx="411.21" cy="580.09" r="1.0" fill="#e040f0"/>
<circle cx="411.07" cy="581.19" r="1.0" fill="#e040f0"/>
<circle cx="411.08" cy="582.31" r="1.0" fill="#e040f0"/>
<circle cx="411.11" cy="583.44" r="1.0" fill="#e040f0"/>
<circle cx="411.75" cy="580.13" r="1.0" fill="#e040f0"/>
<circle cx="411.66" cy="583.70" r="1.0" fill="#e040f0"/>
<circle cx="413.86" cy="579.61" r="1.0" fill="#e040f0"/>
<circle cx="413.84" cy="581.72" r="1.0" fill="#e040f0"/>
<circle cx="413.62" cy="583.36" r="1.0" fill="#e040f0"/>
<rect x="331.30" y="447.60" width="141.00" height="139.60" fill="none" stroke="#262626" stroke-width="0.9"/>
<line x1="328.80" y1="459.23" x2="331.30" y2="459.23" stroke="#262626" stroke-width="0.9"/>
<line x1="328.80" y1="482.50" x2="331.30" y2="482.50" stroke="#262626" stroke-width="0.9"/>
<line x1="328.80" y1="505.77" x2="331.30" y2="505.77" stroke="#262626" stroke-width="0.9"/>
<line x1="328.80" y1="529.03" x2="331.30" y2="529.03" stroke="#262626" stroke-width="0.9"/>
<line x1="328.80" y1="552.30" x2="331.30" y2="552.30" stroke="#262626" stroke-width="0.9"/>
<line x1="328.80" y1="575.57" x2="331.30" y2="575.57" stroke="#262626" stroke-width="0.9"/>
<line x1="344.30" y1="587.20" x2="344.30" y2="589.70" stroke="#262626" stroke-width="0.9"/>
<text x="344.30" y="596.40" font-size="7.3" text-anchor="middle" fill="#000" textLength="10.10" lengthAdjust="spacingAndGlyphs">0.4</text>
<line x1="365.20" y1="587.20" x2="365.20" y2="589.70" stroke="#262626" stroke-width="0.9"/>
<text x="365.20" y="596.40" font-size="7.3" text-anchor="middle" fill="#000" textLength="10.10" lengthAdjust="spacingAndGlyphs">0.5</text>
<line x1="386.10" y1="587.20" x2="386.10" y2="589.70" stroke="#262626" stroke-width="0.9"/>
<text x="386.10" y="596.40" font-size="7.3" text-anchor="middle" fill="#000" textLength="10.10" lengthAdjust="spacingAndGlyphs">0.6</text>
<line x1="407.00" y1="587.20" x2="407.00" y2="589.70" stroke="#262626" stroke-width="0.9"/>
<text x="407.00" y="596.40" font-size="7.3" text-anchor="middle" fill="#000" textLength="10.10" lengthAdjust="spacingAndGlyphs">0.7</text>
<line x1="427.90" y1="587.20" x2="427.90" y2="589.70" stroke="#262626" stroke-width="0.9"/>
<text x="427.90" y="596.40" font-size="7.3" text-anchor="middle" fill="#000" textLength="10.10" lengthAdjust="spacingAndGlyphs">0.8</text>
<line x1="448.80" y1="587.20" x2="448.80" y2="589.70" stroke="#262626" stroke-width="0.9"/>
<text x="448.80" y="596.40" font-size="7.3" text-anchor="middle" fill="#000" textLength="10.10" lengthAdjust="spacingAndGlyphs">0.9</text>
<line x1="469.70" y1="587.20" x2="469.70" y2="589.70" stroke="#262626" stroke-width="0.9"/>
<text x="469.70" y="596.40" font-size="7.3" text-anchor="middle" fill="#000" textLength="10.10" lengthAdjust="spacingAndGlyphs">1.0</text>
<text x="401.90" y="605.00" font-size="7.3" text-anchor="middle" fill="#000" textLength="39.00" lengthAdjust="spacingAndGlyphs">F1 Weighted</text>
<text x="379.70" y="439.00" font-size="9.5" text-anchor="start" fill="#000" textLength="19.50" lengthAdjust="spacingAndGlyphs">QPU</text>
<text x="53.80" y="517.10" font-size="7.5" text-anchor="middle" fill="#000" textLength="29.40" lengthAdjust="spacingAndGlyphs" transform="rotate(-90 53.80 517.10)">Antibiotic</text>
<rect x="174.10" y="618.20" width="10.20" height="6.50" fill="#2a5ef5"/>
<text x="186.60" y="624.10" font-size="9" text-anchor="start" fill="#000" textLength="81.10" lengthAdjust="spacingAndGlyphs">Quantum Projection</text>
<rect x="298.40" y="618.20" width="10.20" height="6.50" fill="#7a4a55"/>
<text x="310.90" y="624.10" font-size="9" text-anchor="start" fill="#000" textLength="62.70" lengthAdjust="spacingAndGlyphs">Random Forest</text>
<rect x="413.00" y="618.20" width="10.20" height="6.50" fill="#d45ff0"/>
<text x="425.10" y="624.10" font-size="9" text-anchor="start" fill="#000" textLength="36.50" lengthAdjust="spacingAndGlyphs">XGBoost</text>
</svg>
</body></html>
